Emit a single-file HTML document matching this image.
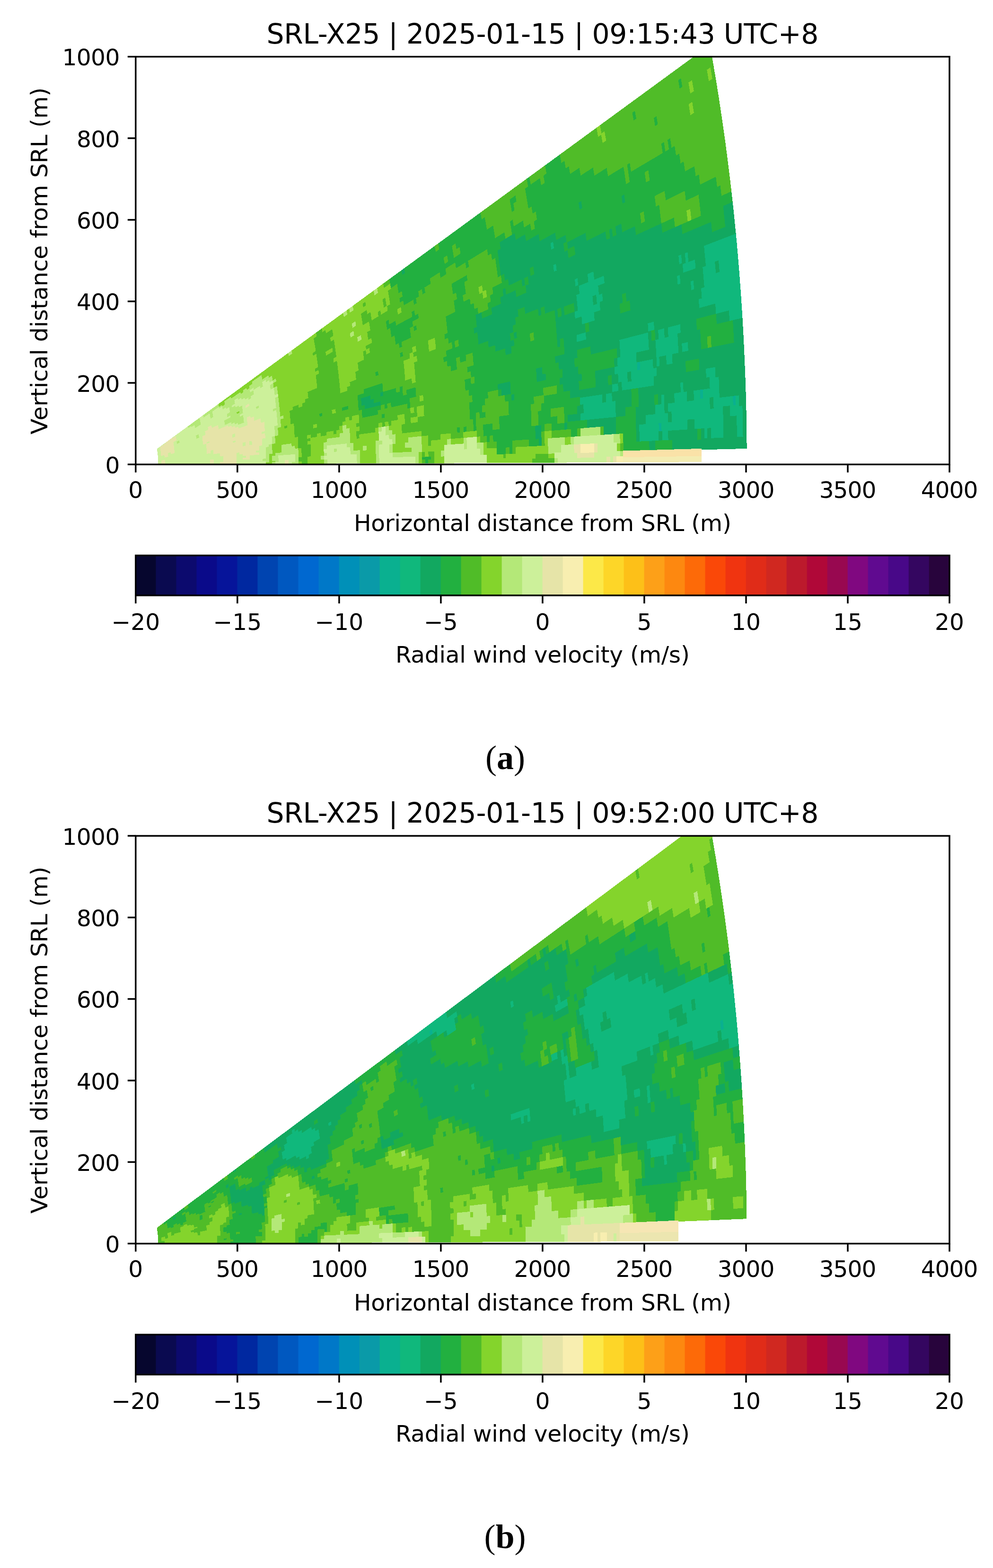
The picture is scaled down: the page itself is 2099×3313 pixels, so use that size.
<!DOCTYPE html>
<html lang="en">
<head>
<meta charset="utf-8">
<title>SRL-X25 radial wind velocity</title>
<style>html,body{margin:0;padding:0;background:#fff}body{width:2099px;height:3313px;overflow:hidden}svg{display:block}</style>
</head>
<body>
<svg width="2099" height="3313" viewBox="0 0 2099 3313">
<defs><clipPath id="axclip"><rect x="286.8" y="119.8" width="1720.2" height="861.5"/></clipPath></defs>
<rect width="2099" height="3313" fill="#fff"/>
<g transform="translate(0,0)">
<g clip-path="url(#axclip)"><g shape-rendering="crispEdges"><path fill="#0ab090" d="M1391.7 913.6L1399.6 913.1L1399.3 891.1L1391.4 891.7ZM1548.8 859.2L1556.7 858.5L1556 833.4L1548.1 834.3ZM1479.6 844.8L1487.5 843.9L1486.8 820.1L1478.9 821.2ZM1346.5 784.6L1354.4 783.1L1353.3 762L1345.5 763.6Z"/>
<path fill="#10b87c" d="M1350.8 934.9L1393 933.1L1392.7 911.2L1350.5 913.9ZM1398.9 932.8L1413.6 932.2L1413.3 909.9L1398.6 910.8ZM1488.1 929L1496 928.6L1495.7 904.7L1487.8 905.2ZM1501.9 928.4L1530.4 927.1L1530.1 902.5L1501.6 904.3ZM1556.8 926L1571.6 925.3L1571.2 899.9L1556.5 900.8ZM1350.6 916.1L1392.8 913.5L1392.4 891.6L1350.2 895.1ZM1398.6 913.2L1454.6 909.7L1454.2 886.6L1398.2 891.2ZM1467.3 909L1530.1 905.1L1529.7 880.5L1466.9 885.6ZM1556.5 903.5L1571.3 902.6L1570.8 877.2L1556.1 878.4ZM1364 896.2L1413 892.3L1412.5 870.1L1363.5 874.9ZM1418.9 891.9L1529.7 883.1L1529.2 858.5L1418.4 869.5ZM1542.4 882.1L1570.9 879.9L1570.3 854.5L1541.9 857.3ZM1226.3 890.4L1302.8 883L1302.3 862.9L1225.8 871.8ZM1384.1 875.2L1405.7 873.1L1405.1 850.9L1383.5 853.5ZM1411.6 872.5L1501.8 863.8L1501.1 839.7L1411 850.3ZM1507.6 863.2L1549.8 859.1L1549.1 834.2L1507 839.1ZM1555.6 858.6L1563.5 857.8L1562.9 832.6L1555 833.5ZM1232.7 873L1302.3 865.1L1301.7 845L1232.2 854.3ZM1397.3 854.2L1405.2 853.3L1404.5 831.2L1396.6 832.2ZM1424.8 851L1453.2 847.8L1452.5 824.7L1424.1 828.5ZM1465.9 846.3L1480.6 844.6L1479.9 821L1465.2 823ZM1486.5 844L1521.8 839.9L1521 815.5L1485.7 820.2ZM1225.4 857.2L1274.4 850.7L1273.7 831.2L1224.7 838.6ZM1280.2 849.9L1294.9 848L1294.2 828.1L1279.5 830.3ZM1437.8 829.1L1445.7 828.1L1444.9 805.1L1437 806.3ZM1499.5 820.9L1521.1 818.1L1520.3 793.7L1498.7 797ZM1293.3 830.3L1308 828.1L1307.2 807.9L1292.5 810.4ZM1313.8 827.2L1383.4 816.8L1382.5 795.1L1313 806.9ZM1491.9 800.5L1513.5 797.3L1512.5 773L1491 776.7ZM1306.3 810.2L1327.8 806.6L1326.9 786L1305.4 790.1ZM1333.6 805.6L1389.4 796.3L1388.5 774.5L1332.7 784.9ZM1298.6 793.5L1347.5 784.4L1346.5 763.4L1297.7 773.4ZM1353.3 783.3L1381.7 778L1380.7 756.4L1352.3 762.2ZM1387.5 777L1395.4 775.5L1394.3 753.6L1386.5 755.2ZM1408.1 773.1L1422.8 770.4L1421.7 747.9L1407 751ZM1304.6 774.2L1346.6 765.6L1345.5 744.7L1303.5 754ZM1386.6 757.5L1435.5 747.5L1434.3 724.8L1385.4 735.7ZM1441.3 746.4L1456 743.4L1454.7 720.2L1440.1 723.5ZM1310.5 754.7L1372.9 740.8L1371.7 719.3L1309.3 734.4ZM1385.6 738L1434.4 727.2L1433.1 704.5L1384.3 716.3ZM1309.4 736.6L1371.8 721.6L1370.5 700.2L1308.2 716.3ZM1391.3 717L1405.9 713.5L1404.6 691.3L1389.9 695.1ZM1411.7 712.1L1440 705.3L1438.6 682.5L1410.4 689.8ZM1541.3 681.1L1569.6 674.3L1568.1 648.9L1539.8 656.3ZM1369.6 702.7L1384.3 698.9L1382.8 677.2L1368.2 681.3ZM1512.7 665.9L1568.2 651.6L1566.5 626.3L1511.1 641.6ZM1218.7 724.8L1240.1 718.9L1238.7 700L1217.3 706.3ZM1477.2 653.6L1566.7 628.9L1564.9 603.6L1475.6 630ZM1482.5 630.5L1565.1 606.3L1563.2 581L1480.8 606.9ZM1229.8 687.6L1258 678.8L1256.4 659.6L1228.3 669ZM1460.6 615.7L1468.4 613.3L1466.5 589.9L1458.7 592.5ZM1487.7 607.3L1563.4 583.7L1561.4 558.5L1485.8 583.5ZM1214.9 675.4L1270.2 657.2L1268.5 637.7L1213.4 657ZM1431.8 603.9L1439.6 601.3L1437.7 578.6L1429.9 581.3ZM1486 586L1514.2 576.8L1512.1 552.5L1484 562.3ZM1519.9 574.9L1561.6 561.1L1559.5 535.9L1517.9 550.5ZM1220.3 656.6L1255.2 644.5L1253.5 625.4L1218.7 638.2ZM1260.9 642.5L1275.5 637.5L1273.7 617.9L1259.2 623.3ZM1443.6 579L1471.7 569.2L1469.6 545.8L1441.6 556.1ZM1491 562.5L1559.7 538.6L1557.5 513.4L1488.9 538.7ZM1218.8 640.1L1267.2 622.4L1265.3 603.1L1217.1 621.7ZM1435.1 561L1442.8 558.1L1440.7 535.3L1432.9 538.3ZM1448.6 556L1456.4 553.2L1454.2 530.1L1446.4 533.1ZM1489.1 541.2L1557.7 516.1L1555.4 491L1486.9 517.4ZM1224.1 621.1L1279 599.9L1277.1 580.3L1222.2 602.5ZM1215.7 607.2L1223.4 604.1L1221.5 585.6L1213.8 588.8ZM1242.6 596.4L1257.1 590.5L1255.1 571.3L1240.7 577.5ZM1170.2 576.4L1177.9 572.9L1175.9 555.3L1168.2 559ZM1164.6 529.7L1172.2 525.8L1169.9 508.3L1162.3 512.4Z"/>
<path fill="#12a860" d="M1371.6 953.2L1386.3 952.9L1386.1 931.1L1371.4 931.8ZM1419.6 952L1578.6 947.9L1578.4 922.3L1419.4 929.6ZM1137.9 944.2L1145.8 943.9L1145.6 926.9L1137.7 927.4ZM1343.9 935.2L1351.8 934.9L1351.5 913.8L1343.7 914.3ZM1392 933.1L1399.9 932.8L1399.6 910.8L1391.7 911.3ZM1412.6 932.2L1475.4 929.5L1475.1 906L1412.3 910ZM1481.3 929.3L1489.2 928.9L1488.9 905.1L1481 905.6ZM1495 928.7L1502.9 928.3L1502.6 904.2L1494.7 904.7ZM1529.3 927.2L1557.8 925.9L1557.5 900.8L1529 902.6ZM1570.6 925.4L1578.5 925L1578.1 899.5L1570.2 900ZM1130.8 929.6L1145.6 928.7L1145.3 911.7L1130.6 912.9ZM1275 920.7L1303.5 919L1303.2 898.9L1274.7 901.2ZM1343.7 916.5L1351.6 916.1L1351.2 895L1343.3 895.6ZM1453.5 909.8L1468.3 908.9L1467.9 885.5L1453.1 886.7ZM1529.1 905.2L1557.6 903.4L1557.1 878.3L1528.6 880.6ZM1570.3 902.7L1578.2 902.2L1577.7 876.6L1569.8 877.3ZM1130.6 914.6L1145.3 913.5L1145 896.5L1130.2 897.9ZM1192.4 909.8L1200.3 909.1L1199.9 891.1L1192 891.8ZM1240.4 906L1303.2 901L1302.8 880.9L1240 887.1ZM1343.4 897.8L1365 896.1L1364.5 874.8L1342.9 876.9ZM1412 892.4L1419.9 891.8L1419.4 869.4L1411.5 870.2ZM1528.7 883.2L1543.4 882L1542.9 857.2L1528.1 858.6ZM1569.9 879.9L1577.8 879.3L1577.2 853.8L1569.3 854.6ZM1198.9 893.1L1227.3 890.3L1226.9 871.7L1198.4 875ZM1301.8 883.1L1323.4 881L1322.9 860.5L1301.3 863ZM1343 879.1L1385.1 875.1L1384.6 853.3L1342.4 858.3ZM1404.7 873.2L1412.6 872.4L1412 850.1L1404.1 851.1ZM1500.8 863.9L1508.6 863.1L1508 838.9L1500.1 839.9ZM1562.5 857.9L1577.3 856.5L1576.6 831L1561.8 832.7ZM1219 874.6L1233.8 872.9L1233.2 854.2L1218.4 856.2ZM1301.3 865.2L1336.6 861.1L1336 840.4L1300.7 845.1ZM1349.3 859.7L1384.6 855.6L1384 833.9L1348.7 838.7ZM1390.5 855L1398.4 854.1L1397.7 832.1L1389.8 833.1ZM1404.2 853.4L1425.8 850.9L1425.1 828.4L1403.5 831.3ZM1452.2 847.9L1466.9 846.2L1466.2 822.9L1451.5 824.8ZM1520.8 840.1L1576.7 833.7L1575.9 808.1L1520 815.6ZM1273.3 850.9L1281.2 849.8L1280.5 830.1L1272.7 831.3ZM1293.9 848.1L1336.1 842.6L1335.3 821.8L1293.2 828.2ZM1348.7 840.9L1438.9 829L1438.1 806.2L1348 819.9ZM1444.7 828.2L1500.6 820.8L1499.7 796.8L1443.9 805.3ZM1520.1 818.2L1576 810.8L1575 785.3L1519.2 793.8ZM1204.2 843.7L1294.3 830.2L1293.5 810.2L1203.5 825.5ZM1307 828.3L1314.9 827.1L1314 806.7L1306.2 808.1ZM1382.3 817L1493 800.4L1492 776.5L1381.5 795.3ZM1512.5 797.4L1575.1 788L1574.1 762.6L1511.5 773.2ZM1080.4 848.1L1088.3 846.8L1087.6 831L1079.7 832.4ZM1189.9 829.8L1225.2 823.8L1224.3 805.3L1189.1 811.9ZM1258.4 818.3L1286.8 813.5L1285.9 793.7L1257.5 799ZM1292.6 812.5L1307.3 810.1L1306.4 789.9L1291.7 792.6ZM1326.8 806.8L1334.7 805.5L1333.8 784.7L1325.9 786.2ZM1388.4 796.4L1451 785.9L1450 762.9L1387.4 774.6ZM1477.4 781.5L1574.2 765.3L1573.1 739.8L1476.3 758ZM1059.2 837.9L1080.8 833.9L1080 818.2L1058.5 822.6ZM1182.4 815L1231.3 806L1230.4 787.3L1181.5 797.3ZM1257.6 801.1L1299.7 793.3L1298.7 773.2L1256.7 781.9ZM1380.7 778.2L1388.6 776.8L1387.5 755L1379.7 756.6ZM1394.4 775.7L1409.1 773L1408 750.8L1393.3 753.8ZM1421.7 770.6L1573.2 742.5L1572 717L1420.7 748.2ZM1051.7 825.6L1080.1 819.9L1079.3 804.2L1050.9 810.5ZM1133.8 808.9L1155.3 804.6L1154.4 787.4L1132.9 792.2ZM1188.4 797.8L1223.6 790.7L1222.6 772.1L1187.5 780ZM1297.8 775.6L1305.6 774L1304.6 753.8L1296.7 755.6ZM1345.6 765.8L1387.6 757.3L1386.5 735.5L1344.5 744.9ZM1434.4 747.8L1442.3 746.2L1441.1 723.3L1433.2 725.1ZM1454.9 743.6L1483.3 737.8L1482 714.1L1453.7 720.5ZM1550.6 724.1L1572.1 719.7L1570.8 694.3L1549.3 699.1ZM1133 794L1147.6 790.7L1146.7 773.7L1132 777.2ZM1180.8 783.4L1215.9 775.6L1214.9 757.2L1179.7 765.7ZM1303.6 756.2L1311.5 754.4L1310.3 734.2L1302.5 736.1ZM1371.9 741.1L1386.6 737.8L1385.3 716.1L1370.7 719.6ZM1433.4 727.5L1482.2 716.6L1480.8 693L1432.1 704.8ZM1549.4 701.8L1570.9 697L1569.5 671.6L1548 676.8ZM770.6 865.5L805.7 857.1L805.1 846.8L770 855.9ZM1173 769.2L1221.8 757.5L1220.6 739L1171.9 751.7ZM1248 751.3L1310.5 736.3L1309.2 716.1L1246.9 732.2ZM1370.8 721.9L1378.7 720L1377.3 698.4L1369.5 700.4ZM1384.5 718.6L1392.3 716.7L1390.9 694.9L1383.1 696.9ZM1404.9 713.7L1412.8 711.8L1411.4 689.6L1403.5 691.6ZM1439 705.5L1474.1 697.1L1472.7 673.7L1437.6 682.8ZM1514 687.6L1542.4 680.8L1540.8 656L1512.5 663.3ZM763.3 858.7L791.6 851.4L790.9 841.5L762.6 849.3ZM1192.5 748.3L1370.7 702.4L1369.2 681L1191.3 730.4ZM1383.3 699.2L1513.7 665.6L1512.1 641.4L1381.8 677.5ZM762.7 850.3L784.2 844.4L783.5 834.5L762 840.9ZM803.5 839L811.4 836.9L810.6 826.5L802.8 828.8ZM1177.8 736L1185.6 733.9L1184.4 716.1L1176.6 718.4ZM1191.4 732.3L1219.7 724.5L1218.4 706L1190.2 714.4ZM1239.1 719.1L1478.3 653.3L1476.6 629.7L1237.7 700.3ZM1068 752.2L1082.6 747.9L1081.4 732.1L1066.8 736.7ZM1176.7 720.3L1238.9 702L1237.5 683.2L1175.4 702.7ZM1244.7 700.3L1483.6 630.2L1481.8 606.6L1243.2 681.4ZM1046.6 744.7L1088.3 731.7L1087 715.8L1045.4 729.7ZM1175.5 704.5L1230.8 687.3L1229.3 668.6L1174.1 686.9ZM1257 679.2L1312.3 661.9L1310.7 641.6L1255.4 660ZM1331.6 655.9L1461.6 615.4L1459.7 592.2L1330 635.2ZM1467.4 613.6L1488.8 607L1486.9 583.2L1465.5 590.3ZM1031.9 735.7L1080.4 719.7L1079.1 704L1030.7 721ZM1086.2 717.8L1093.9 715.3L1092.6 699.3L1084.8 702ZM1174.3 688.8L1215.9 675.1L1214.4 656.7L1172.8 671.3ZM1269.2 657.5L1317.6 641.6L1315.9 621.2L1267.5 638.1ZM1323.4 639.7L1432.8 603.6L1430.9 580.9L1321.6 619.2ZM1438.6 601.7L1487.1 585.7L1485.1 562L1436.7 578.9ZM1513.2 577.1L1521 574.5L1518.9 550.1L1511.1 552.9ZM1010.5 729.6L1086 703.4L1084.6 687.6L1009.2 715.3ZM1172.9 673.1L1180.7 670.4L1179.1 652.7L1171.4 655.6ZM1186.5 668.4L1194.3 665.7L1192.7 647.8L1184.9 650.6ZM1213.5 659L1221.3 656.3L1219.7 637.8L1211.9 640.7ZM1254.2 644.9L1261.9 642.2L1260.2 622.9L1252.4 625.7ZM1274.5 637.8L1444.7 578.6L1442.6 555.7L1272.7 618.3ZM1470.7 569.6L1492 562.1L1489.9 538.3L1468.6 546.1ZM1009.4 716.8L1091.5 686.8L1090 670.8L1008 702.5ZM1137.8 669.8L1145.5 667L1143.9 650L1136.2 653ZM1151.3 664.9L1219.9 639.8L1218.1 621.3L1149.7 647.8ZM1266.1 622.8L1436.1 560.6L1434 537.9L1264.3 603.5ZM1441.8 558.5L1449.6 555.7L1447.4 532.7L1439.7 535.7ZM1455.3 553.6L1490.1 540.8L1487.9 517L1453.2 530.5ZM1001.4 706.6L1096.9 669.9L1095.3 653.9L1000 692.5ZM1109.4 665.1L1225.1 620.7L1223.2 602.1L1107.8 648.9ZM1278 600.3L1555.6 493.6L1553.1 468.5L1276.1 580.7ZM1006.9 691.3L1216.7 606.8L1214.8 588.4L1005.5 677ZM1222.4 604.5L1243.6 596L1241.7 577L1220.5 586ZM1256.1 590.9L1506.3 490.2L1503.8 466.1L1254.1 571.8ZM1532.2 479.7L1553.4 471.2L1550.8 446.2L1529.7 455.1ZM1005.6 678.6L1020.1 672.5L1018.5 658L1004.1 664.3ZM1039.2 664.4L1443.6 494.1L1441.1 471.2L1037.6 649.5ZM1529.9 457.7L1551.1 448.8L1548.4 423.8L1527.3 433.1ZM1057.9 642.2L1092.5 627.1L1090.7 611.1L1056.2 627ZM1111.6 618.6L1401.1 491.4L1398.6 469.3L1109.8 602.3ZM1063.1 625.5L1070.8 622L1069 606.5L1061.3 610.2ZM1103.3 607.1L1111 603.6L1109.1 587.3L1101.4 591ZM1116.7 601L1171.2 576L1169.2 558.5L1114.8 584.6ZM1176.9 573.4L1345.3 496.2L1342.9 475.3L1174.9 555.8ZM1074.9 605.5L1122.7 582.7L1120.6 566.1L1073 589.9ZM1128.3 580L1202.8 544.4L1200.6 526.3L1126.3 563.3ZM1215.2 538.5L1283 506.2L1280.6 486.5L1213 520.2ZM1288.7 503.5L1296.4 499.8L1294 479.8L1286.3 483.7ZM1302.1 497.1L1316.4 490.2L1314 469.9L1299.6 477ZM1066.5 594.8L1194.2 531.5L1191.9 513.6L1064.6 579.4ZM1199.9 528.7L1240.9 508.4L1238.5 489.5L1197.6 510.7ZM1058.1 584.5L1165.6 529.2L1163.3 511.8L1056.1 569.2ZM1171.2 526.3L1198.8 512.1L1196.5 494L1168.9 508.8ZM1056.4 570.8L1176.8 506.6L1174.4 489L1054.3 555.6ZM1315.2 432.8L1322.9 428.7L1320.1 408.2L1312.5 412.4ZM1054.5 557.2L1141.6 509.1L1139.2 492.2L1052.4 542.1ZM1052.6 543.7L1113.1 509.1L1110.7 492.8L1050.4 528.5ZM1224.4 445.5L1232 441.2L1229.2 422.5L1221.7 427ZM1057.2 526.2L1091.2 506.2L1088.8 490.3L1055 511ZM849.8 582.7L857.3 577.4L855.3 566.1L847.8 571.6Z"/>
<path fill="#22b040" d="M897.7 978.7L905.6 978.7L905.6 970.9L897.7 971ZM890.8 972.4L912.5 972.1L912.4 963.8L890.8 964.4ZM1048.8 961.6L1070.4 961L1070.3 945.5L1048.6 946.5ZM1076.2 960.9L1084.1 960.7L1084 944.9L1076.1 945.3ZM1316.6 954.7L1372.6 953.2L1372.4 931.7L1316.4 934.3ZM1385.3 952.9L1420.7 952L1420.5 929.5L1385.1 931.1ZM1048.6 948.1L1084 946.6L1083.8 930.8L1048.4 933ZM1117.3 945.1L1138.9 944.2L1138.7 927.3L1117.1 928.7ZM1316.5 936.4L1345 935.2L1344.7 914.3L1316.2 916.1ZM1474.4 929.6L1482.3 929.2L1482 905.6L1474.1 906.1ZM1027.9 935.9L1035.8 935.4L1035.5 920.6L1027.6 921.2ZM1041.6 935L1131.9 929.5L1131.6 912.8L1041.3 920.1ZM1206.4 924.9L1221.1 924L1220.8 905.6L1206 906.8ZM1302.5 919.1L1344.7 916.5L1344.3 895.5L1302.1 899ZM1020.8 923.3L1131.6 914.6L1131.2 897.8L1020.4 908.8ZM1144.3 913.6L1152.2 912.9L1151.8 895.8L1143.9 896.6ZM1164.9 911.9L1193.4 909.7L1193 891.7L1164.5 894.6ZM1199.2 909.2L1241.4 905.9L1241 887L1198.8 891.2ZM1302.2 901.1L1344.4 897.8L1343.9 876.8L1301.7 881ZM965.6 915.6L973.5 914.9L973.1 901.3L965.2 902.2ZM979.3 914.3L987.2 913.6L986.8 899.7L979 900.6ZM999.9 912.3L1007.8 911.6L1007.4 897.3L999.5 898.2ZM1020.5 910.3L1042.1 908.2L1041.7 893.3L1020.1 895.8ZM1054.8 907L1124.4 900.3L1124 883.7L1054.4 891.8ZM1137.1 899.1L1179.3 895L1178.8 877.3L1136.7 882.2ZM1192 893.7L1199.9 893L1199.4 874.9L1191.5 875.8ZM1322.4 881.1L1344 879L1343.4 858.1L1321.8 860.6ZM999.6 899.7L1007.5 898.8L1007 884.6L999.1 885.6ZM1054.4 893.4L1124 885.5L1123.5 868.9L1054 878.2ZM1136.7 884L1165.2 880.8L1164.6 863.4L1136.2 867.2ZM1191.6 877.7L1220.1 874.5L1219.5 856L1191 859.8ZM1335.6 861.3L1350.3 859.6L1349.7 838.5L1335 840.5ZM1383.6 855.8L1391.5 854.9L1390.8 833L1382.9 834.1ZM992.3 888L1007.1 886.1L1006.6 871.8L991.8 874.1ZM1012.9 885.3L1027.6 883.3L1027.1 868.7L1012.4 870.9ZM1074.6 877.1L1123.6 870.7L1123 854.1L1074 861.6ZM1143.1 868.1L1226.4 857.1L1225.7 838.5L1142.5 851.1ZM1335 842.7L1349.8 840.7L1349 819.7L1334.3 822ZM991.9 875.5L1020.3 871.3L1019.7 856.8L991.3 861.6ZM1074.1 863.2L1129.9 854.8L1129.3 838.1L1073.5 847.6ZM1149.4 851.9L1205.3 843.5L1204.5 825.4L1148.8 834.8ZM991.4 863.1L1026.7 857.1L1026 842.5L990.8 849.1ZM1066.7 850.4L1081.4 848L1080.7 832.2L1066 835ZM1087.2 847L1149.9 836.5L1149.1 819.4L1086.5 831.1ZM1176.2 832L1190.9 829.6L1190.1 811.7L1175.4 814.5ZM1224.1 824L1259.4 818.1L1258.5 798.9L1223.3 805.5ZM1285.7 813.7L1293.6 812.3L1292.7 792.4L1284.9 793.9ZM1450 786.1L1478.4 781.3L1477.4 757.8L1449 763.1ZM806.2 884.9L814 883.4L813.5 873L805.7 874.6ZM997.7 849.3L1032.9 842.8L1032.2 828L997 835.3ZM1052.4 839.2L1060.3 837.7L1059.5 822.4L1051.7 824ZM1079.8 834.1L1183.4 814.9L1182.5 797.1L1079 818.4ZM1230.2 806.2L1258.6 800.9L1257.7 781.7L1229.3 787.5ZM764.7 884L799.9 876.9L799.4 866.7L764.2 874.6ZM860.4 864.6L868.3 863L867.7 851.5L859.8 853.2ZM990.2 838.1L1052.8 825.4L1052 810.3L989.5 824.2ZM1079.1 820.1L1134.8 808.7L1133.9 792L1078.3 804.4ZM1154.3 804.8L1189.5 797.6L1188.5 779.8L1153.3 787.6ZM1222.6 790.9L1298.8 775.4L1297.7 755.3L1221.6 772.4ZM1482.3 738L1497 735L1495.7 711.1L1481 714.4ZM1502.8 733.8L1551.6 723.9L1550.3 698.9L1501.5 709.8ZM764.3 875.6L806.3 866.3L805.7 856L763.7 866.1ZM812.1 865L819.9 863.3L819.3 852.7L811.5 854.6ZM825.7 862L867.7 852.7L867.1 841.2L825.1 851.3ZM982.8 827.2L1134 793.7L1133 777L982 813.5ZM1146.6 790.9L1181.8 783.2L1180.8 765.5L1145.6 773.9ZM1214.9 775.8L1304.7 755.9L1303.5 735.8L1213.8 757.5ZM1481.2 716.9L1550.5 701.5L1549 676.5L1479.8 693.3ZM757 868.8L771.6 865.3L771 855.7L756.4 859.5ZM804.7 857.3L880.8 839.1L880 827.4L804.1 847.1ZM982.1 814.9L996.7 811.4L995.8 797.4L981.2 801.2ZM1002.5 810L1174 769L1173 751.4L1001.6 795.9ZM1220.8 757.8L1249.1 751L1247.9 732L1219.6 739.3ZM1377.6 720.2L1385.5 718.4L1384.1 696.6L1376.3 698.7ZM1473.1 697.4L1515.1 687.3L1513.6 663.1L1471.7 673.9ZM674.7 881.5L682.5 879.5L682 871.7L674.2 873.8ZM722.4 869.2L737 865.5L736.5 856.6L721.8 860.6ZM756.5 860.5L764.3 858.4L763.7 849L755.8 851.2ZM790.5 851.7L852.9 835.7L852.1 824.5L789.9 841.7ZM858.7 834.2L880.1 828.6L879.3 816.9L857.9 822.9ZM994.9 799.1L1193.5 748L1192.3 730.1L994 785.1ZM755.9 852.2L763.7 850L763.1 840.6L755.3 842.9ZM783.1 844.7L804.6 838.8L803.8 828.5L782.4 834.8ZM810.4 837.2L838.6 829.4L837.8 818.5L809.6 826.8ZM844.4 827.8L852.2 825.6L851.4 814.5L843.6 816.8ZM987.3 788.5L1178.8 735.7L1177.6 718.1L986.3 774.6ZM1184.6 734.1L1192.5 732L1191.2 714.1L1183.4 716.4ZM755.3 843.9L810.7 827.6L809.9 817.3L754.6 834.6ZM952.4 786L967 781.8L966 768.3L951.4 772.9ZM1000 772.1L1069 751.9L1067.8 736.4L998.9 758ZM1081.6 748.2L1177.7 720L1176.4 702.3L1080.4 732.4ZM1237.9 702.3L1245.7 700L1244.3 681.1L1236.5 683.5ZM768.3 831.3L810 818.3L809.2 808L767.5 821.8ZM944.7 776.4L966.1 769.7L965.1 756.3L943.7 763.4ZM971.9 767.9L986.5 763.4L985.4 749.6L970.8 754.4ZM999 759.5L1047.6 744.4L1046.4 729.3L997.9 745.4ZM1087.3 732L1122.2 721.1L1120.9 704.6L1086 716.2ZM1128 719.3L1176.5 704.2L1175.1 686.6L1126.7 702.7ZM1311.3 662.2L1332.6 655.6L1331 634.9L1309.6 642ZM937 767L1032.9 735.4L1031.7 720.6L936 754.1ZM1079.4 720.1L1087.2 717.5L1085.8 701.7L1078 704.4ZM1092.9 715.6L1175.3 688.5L1173.8 670.9L1091.6 699.7ZM1316.6 641.9L1324.4 639.3L1322.7 618.8L1314.9 621.5ZM942.8 753.1L1011.5 729.2L1010.3 714.9L941.7 740.2ZM1085 703.7L1174 672.8L1172.4 655.2L1083.6 687.9ZM1179.7 670.8L1187.5 668.1L1185.9 650.2L1178.1 653.1ZM1193.2 666.1L1214.6 658.6L1212.9 640.3L1191.6 648.1ZM793.2 796L800.9 793.1L800 782.9L792.2 785.9ZM955.3 736.6L963.1 733.7L961.8 720.4L954.1 723.4ZM968.8 731.6L1010.4 716.4L1009.1 702.1L967.6 718.2ZM1090.5 687.1L1138.8 669.4L1137.2 652.6L1089 671.2ZM1144.5 667.3L1152.3 664.5L1150.7 647.4L1142.9 650.4ZM947.5 727.4L1002.5 706.2L1001.1 692.1L946.2 714.3ZM1095.9 670.3L1110.4 664.8L1108.8 648.5L1094.3 654.3ZM845.3 756.4L853.1 753.3L851.9 742.1L844.2 745.3ZM939.6 718.4L1007.9 690.9L1006.5 676.6L938.3 705.5ZM1505.3 490.6L1533.2 479.3L1530.7 454.7L1502.8 466.5ZM945.1 704L1006.6 678.1L1005.1 663.9L943.7 691ZM1019.1 672.9L1040.2 664L1038.6 649.1L1017.5 658.4ZM1442.6 494.5L1530.9 457.3L1528.3 432.7L1440.1 471.7ZM843.2 736.6L851 733.2L849.7 722.1L842 725.6ZM943.9 692.4L1012 662.5L1010.4 648.1L942.4 679.4ZM1031.1 654L1058.9 641.8L1057.2 626.5L1029.5 639.3ZM1091.5 627.5L1112.6 618.2L1110.8 601.9L1089.7 611.6ZM1400.1 491.8L1428 479.6L1425.4 457L1397.6 469.8ZM1480.6 456.4L1548.7 426.5L1545.9 401.5L1478 432.8ZM835.4 729.9L869.9 714.1L868.6 702.5L834.2 719ZM942.6 680.8L1003.9 652.7L1002.2 638.5L941.1 667.8ZM1036.3 637.8L1064.1 625.1L1062.3 609.7L1034.6 623ZM1069.8 622.5L1104.3 606.7L1102.4 590.5L1068 607ZM1110 604.1L1117.7 600.5L1115.8 584.1L1108.1 587.8ZM1344.3 496.7L1398.9 471.7L1396.3 449.7L1341.9 475.8ZM1478.3 435.3L1526.1 413.4L1523.3 388.9L1475.5 411.7ZM834.3 720.2L868.7 703.8L867.3 692.3L833 709.4ZM874.4 701.1L882.1 697.4L880.7 685.6L873 689.4ZM961.3 659.6L995.7 643.2L994 629.2L959.7 646.3ZM1041.5 621.4L1075.9 605L1074 589.4L1039.7 606.5ZM1121.6 583.1L1129.3 579.5L1127.3 562.8L1119.6 566.6ZM1201.8 544.9L1216.2 538L1214 519.7L1199.6 526.8ZM1282 506.7L1289.7 503L1287.3 483.2L1279.6 487ZM1295.4 500.3L1303.1 496.6L1300.6 476.5L1293 480.3ZM1315.4 490.7L1356.5 471.1L1354 450L1313 470.4ZM1362.2 468.4L1396.6 452L1394 430.1L1359.6 447.2ZM1449.1 427L1516.9 394.6L1513.9 370.3L1446.3 404ZM826.5 713.8L874.2 690.2L872.7 678.6L825.1 703.1ZM959.8 647.7L980.8 637.3L979.1 623.6L958.2 634.4ZM1059.9 598.1L1067.5 594.3L1065.6 578.9L1057.9 582.9ZM1193.2 532L1200.9 528.2L1198.6 510.2L1190.9 514.1ZM1239.9 508.9L1387.6 435.7L1384.8 413.9L1237.5 490.1ZM1406.6 426.3L1480.9 389.4L1477.9 365.8L1403.8 404.1ZM825.3 704.3L886.2 672.9L884.6 661.1L823.9 693.6ZM965 632.4L985.9 621.6L984.1 607.8L963.2 619ZM1051.5 587.9L1059.1 584L1057.1 568.7L1049.5 572.8ZM1197.8 512.6L1471.6 371.7L1468.6 348.3L1195.5 494.6ZM817.4 698.3L838.3 687.1L836.8 676.2L816 687.8ZM870.5 670L878.1 665.9L876.5 654.2L868.9 658.4ZM956.8 623.9L984.3 609.2L982.5 595.5L955 610.7ZM1049.7 574.4L1057.3 570.3L1055.3 555.1L1047.7 559.3ZM1175.8 507.1L1316.2 432.2L1313.5 411.9L1173.4 489.5ZM1321.9 429.2L1449 361.4L1445.9 338.5L1319.1 408.8ZM816.1 688.9L823.7 684.7L822.3 674.1L814.7 678.5ZM955.2 612.1L989.3 593.3L987.3 579.4L953.3 598.9ZM1047.9 560.9L1055.5 556.7L1053.4 541.5L1045.8 545.9ZM1140.6 509.7L1366.7 384.8L1363.7 363.4L1138.2 492.8ZM1372.4 381.7L1439.6 344.5L1436.4 321.8L1369.3 360.2ZM874.3 645.6L881.9 641.2L880.2 629.5L872.6 634ZM1039.4 551.2L1053.6 543.1L1051.4 527.9L1037.2 536.3ZM1112.1 509.7L1225.3 445L1222.7 426.4L1109.7 493.4ZM1231 441.8L1324.4 388.3L1321.5 367.8L1228.3 423.1ZM1330 385.1L1430.1 327.9L1426.8 305.3L1327 364.5ZM853 646.9L886.9 626.8L885.2 615L851.3 635.7ZM892.5 623.5L900.1 619.1L898.3 606.9L890.7 611.6ZM984.8 569.1L992.3 564.6L990.3 550.6L982.7 555.3ZM1030.9 541.8L1058.2 525.7L1055.9 510.4L1028.7 527.1ZM1090.2 506.8L1124.1 486.7L1121.6 470.2L1087.8 490.9ZM1129.7 483.4L1321.8 370L1318.7 349.6L1127.2 466.8ZM1327.4 366.7L1334.9 362.2L1331.8 341.5L1324.3 346.1ZM1399.8 323.9L1407.4 319.4L1404.1 297.3L1396.5 301.9ZM1413 316.1L1420.6 311.6L1417.2 289.2L1409.7 293.9ZM844.9 640.9L911.6 600.2L909.7 587.9L843.2 629.9ZM930.4 588.8L944.5 580.2L942.5 567.2L928.4 576.1ZM963.2 568.7L1069.3 504L1066.9 488.6L961.1 555.4ZM1081.5 496.6L1108.8 480L1106.2 463.7L1079.1 480.9ZM1134.1 464.5L1286.2 371.8L1283.1 352L1131.5 447.8ZM850 626.9L1047.5 502.6L1045.1 487.5L848.2 615.8ZM1079.3 482.6L1086.9 477.8L1084.3 462L1076.8 466.9ZM1125.2 453.7L1257.2 370.6L1254.2 351.4L1122.6 437.1ZM841.8 621.2L940.8 557L938.7 544L840 610.2ZM946.4 553.4L960.4 544.2L958.3 530.9L944.3 540.3ZM972.5 536.4L1045.4 489.1L1042.9 474.1L970.3 522.8ZM1116.3 443.1L1228.4 370.4L1225.3 351.8L1113.6 426.7ZM1384.2 269.3L1391.7 264.4L1388.2 242.6L1380.7 247.6ZM840.2 611.4L958.5 532.3L956.2 519.1L838.4 600.4ZM964 528.6L1030.2 484.4L1027.7 469.7L961.8 515.3ZM1081.3 450.2L1088.8 445.2L1086.1 429.4L1078.7 434.5ZM1113.9 428.5L1206.1 366.8L1203 348.7L1111.1 412.1ZM825.6 610.5L1027.9 471.3L1025.4 456.7L823.7 599.9ZM1078.9 436.2L1092.9 426.6L1090.1 410.7L1076.2 420.6ZM1111.4 413.9L1144.9 390.8L1141.9 373.9L1108.6 397.6ZM1150.4 387L1196.9 355.1L1193.7 337.1L1147.4 370ZM1338.8 257.4L1346.3 252.2L1342.6 231.3L1335.2 236.6ZM1436.2 190.3L1443.7 185.2L1439.7 162.3L1432.3 167.6ZM823.9 601L850.8 582L848.8 570.9L822 590.4ZM856.3 578.1L922 531.6L919.8 519L854.3 566.8ZM927.6 527.7L1019.2 462.8L1016.6 448.3L925.3 515ZM1115.4 394.7L1122.8 389.4L1119.9 372.9L1112.4 378.3ZM1154.2 367.2L1187.6 343.6L1184.4 325.8L1151.2 350.1Z"/>
<path fill="#50bc28" d="M636.7 979.8L651.5 979.8L651.4 975.2L636.7 975.4ZM890.8 978.8L898.7 978.7L898.7 971L890.8 971.2ZM904.6 978.7L919.3 978.6L919.3 970.7L904.5 970.9ZM1124.4 977.8L1173.5 977.6L1173.5 966.4L1124.3 967.2ZM629.8 976.3L651.4 975.9L651.4 971.1L629.8 971.7ZM911.4 972.1L919.3 972L919.3 963.6L911.4 963.8ZM1062.5 969.9L1070.4 969.8L1070.4 959.4L1062.5 959.6ZM1131.2 968.9L1159.7 968.5L1159.7 956.9L1131.2 957.7ZM629.8 972.4L651.4 971.9L651.4 964.6L629.7 965.6ZM890.8 965.7L898.7 965.5L898.6 953.4L890.7 953.7ZM904.5 965.3L919.3 964.9L919.2 952.4L904.4 953.1ZM1069.4 961.1L1077.3 960.8L1077.1 945.2L1069.2 945.6ZM1083.1 960.7L1091 960.5L1090.9 944.6L1083 944.9ZM1309.8 954.8L1317.7 954.6L1317.5 934.2L1309.6 934.6ZM636.6 966.1L658.2 965.1L658.1 957.8L636.5 959.1ZM1028 949L1049.7 948.1L1049.5 933L1027.8 934.3ZM1083 946.6L1118.3 945.1L1118.1 928.6L1082.8 930.9ZM1144.8 943.9L1152.7 943.6L1152.5 926.4L1144.6 926.9ZM636.5 959.9L658.1 958.5L658 951.2L636.4 952.9ZM904.3 943.5L912.2 943L912 930.6L904.1 931.2ZM1014.1 936.7L1028.9 935.8L1028.6 921.1L1013.9 922.3ZM1034.7 935.5L1042.6 935L1042.4 920L1034.5 920.7ZM1144.6 928.7L1152.5 928.3L1152.2 911.1L1144.3 911.8ZM1165.2 927.5L1207.4 924.9L1207.1 906.7L1164.9 910.1ZM1220.1 924.1L1228 923.6L1227.7 905L1219.8 905.6ZM1268.2 921.2L1276.1 920.7L1275.7 901.1L1267.8 901.7ZM636.4 953.7L658 952L657.9 944.6L636.3 946.8ZM904.1 932.5L932.6 930.3L932.3 917.5L903.8 920.3ZM952.1 928.7L980.6 926.5L980.3 912.8L951.8 915.6ZM1007 924.4L1021.8 923.2L1021.5 908.7L1006.7 910.2ZM1151.2 913L1165.9 911.9L1165.6 894.5L1150.8 895.9ZM629.4 948.2L657.9 945.4L657.7 938.1L629.2 941.4ZM890.1 922.9L966.6 915.5L966.3 902.1L889.8 911ZM972.5 915L980.4 914.2L980 900.5L972.1 901.4ZM986.2 913.7L1000.9 912.2L1000.6 898.1L985.8 899.8ZM1006.8 911.7L1021.5 910.2L1021.1 895.7L1006.4 897.4ZM1041.1 908.3L1055.8 906.9L1055.4 891.7L1040.7 893.4ZM1123.4 900.4L1138.2 899L1137.7 882.1L1123 883.8ZM1178.3 895.1L1193 893.6L1192.6 875.7L1177.8 877.4ZM629.3 942.1L650.9 939.6L650.6 932.4L629 935.3ZM752.7 928L760.6 927.1L760.3 917.7L752.4 918.8ZM848.7 917L1000.6 899.6L1000.2 885.5L848.4 905.9ZM1006.4 898.9L1055.5 893.3L1055 878.1L1006 884.7ZM1123 885.6L1137.8 883.9L1137.2 867.1L1122.5 869ZM1164.2 880.9L1192.6 877.6L1192.1 859.7L1163.6 863.5ZM629.1 936L657.5 932.3L657.3 924.9L628.8 929.3ZM752.4 919.7L794.6 914.2L794.2 904.1L752.1 910.5ZM848.4 907L993.4 887.9L992.9 873.9L848 895.9ZM1006 886.2L1013.9 885.2L1013.4 870.8L1005.5 872ZM1026.6 883.5L1075.6 877L1075.1 861.4L1026.1 868.8ZM1122.6 870.8L1144.1 867.9L1143.5 851L1122 854.3ZM628.9 930L650.4 926.8L650.1 919.6L628.6 923.2ZM656.3 925.9L671 923.7L670.7 916.1L656 918.6ZM676.8 922.8L691.5 920.6L691.2 912.6L676.5 915.1ZM704.2 918.7L712.1 917.5L711.7 909.1L703.9 910.4ZM759 910.5L801.1 904.1L800.7 894L758.6 901.1ZM806.9 903.3L814.8 902.1L814.4 891.6L806.5 893ZM820.6 901.2L828.5 900L828.1 889.3L820.2 890.7ZM854.9 896.1L869.6 893.9L869.2 882.3L854.4 884.8ZM882.3 892L992.9 875.4L992.4 861.4L881.8 880.2ZM1019.3 871.4L1075.1 863L1074.5 847.5L1018.7 856.9ZM1128.9 855L1150.5 851.7L1149.8 834.7L1128.2 838.3ZM621.8 925.1L718.6 908.8L718.3 900.3L621.5 918.5ZM751.8 903.3L841.8 888.2L841.4 877.2L751.4 894.1ZM854.5 886L882.9 881.3L882.4 869.5L854 874.8ZM895.6 879.1L992.4 862.9L991.8 848.9L895 867.1ZM1025.6 857.3L1067.7 850.3L1067 834.8L1025 842.7ZM1148.8 836.6L1177.2 831.9L1176.5 814.3L1148.1 819.6ZM621.5 919.2L725.1 899.9L724.7 891.3L621.2 912.5ZM758.3 893.8L807.2 884.7L806.7 874.4L757.8 884.4ZM813 883.6L868.8 873.3L868.2 861.8L812.5 873.2ZM874.6 872.2L882.4 870.7L881.9 858.9L874 860.6ZM895.1 868.4L998.7 849.1L998 835.1L894.5 856.3ZM1031.9 843L1053.4 839L1052.7 823.8L1031.2 828.2ZM621.2 913.2L663.3 904.7L662.9 897.2L620.9 906.6ZM669.1 903.5L731.6 890.8L731.1 882L668.7 895.9ZM737.4 889.6L745.3 888L744.8 878.9L736.9 880.7ZM757.9 885.4L765.8 883.8L765.3 874.4L757.4 876.1ZM798.9 877.1L861.4 864.4L860.8 853L798.4 867ZM867.2 863.2L991.3 837.9L990.5 824L866.6 851.7ZM1495.9 735.2L1503.8 733.6L1502.5 709.6L1494.7 711.3ZM620.9 907.3L765.3 875.4L764.8 865.9L620.5 900.7ZM805.2 866.5L813.1 864.8L812.5 854.4L804.7 856.3ZM818.9 863.5L826.8 861.8L826.1 851.1L818.3 853ZM866.7 852.9L888.2 848.2L887.5 836.3L866 841.4ZM894 846.9L983.8 827L983 813.2L893.3 834.9ZM600.1 906.3L608 904.4L607.6 898.1L599.7 900.1ZM620.6 901.4L758 868.5L757.4 859.2L620.2 894.8ZM879.7 839.4L983.1 814.7L982.2 800.9L879 827.7ZM995.7 811.6L1003.5 809.8L1002.7 795.6L994.8 797.6ZM613.4 897.3L675.7 881.2L675.2 873.5L613 890.8ZM681.5 879.7L703 874.2L702.4 866L681 871.9ZM708.8 872.7L723.4 869L722.8 860.3L708.2 864.4ZM736 865.7L757.5 860.2L756.9 850.9L735.4 856.8ZM851.8 835.9L859.7 833.9L858.9 822.6L851.1 824.7ZM879.1 828.9L995.9 798.8L995 784.8L878.3 817.2ZM613 891.5L756.9 851.9L756.3 842.6L612.6 885ZM837.6 829.7L845.4 827.5L844.6 816.5L836.8 818.8ZM851.2 825.9L988.3 788.2L987.3 774.3L850.4 814.8ZM612.6 885.7L756.3 843.6L755.6 834.3L612.1 879.3ZM809.7 827.9L871.9 809.7L871 798.1L808.9 817.6ZM877.7 808L953.4 785.7L952.4 772.6L876.8 796.3ZM966 782.1L1001 771.8L1000 757.7L965 768.6ZM612.2 880L769.3 831L768.5 821.5L611.7 873.5ZM809 818.7L857.5 803.6L856.6 792.3L808.2 808.3ZM876.9 797.5L945.8 776.1L944.7 763L875.9 785.9ZM965.1 770L972.9 767.6L971.8 754L964 756.6ZM985.5 763.7L1000.1 759.2L998.9 745.1L984.4 749.9ZM1121.2 721.4L1129 719L1127.7 702.3L1119.9 704.9ZM611.7 874.2L856.7 793.5L855.8 782.2L611.2 867.8ZM876 787.1L938.1 766.7L937 753.8L875.1 775.4ZM618 866.1L632.5 861.1L631.9 854.2L617.4 859.6ZM638.3 859.1L720.5 830.5L719.8 821.9L637.7 852.1ZM733 826.1L855.9 783.4L854.9 772.1L732.3 817.3ZM875.2 776.7L943.9 752.8L942.7 739.8L874.1 765ZM644.5 850.4L719.8 822.8L719 814.2L643.8 843.3ZM739.1 815.7L794.2 795.6L793.2 785.6L738.3 806.8ZM799.9 793.5L855 773.3L853.9 762.1L799 783.3ZM881 763.8L956.3 736.2L955.1 723L879.9 752.1ZM962.1 734.1L969.9 731.3L968.6 717.8L960.8 720.8ZM650.7 841.5L719.1 815.1L718.3 806.6L649.9 834.3ZM751.8 802.6L867.5 758.1L866.4 746.6L750.9 793.4ZM873.3 755.9L908 742.5L906.8 730.3L872.1 744.3ZM920.5 737.7L948.5 727L947.2 713.9L919.3 725.2ZM650 835L718.4 807.5L717.5 799L649.3 827.8ZM751 794.3L846.3 756L845.2 744.9L750.1 785.2ZM852 753.7L873.3 745.1L872.1 733.5L850.9 742.5ZM879 742.8L906.9 731.6L905.7 719.3L877.8 731.1ZM919.4 726.5L940.6 718L939.3 705.1L918.1 714ZM669.5 820.1L717.6 799.9L716.7 791.3L668.7 812.5ZM756.9 783.3L946.1 703.6L944.7 690.6L755.9 774ZM668.8 813.3L716.8 792.2L715.8 783.7L668 805.8ZM756 775L844.3 736.2L843 725.2L755 765.7ZM850 733.7L944.9 692L943.4 678.9L848.7 722.6ZM1011 662.9L1032.1 653.6L1030.5 638.9L1009.4 648.6ZM1426.9 480L1454.8 467.8L1452.2 444.7L1424.4 457.5ZM1460.5 465.2L1481.6 456L1479 432.3L1457.9 442ZM668 806.6L715.9 784.6L714.9 776.2L667.2 799.1ZM768.5 760.6L836.5 729.4L835.2 718.5L767.4 751ZM868.9 714.5L943.6 680.3L942.1 667.3L867.6 703ZM1002.8 653.2L1037.3 637.4L1035.6 622.5L1001.2 639ZM1397.9 472.1L1479.3 434.8L1476.5 411.3L1395.3 450.2ZM1525.1 413.8L1546.2 404.2L1543.3 379.3L1522.3 389.3ZM667.3 799.8L715 777.1L714 768.6L666.3 792.3ZM767.5 752L775.2 748.4L774 738.7L766.3 742.5ZM780.9 745.7L835.3 719.7L834 708.9L779.7 735.9ZM867.7 704.2L875.4 700.6L874 688.9L866.3 692.8ZM881.1 697.9L962.3 659.1L960.7 645.8L879.7 686.1ZM994.7 643.7L1022.4 630.5L1020.7 615.9L993 629.7ZM1028.1 627.8L1042.5 620.9L1040.7 606L1026.3 613.1ZM1355.5 471.6L1363.2 467.9L1360.6 446.7L1353 450.5ZM1395.6 452.5L1450.1 426.5L1447.3 403.5L1393 430.6ZM1515.9 395.1L1543.6 381.9L1540.6 357L1512.9 370.8ZM673.1 789.8L714.1 769.5L713.1 761L672.2 782.2ZM773.1 740.2L827.5 713.3L826.1 702.6L771.9 730.6ZM873.2 690.7L960.8 647.2L959.2 633.9L871.7 679.1ZM979.8 637.8L1014.2 620.8L1012.4 606.4L978.1 624.1ZM1019.8 618L1060.9 597.6L1058.9 582.3L1018 603.5ZM1386.6 436.2L1407.6 425.8L1404.8 403.6L1383.8 414.4ZM1479.9 389.9L1540.9 359.7L1537.8 334.9L1477 366.3ZM665.6 786.4L706.5 765.4L705.4 757.1L664.6 778.9ZM785.4 724.8L826.3 703.8L824.9 693.1L784.1 714.9ZM885.2 673.5L966 631.9L964.2 618.4L883.6 661.6ZM984.9 622.1L1052.5 587.4L1050.5 572.2L983.1 608.3ZM1470.6 372.3L1538.1 337.5L1534.9 312.8L1467.6 348.9ZM671.4 776.2L712.2 754.4L711.1 746L670.3 768.6ZM777.6 719.5L818.4 697.8L817 687.3L776.3 709.8ZM837.3 687.7L871.5 669.4L869.9 657.9L835.8 676.8ZM877.1 666.4L957.8 623.4L956 610.1L875.6 654.8ZM983.3 609.8L1050.7 573.8L1048.7 558.7L981.5 596ZM1448 362L1535.3 315.4L1531.9 290.7L1444.9 339ZM670.4 769.4L711.2 746.9L710 738.5L669.4 761.8ZM776.4 710.9L817.1 688.4L815.7 677.9L775 701.2ZM822.7 685.3L956.2 611.6L954.3 598.3L821.3 674.7ZM988.3 593.8L1048.9 560.3L1046.8 545.3L986.3 580ZM1365.7 385.3L1373.4 381.1L1370.3 359.6L1362.7 364ZM1438.6 345.1L1532.3 293.3L1528.8 268.7L1435.4 322.3ZM669.5 762.6L690.3 750.7L689.1 742.7L668.4 755ZM702.5 743.7L710.1 739.4L708.9 731L701.3 735.5ZM781.8 698.4L842.2 663.9L840.6 652.9L780.4 688.7ZM847.8 660.7L875.3 645L873.6 633.4L846.2 649.6ZM880.9 641.8L1040.4 550.7L1038.2 535.8L879.2 630.1ZM1323.4 388.9L1331 384.6L1328 363.9L1320.5 368.4ZM1429.1 328.5L1529.2 271.3L1525.6 246.8L1425.8 305.9ZM668.5 755.8L709 731.9L707.8 723.6L667.4 748.3ZM780.5 689.7L854 646.3L852.3 635.1L779.1 679.9ZM885.9 627.4L893.5 622.9L891.7 611L884.2 615.6ZM899.1 619.6L985.8 568.5L983.7 554.7L897.3 607.5ZM991.4 565.2L1031.9 541.2L1029.7 526.5L989.3 551.2ZM1123.1 487.3L1130.7 482.9L1128.2 466.2L1120.6 470.8ZM1320.8 370.6L1328.4 366.1L1325.3 345.5L1317.7 350.2ZM1334 362.8L1400.8 323.3L1397.5 301.3L1330.9 342.1ZM1406.4 320L1414 315.5L1410.7 293.2L1403.1 297.9ZM1419.6 312.2L1526 249.4L1522.3 224.9L1416.3 289.8ZM660.9 753.1L707.9 724.4L706.6 716.1L659.8 745.7ZM766.1 689L786.8 676.4L785.2 666.5L764.6 679.5ZM798.9 668.9L806.5 664.3L804.9 654.1L797.4 658.8ZM818.6 656.9L845.9 640.3L844.2 629.2L817 646.4ZM910.6 600.8L931.3 588.2L929.4 575.4L908.7 588.5ZM943.5 580.8L964.2 568.1L962.1 554.8L941.5 567.8ZM1068.3 504.6L1082.5 496L1080 480.3L1066 489.2ZM1107.8 480.6L1135 463.9L1132.5 447.2L1105.3 464.3ZM1285.2 372.4L1522.7 227.5L1519 203L1282.1 352.6ZM666.5 742.4L700.2 721.1L698.9 713L665.3 734.9ZM764.8 680.5L785.4 667.5L783.8 657.7L763.3 671.1ZM810.6 651.6L818.2 646.9L816.5 636.4L809 641.3ZM823.7 643.4L850.9 626.3L849.2 615.1L822.1 632.8ZM1046.6 503.2L1080.3 481.9L1077.8 466.3L1044.2 488.2ZM1085.9 478.4L1126.2 453.1L1123.5 436.5L1083.4 462.6ZM1256.3 371.2L1460.4 242.8L1456.7 219.6L1253.2 352.1ZM1466 239.2L1519.4 205.6L1515.5 181.3L1462.2 215.9ZM665.4 735.7L705.6 709.6L704.2 701.3L664.2 728.2ZM763.4 672.1L777.5 662.9L775.9 653.3L761.9 662.6ZM809.2 642.4L816.7 637.5L815 627L807.5 632.1ZM822.2 633.9L842.8 620.6L841 609.6L820.5 623.3ZM939.9 557.6L947.4 552.7L945.2 539.7L937.7 544.7ZM959.5 544.9L973.5 535.8L971.3 522.2L957.3 531.6ZM1044.4 489.8L1117.3 442.5L1114.6 426.1L1042 474.8ZM1227.4 371L1385.2 268.7L1381.6 246.9L1224.3 352.5ZM1390.8 265L1515.9 183.9L1511.9 159.6L1387.2 243.2ZM664.3 729L704.4 702.2L703 693.9L663 721.5ZM820.7 624.4L841.2 610.7L839.4 599.8L818.9 613.9ZM957.5 533L965 528L962.7 514.6L955.3 519.7ZM1029.2 485.1L1082.3 449.6L1079.6 433.9L1026.7 470.4ZM1087.8 445.9L1114.9 427.8L1112.1 411.4L1085.2 430.1ZM1205.1 367.5L1460.2 197L1456.3 173.8L1202 349.3ZM1465.7 193.3L1499.3 170.9L1495.2 146.9L1461.8 170ZM1504.8 167.2L1512.3 162.1L1508.2 137.9L1500.8 143.1ZM663.2 722.3L690.1 703.8L688.8 695.8L661.9 714.9ZM767.1 650.8L774.6 645.6L772.9 636L765.5 641.3ZM1027 472L1079.9 435.5L1077.2 419.9L1024.4 457.3ZM1091.9 427.3L1112.4 413.2L1109.6 396.9L1089.2 411.4ZM1143.9 391.5L1151.4 386.4L1148.4 369.3L1141 374.6ZM1195.9 355.7L1274.8 301.4L1271.4 281.9L1192.7 337.8ZM1280.3 297.6L1339.8 256.7L1336.1 235.9L1276.9 278ZM1345.3 252.9L1437.2 189.7L1433.3 166.9L1341.6 232ZM1442.7 185.9L1508.7 140.5L1504.5 116.3L1438.8 163ZM668.5 711.1L682.4 701.2L681 693.4L667.1 703.5ZM811 610.2L824.9 600.3L823 589.7L809.1 599.8ZM921.1 532.3L928.5 527L926.3 514.3L918.8 519.7ZM1018.2 463.5L1116.3 394L1113.4 377.6L1015.6 449ZM1121.8 390.1L1155.2 366.5L1152.1 349.3L1118.9 373.6ZM1186.6 344.3L1265.3 288.6L1261.8 269.2L1183.4 326.5ZM1270.8 284.7L1504.9 118.9L1500.6 94.8L1267.3 265.2Z"/>
<path fill="#84d42c" d="M561.1 980.1L575.9 980.1L575.9 976.4L561.1 976.7ZM629.8 979.9L637.7 979.8L637.7 975.4L629.8 975.5ZM650.4 979.8L685.8 979.6L685.8 974.6L650.4 975.2ZM760.3 979.3L795.7 979.2L795.7 972.8L760.3 973.4ZM884 978.8L891.9 978.8L891.8 971.1L883.9 971.3ZM918.3 978.7L939.9 978.6L939.9 970.3L918.3 970.7ZM1028.2 978.2L1125.4 977.8L1125.4 967.2L1028.2 968.9ZM568 977.2L582.8 977L582.7 973L568 973.4ZM650.4 976L685.8 975.4L685.8 970.1L650.4 971.1ZM760.3 974.3L795.7 973.8L795.6 967.1L760.3 968.1ZM883.9 972.5L891.8 972.4L891.8 964.4L883.9 964.6ZM918.3 972L939.9 971.7L939.9 963L918.2 963.6ZM1028.2 970.4L1063.6 969.9L1063.5 959.6L1028.1 960.6ZM1069.4 969.8L1132.3 968.9L1132.2 957.7L1069.3 959.4ZM1158.7 968.5L1173.5 968.3L1173.4 956.5L1158.6 956.9ZM568 974L575.9 973.8L575.8 968.1L567.9 968.5ZM650.4 971.9L678.9 971.2L678.8 963.4L650.3 964.7ZM760.3 969L795.7 968.1L795.6 958.1L760.2 959.7ZM883.9 965.9L891.8 965.6L891.7 953.7L883.8 954ZM897.7 965.5L905.6 965.3L905.4 953L897.5 953.4ZM918.3 965L933 964.6L932.9 951.8L918.1 952.5ZM1021.3 962.3L1049.8 961.6L1049.7 946.5L1021.2 947.8ZM1090 960.5L1159.7 958.7L1159.5 941.4L1089.8 944.6ZM1302.9 955L1310.8 954.8L1310.6 934.5L1302.7 934.9ZM567.9 969.1L575.8 968.7L575.7 963L567.9 963.5ZM629.7 966.4L637.6 966L637.5 959.1L629.6 959.6ZM657.2 965.2L685.7 963.9L685.6 956L657.1 957.8ZM760.2 960.7L795.6 959.1L795.4 949.1L760.1 951.3ZM828.9 957.7L871.1 955.8L871 944.3L828.7 947ZM890.7 955L939.8 952.8L939.6 939.9L890.5 943ZM1021.2 949.3L1029.1 949L1028.9 934.3L1021 934.8ZM1151.6 943.6L1159.5 943.3L1159.3 926L1151.4 926.5ZM1192.9 941.8L1207.6 941.2L1207.4 923L1192.6 923.9ZM1309.6 936.7L1317.5 936.4L1317.2 916L1309.3 916.5ZM567.9 964.1L582.6 963.2L582.5 957.3L567.8 958.5ZM629.7 960.3L637.6 959.8L637.4 952.9L629.5 953.5ZM657.1 958.6L685.6 956.9L685.5 949L657 951.3ZM746.4 953.1L768 951.8L767.8 942.3L746.2 944ZM773.8 951.5L795.5 950.1L795.3 940.1L773.7 941.8ZM828.8 948.1L857.3 946.3L857.1 935.1L828.6 937.4ZM890.5 944.3L905.3 943.4L905.1 931.2L890.3 932.4ZM911.1 943L946.5 940.9L946.3 927.8L910.9 930.7ZM952.3 940.5L980.8 938.8L980.6 925L952.1 927.3ZM1007.3 937.2L1015.2 936.7L1014.9 922.3L1007 922.9ZM1151.4 928.3L1166.2 927.4L1165.9 910L1151.1 911.2ZM574.6 958.6L596.3 956.9L596.1 950.7L574.5 952.9ZM629.5 954.2L637.4 953.6L637.3 946.7L629.4 947.4ZM657 952.1L685.5 949.8L685.3 941.9L656.8 944.7ZM746.2 945L795.3 941.1L795.1 931.1L746 935.9ZM835.5 938L863.9 935.7L863.7 924.3L835.2 927.1ZM890.4 933.6L905.1 932.5L904.9 920.2L890.1 921.7ZM931.5 930.4L953.2 928.7L952.9 915.5L931.3 917.6ZM979.6 926.6L1008.1 924.3L1007.8 910.1L979.3 912.9ZM574.5 953.5L596.1 951.4L596 945.3L574.4 947.8ZM622.6 948.8L630.4 948.1L630.3 941.3L622.4 942.2ZM656.9 945.5L685.3 942.8L685.1 934.9L656.7 938.2ZM739.2 937.5L802 931.5L801.7 921.3L739 928.6ZM835.2 928.3L891.2 922.8L890.8 910.9L835 917.4ZM574.4 948.4L596 945.9L595.8 939.8L574.2 942.7ZM615.5 943.7L630.3 942L630.1 935.2L615.3 937.2ZM649.8 939.7L692 934.9L691.8 926.9L649.6 932.6ZM739 929.5L753.7 927.9L753.4 918.6L738.7 920.6ZM759.6 927.2L801.7 922.4L801.4 912.2L759.3 917.8ZM828.1 919.3L849.7 916.9L849.4 905.7L827.8 908.6ZM574.2 943.3L630.1 935.9L629.9 929.1L574 937.6ZM656.5 932.4L719.2 924.1L718.9 915.6L656.2 925.1ZM738.7 921.5L753.5 919.6L753.1 910.4L738.4 912.6ZM793.6 914.3L801.4 913.3L801.1 903.1L793.2 904.3ZM821 910.7L849.4 906.9L849 895.8L820.6 900.1ZM580.9 937.2L629.9 929.8L629.6 923L580.7 931.4ZM649.4 926.9L657.3 925.7L657 918.4L649.1 919.7ZM670 923.8L677.8 922.6L677.5 914.9L669.7 916.2ZM690.5 920.7L705.2 918.5L704.9 910.3L690.2 912.8ZM711.1 917.7L725.8 915.5L725.4 906.8L710.7 909.3ZM738.5 913.5L760 910.3L759.7 901L738.1 904.6ZM800.1 904.3L808 903.1L807.6 892.8L799.7 894.1ZM813.8 902.2L821.7 901.1L821.3 890.5L813.4 891.8ZM827.5 900.2L855.9 895.9L855.5 884.7L827.1 889.5ZM868.6 894L883.3 891.8L882.9 880L868.1 882.5ZM580.7 932L622.8 924.9L622.5 918.3L580.4 926.2ZM717.6 909L725.5 907.7L725.1 899L717.2 900.5ZM731.3 906.7L752.9 903.1L752.4 893.9L730.9 897.9ZM840.8 888.3L855.5 885.9L855 874.6L840.3 877.4ZM881.9 881.4L896.6 879L896.1 866.9L881.4 869.7ZM580.5 926.8L622.5 919L622.2 912.3L580.2 921ZM724.1 900.1L759.3 893.6L758.9 884.2L723.7 891.5ZM867.7 873.5L875.6 872L875 860.3L867.2 862ZM881.4 870.9L896.1 868.2L895.5 856.1L880.8 859.2ZM587.1 920.2L622.2 913L621.9 906.4L586.7 914.3ZM662.2 904.9L670.1 903.3L669.7 895.7L661.8 897.5ZM730.6 891L738.4 889.4L737.9 880.5L730.1 882.2ZM744.2 888.2L758.9 885.2L758.4 875.9L743.7 879.2ZM586.8 914.9L621.9 907.1L621.6 900.5L586.4 909ZM887.2 848.4L895 846.6L894.3 834.6L886.5 836.5ZM586.5 909.6L601.1 906.1L600.7 899.9L586.1 903.7ZM606.9 904.7L621.6 901.2L621.2 894.6L606.5 898.4ZM593 902.5L614.4 897L614 890.5L592.6 896.5ZM702 874.5L709.8 872.5L709.2 864.1L701.4 866.3ZM592.6 897.1L614 891.2L613.6 884.7L592.2 891.1ZM592.2 891.7L613.6 885.4L613.1 879L591.8 885.7ZM870.9 810L878.7 807.7L877.8 796L870 798.4ZM598.6 884.2L613.2 879.7L612.7 873.2L598.1 878ZM856.5 803.9L877.9 797.2L877 785.5L855.6 792.6ZM591.4 880.9L612.7 873.9L612.2 867.4L590.9 874.9ZM855.7 793.8L877.1 786.8L876.1 775.1L854.8 782.5ZM590.9 875.5L619 865.8L618.4 859.2L590.4 869.5ZM631.5 861.4L639.3 858.7L638.7 851.7L630.9 854.6ZM719.5 830.8L734.1 825.8L733.3 816.9L718.7 822.3ZM854.9 783.7L876.2 776.3L875.1 764.7L853.9 772.5ZM590.4 870.2L645.5 850L644.8 842.9L589.9 864.2ZM718.8 823.2L740.1 815.4L739.3 806.4L718 814.6ZM854 773.7L882 763.4L880.9 751.7L852.9 762.5ZM589.9 864.8L651.7 841.1L651 833.8L589.3 858.8ZM718.1 815.5L752.9 802.2L751.9 793L717.3 807ZM866.5 758.5L874.3 755.5L873.1 743.9L865.4 747ZM907 742.9L921.5 737.4L920.3 724.8L905.8 730.7ZM589.4 859.4L651 834.6L650.3 827.4L588.8 853.4ZM717.4 807.9L752 793.9L751.1 784.7L716.5 799.4ZM872.2 745.5L880 742.4L878.8 730.7L871.1 733.9ZM905.9 732L920.4 726.1L919.1 713.6L904.7 719.7ZM588.9 854.1L670.5 819.7L669.7 812.1L588.2 848.1ZM716.6 800.3L757.9 782.9L756.9 773.6L715.7 791.8ZM588.3 848.7L669.8 812.9L669 805.3L587.6 842.8ZM715.8 792.7L757 774.5L756 765.3L714.8 784.2ZM1453.8 468.2L1461.5 464.8L1458.9 441.6L1451.2 445.1ZM587.7 843.4L669.1 806.1L668.2 798.6L587 837.5ZM714.9 785.1L769.5 760.1L768.4 750.6L713.9 776.6ZM587.1 838.1L668.3 799.4L667.4 791.8L586.4 832.2ZM714 777.5L768.5 751.6L767.3 742L713 769.1ZM774.2 748.9L781.9 745.2L780.7 735.4L773 739.2ZM1021.4 630.9L1029.1 627.3L1027.3 612.6L1019.7 616.4ZM499.8 875.7L507.4 871.9L506.9 867.6L499.2 871.5ZM586.4 832.8L674.1 789.3L673.2 781.7L585.7 826.9ZM713.1 770L774.1 739.7L772.9 730.1L712.1 761.6ZM1013.2 621.3L1020.8 617.5L1019 603L1011.4 606.9ZM585.8 827.5L666.6 785.9L665.6 778.4L585 821.6ZM705.5 765.9L786.4 724.3L785.1 714.4L704.4 757.6ZM585.1 822.2L672.4 775.6L671.3 768L584.3 816.3ZM711.2 754.9L778.6 719L777.2 709.3L710.1 746.5ZM577.7 820.6L671.4 768.8L670.4 761.2L576.9 814.8ZM710.2 747.4L757.5 721.3L756.2 712L709 739.1ZM763.2 718.2L777.4 710.3L776 700.6L761.8 708.8ZM577 815.5L670.5 762L669.4 754.5L576.2 809.7ZM689.3 751.3L703.5 743.2L702.3 734.9L688.2 743.3ZM709.1 740L782.8 697.9L781.4 688.1L707.9 731.6ZM841.2 664.5L848.8 660.1L847.2 649L839.6 653.5ZM582.9 806.4L669.5 755.3L668.4 747.7L582 800.6ZM708 732.5L742 712.5L740.6 703.5L706.8 724.2ZM747.6 709.1L781.5 689.1L780 679.3L746.2 700ZM575.5 805.2L661.9 752.5L660.8 745.1L574.6 799.5ZM706.9 725L767.1 688.4L765.6 678.9L705.7 716.7ZM785.8 677L799.9 668.3L798.4 658.2L784.3 667.1ZM805.5 664.9L819.6 656.3L818 645.8L803.9 654.7ZM574.7 800.1L667.5 741.8L666.3 734.2L573.8 794.4ZM699.2 721.7L746.1 692.3L744.6 683.2L697.9 713.6ZM751.7 688.8L765.8 679.9L764.2 670.4L750.2 679.6ZM784.4 668.1L811.6 651L810 640.7L782.9 658.3ZM817.2 647.5L824.7 642.8L823 632.1L815.5 637ZM1459.4 243.4L1466.9 238.6L1463.2 215.3L1455.7 220.2ZM567.4 799.3L666.4 735L665.2 727.5L566.5 793.7ZM704.6 710.2L764.4 671.4L762.9 662L703.3 702ZM776.5 663.6L810.1 641.7L808.4 631.4L774.9 653.9ZM815.7 638.1L823.2 633.3L821.5 622.7L814 627.7ZM468.8 859.6L476.3 854.6L475.7 850.9L468.2 856ZM507.9 833.5L515.4 828.5L514.7 824L507.2 829.1ZM521 824.8L528.5 819.8L527.6 815L520.2 820.2ZM553.5 803L665.3 728.3L664 720.8L552.6 797.7ZM703.4 702.8L821.7 623.8L819.9 613.2L702 694.6ZM1459.2 197.6L1466.7 192.6L1462.8 169.3L1455.3 174.5ZM1498.3 171.5L1505.8 166.5L1501.7 142.4L1494.3 147.6ZM461.8 860.9L475.8 851.3L475.1 847.5L461.2 857.4ZM487.8 843L534.2 811L533.4 806.1L487.1 839ZM552.7 798.3L664.2 721.6L662.9 714.2L551.8 793ZM689.2 704.4L768.1 650.1L766.4 640.6L687.8 696.5ZM773.6 646.3L826.6 609.9L824.7 599.2L771.9 636.7ZM1273.8 302.1L1281.3 297L1277.9 277.3L1270.4 282.6ZM461.3 857.8L611.2 751.6L610 745.2L460.6 854.3ZM616.7 747.7L669.5 710.4L668.1 702.8L615.5 741.2ZM681.5 701.9L727.8 669.1L726.2 660.4L680.1 694.1ZM733.3 665.2L740.7 659.9L739.1 651L731.7 656.4ZM746.2 656L792.5 623.3L790.7 613.3L744.6 647ZM798 619.4L812 609.5L810.1 599.1L796.2 609.3ZM1264.3 289.2L1271.8 284L1268.3 264.5L1260.9 269.9Z"/>
<path fill="#b4e878" d="M574.9 980.1L582.8 980.1L582.8 976.3L574.9 976.5ZM616.1 979.9L630.8 979.9L630.8 975.5L616.1 975.8ZM684.8 979.6L692.7 979.6L692.7 974.5L684.8 974.6ZM753.5 979.3L761.4 979.3L761.3 973.3L753.4 973.5ZM794.7 979.2L802.6 979.1L802.6 972.6L794.6 972.8ZM877.1 978.8L885 978.8L885 971.3L877.1 971.4ZM1172.5 977.6L1180.4 977.6L1180.3 966.3L1172.4 966.4ZM561.1 977.3L569 977.2L569 973.4L561.1 973.6ZM581.7 977L589.6 976.9L589.6 972.8L581.7 973.1ZM622.9 976.4L630.8 976.2L630.8 971.7L622.9 971.9ZM684.8 975.5L692.7 975.3L692.6 969.9L684.7 970.2ZM753.4 974.4L761.3 974.3L761.3 968L753.4 968.2ZM794.7 973.8L802.6 973.7L802.5 966.9L794.6 967.1ZM877.1 972.6L885 972.5L884.9 964.6L877 964.8ZM1309.8 966.3L1317.7 966.2L1317.6 952.5L1309.7 952.7ZM554.2 974.4L569 974L569 968.4L554.2 969.1ZM574.8 973.8L589.6 973.5L589.6 967.5L574.8 968.1ZM622.9 972.6L630.8 972.4L630.8 965.6L622.9 966ZM677.9 971.2L685.8 971L685.7 963.1L677.8 963.4ZM753.4 969.2L761.3 969L761.2 959.6L753.3 960ZM794.6 968.2L802.5 968L802.4 957.7L794.5 958.1ZM829 967.3L884.9 965.8L884.8 954L828.9 956.5ZM932 964.6L939.9 964.4L939.8 951.5L931.9 951.8ZM1014.4 962.5L1022.3 962.3L1022.2 947.7L1014.3 948.1ZM1158.6 958.7L1187.2 958L1187 940.2L1158.5 941.5ZM561.1 969.3L569 969L568.9 963.4L561 963.9ZM574.8 968.8L589.6 968.1L589.5 962.1L574.7 963.1ZM622.9 966.7L630.8 966.3L630.7 959.5L622.8 960ZM684.7 964L692.6 963.6L692.5 955.6L684.6 956.1ZM739.6 961.6L761.2 960.6L761.1 951.2L739.5 952.6ZM794.5 959.2L802.4 958.8L802.3 948.6L794.4 949.1ZM822 958L829.9 957.6L829.8 946.9L821.9 947.4ZM870.1 955.9L891.7 954.9L891.6 943L869.9 944.3ZM980 951.1L987.9 950.8L987.7 936.9L979.8 937.4ZM1007.4 949.9L1022.2 949.3L1022 934.7L1007.2 935.6ZM1158.5 943.3L1193.9 941.8L1193.6 923.8L1158.3 926.1ZM1206.6 941.2L1214.5 940.9L1214.2 922.5L1206.3 923ZM1295.9 937.3L1310.6 936.7L1310.4 916.4L1295.6 917.4ZM561 964.5L568.9 964L568.8 958.4L560.9 959.1ZM581.6 963.2L630.7 960.2L630.6 953.4L581.5 957.4ZM705.2 955.7L713.1 955.2L712.9 946.7L705 947.4ZM739.5 953.6L747.4 953.1L747.2 944L739.3 944.6ZM767 951.9L774.9 951.4L774.7 941.7L766.8 942.4ZM794.4 950.2L802.3 949.7L802.1 939.5L794.3 940.1ZM821.9 948.5L829.8 948L829.6 937.3L821.7 937.9ZM856.2 946.4L891.6 944.2L891.4 932.3L856 935.1ZM945.5 940.9L953.4 940.5L953.1 927.3L945.2 927.9ZM979.8 938.8L987.7 938.3L987.5 924.5L979.6 925.1ZM1227 923.7L1269.2 921.1L1268.9 901.7L1226.6 905.1ZM560.9 959.6L575.7 958.5L575.5 952.8L560.8 954.2ZM595.2 956.9L630.6 954.1L630.4 947.3L595.1 950.8ZM684.5 949.9L692.4 949.3L692.2 941.2L684.3 942ZM732.5 946.1L747.3 944.9L747.1 935.8L732.3 937.3ZM794.3 941.2L809 940L808.8 929.7L794.1 931.2ZM828.6 938.5L836.5 937.9L836.2 927L828.4 927.8ZM862.9 935.8L891.4 933.5L891.1 921.6L862.7 924.4ZM560.8 954.8L575.6 953.4L575.4 947.7L560.7 949.4ZM595.1 951.5L623.6 948.7L623.4 942.1L594.9 945.4ZM684.3 942.9L740.2 937.4L740 928.5L684.1 935ZM821.5 929.6L836.3 928.2L836 917.3L821.2 919ZM560.7 950L575.4 948.3L575.2 942.6L560.5 944.5ZM595 946L616.6 943.6L616.4 937L594.8 939.9ZM691 935L740 929.4L739.7 920.5L690.7 927ZM814.4 920.9L829.2 919.2L828.8 908.5L814.1 910.5ZM567.4 944.2L575.3 943.2L575.1 937.5L567.2 938.6ZM718.2 924.3L739.8 921.4L739.4 912.4L717.9 915.7ZM800.4 913.4L808.3 912.3L807.9 902L800.1 903.2ZM814.1 911.6L822 910.5L821.6 899.9L813.8 901.1ZM574.1 938.2L581.9 937L581.7 931.2L573.8 932.5ZM724.8 915.6L739.5 913.4L739.1 904.4L724.4 906.9ZM573.9 933.1L581.7 931.8L581.5 926L573.6 927.5ZM724.4 907.9L732.3 906.5L731.9 897.7L724.1 899.2ZM573.6 928.1L581.5 926.6L581.2 920.8L573.4 922.4ZM580.2 921.6L588.1 920L587.8 914L579.9 915.8ZM579.9 916.4L587.8 914.7L587.5 908.7L579.6 910.6ZM579.6 911.2L587.5 909.3L587.1 903.4L579.3 905.4ZM579.3 906L594 902.3L593.6 896.2L578.9 900.3ZM585.8 899L593.6 896.8L593.2 890.8L585.4 893.1ZM585.4 893.7L593.2 891.4L592.8 885.3L585 887.8ZM585 888.4L599.6 883.9L599.1 877.7L584.5 882.5ZM584.6 883.2L592.4 880.6L591.9 874.5L584.1 877.3ZM584.2 877.9L591.9 875.2L591.4 869.1L583.6 872ZM583.7 872.6L591.5 869.8L590.9 863.8L583.1 866.8ZM502.2 898.5L516.7 892.9L516.3 888.4L501.8 894.2ZM576.4 870L591 864.4L590.4 858.4L575.9 864.2ZM495.1 897.4L516.3 888.9L515.9 884.3L494.7 893.3ZM582.7 862.1L590.4 859L589.8 853L582.1 856.3ZM414.1 927.7L421.8 924.4L421.5 921.8L413.8 925.2ZM488 896.5L515.9 884.8L515.4 880.3L487.6 892.6ZM582.1 856.9L589.9 853.7L589.2 847.7L581.5 851.1ZM413.9 925.4L421.6 922L421.3 919.4L413.6 922.9ZM474.2 898.9L515.5 880.7L515 876.2L473.8 895.2ZM581.6 851.7L589.3 848.3L588.6 842.3L580.9 845.9ZM413.6 923.2L421.3 919.7L421 917L413.3 920.7ZM473.9 895.6L508.4 879.8L507.8 875.4L473.4 891.9ZM540.8 864.9L548.5 861.4L547.9 856.2L540.2 859.9ZM581 846.5L588.7 842.9L588 837L580.3 840.7ZM473.5 892.3L514.6 872.7L514 868.2L473 888.6ZM373.1 938.5L380.7 934.7L380.5 932.9L372.8 936.8ZM486.4 882.4L500.8 875.3L500.2 871L485.9 878.4ZM506.4 872.4L514.1 868.6L513.5 864.1L505.9 868.1ZM579.8 836.1L587.4 832.3L586.7 826.3L579 830.3ZM372.9 937L380.5 933.1L380.3 931.2L372.6 935.3ZM479.3 882.3L513.6 864.6L513 860.1L478.8 878.4ZM579.1 830.9L586.8 827L586 821L578.4 825.1ZM372.7 935.5L380.3 931.4L380.1 929.6L372.4 933.8ZM478.9 878.9L513.1 860.6L512.5 856.1L478.4 875.1ZM578.4 825.7L586.1 821.7L585.3 815.8L577.7 820ZM485 871.8L505.9 860.3L505.3 855.9L484.5 867.9ZM571.1 824.2L578.7 820L577.9 814.3L570.3 818.6ZM756.5 721.8L764.1 717.6L762.8 708.2L755.2 712.6ZM484.5 868.3L498.7 860.2L498.1 856L484 864.4ZM524.2 845.6L531.8 841.3L531.1 836.5L523.5 841ZM570.4 819.2L578 814.9L577.2 809.1L569.6 813.6ZM484 864.8L491.6 860.3L491 856.3L483.5 860.9ZM517 845.3L537.7 833.1L537 828.1L516.3 840.8ZM576.3 810.3L583.9 805.8L583 800L575.4 804.6ZM741 713L748.6 708.6L747.2 699.4L739.6 704.1ZM411.2 905.4L425.4 896.8L424.9 894L410.9 902.9ZM444.1 885.4L451.7 880.8L451.1 877.5L443.6 882.3ZM476.9 865.3L497.6 852.7L497 848.5L476.4 861.6ZM509.8 845.3L537.1 828.7L536.3 823.7L509.1 840.9ZM549.2 821.2L556.8 816.6L556 811.3L548.4 816.1ZM568.9 809.2L576.5 804.6L575.6 798.9L568.1 803.6ZM410.9 903.2L425 894.3L424.6 891.6L410.5 900.8ZM443.7 882.6L451.2 877.8L450.7 874.6L443.2 879.5ZM469.9 866.1L497.1 849L496.4 844.8L469.3 862.5ZM502.6 845.5L529.8 828.4L529.1 823.6L502 841.2ZM535.4 824.8L556.1 811.9L555.2 806.5L534.6 819.9ZM561.6 808.4L575.7 799.5L574.8 793.8L560.8 802.9ZM745.1 692.9L752.6 688.1L751.2 678.9L743.7 683.8ZM410.5 901L424.6 891.9L424.2 889.2L410.1 898.6ZM443.2 879.8L450.7 874.9L450.2 871.7L442.7 876.7ZM469.4 862.9L568.4 798.6L567.4 793.1L468.8 859.2ZM403.7 903.2L424.2 889.5L423.7 886.7L403.3 900.9ZM442.8 877L450.3 872L449.7 868.8L442.2 874ZM462.3 864L469.8 859L469.2 855.4L461.7 860.5ZM475.3 855.3L508.9 832.8L508.2 828.5L474.7 851.5ZM514.4 829.1L521.9 824.1L521.2 819.5L513.7 824.6ZM527.5 820.4L554.5 802.4L553.6 797.1L526.7 815.7ZM396.8 905.6L423.8 887L423.3 884.3L396.4 903.4ZM429.3 883.2L462.8 860.2L462.2 856.7L428.8 880.4ZM474.8 851.9L488.8 842.3L488.1 838.3L474.1 848.2ZM533.3 811.7L553.7 797.6L552.8 792.4L532.4 806.8ZM396.5 903.6L423.4 884.6L422.9 881.9L396.1 901.5ZM428.9 880.7L462.2 857.1L461.6 853.6L428.4 877.9ZM610.2 752.3L617.7 747.1L616.5 740.5L609.1 745.9ZM726.8 669.8L734.2 664.5L732.7 655.7L725.2 661.1ZM739.7 660.6L747.2 655.4L745.6 646.3L738.1 651.7ZM791.5 624L799 618.7L797.2 608.6L789.8 614Z"/>
<path fill="#ccf09a" d="M334.4 981.1L466 980.5L466 978.3L334.4 980.5ZM499.3 980.4L562.2 980.1L562.1 976.7L499.3 977.7ZM581.7 980.1L603.4 980L603.4 976L581.7 976.4ZM609.2 979.9L617.1 979.9L617.1 975.8L609.2 975.9ZM691.6 979.6L754.5 979.3L754.5 973.5L691.6 974.5ZM801.5 979.1L878.1 978.8L878.1 971.4L801.5 972.7ZM938.9 978.6L1029.2 978.2L1029.2 968.8L938.9 970.4ZM1179.3 977.6L1283.4 977.1L1283.4 964.6L1179.3 966.3ZM1289.2 977.1L1297.1 977.1L1297.1 964.3L1289.2 964.5ZM334.4 980.6L445.4 979L445.4 976.9L334.4 980ZM451.2 978.9L466 978.7L466 976.3L451.2 976.7ZM499.3 978.2L562.1 977.3L562.1 973.6L499.3 975.4ZM588.6 976.9L603.4 976.7L603.3 972.4L588.6 972.9ZM609.2 976.6L624 976.3L623.9 971.9L609.2 972.3ZM691.6 975.4L754.5 974.4L754.4 968.2L691.6 970ZM801.5 973.7L878.1 972.6L878.1 964.8L801.5 966.9ZM938.9 971.7L1029.2 970.4L1029.2 960.5L938.9 963.1ZM1172.4 968.3L1221.5 967.6L1221.5 955.2L1172.4 956.5ZM1254.9 967.1L1310.8 966.3L1310.8 952.7L1254.8 954.2ZM334.4 980.1L342.3 979.9L342.3 978.8L334.4 979.1ZM348.2 979.7L445.4 977.2L445.3 974.1L348.2 978.5ZM451.2 977L472.8 976.5L472.8 972.8L451.2 973.8ZM499.3 975.8L555.3 974.4L555.2 969L499.2 971.6ZM588.6 973.5L623.9 972.6L623.9 965.9L588.5 967.5ZM684.7 971L754.4 969.2L754.4 959.9L684.7 963.1ZM801.5 968L830 967.2L829.9 956.5L801.4 957.8ZM938.9 964.4L1015.4 962.4L1015.3 948L938.7 951.5ZM1186.1 958L1214.6 957.3L1214.5 938.9L1186 940.2ZM1261.7 956.1L1303.9 955L1303.7 934.9L1261.5 936.8ZM334.4 979.2L342.3 978.9L342.3 977.8L334.4 978.3ZM348.2 978.6L445.3 974.4L445.3 971.3L348.2 977.4ZM451.2 974.1L472.8 973.2L472.8 969.5L451.1 970.9ZM499.3 972L514 971.4L514 966.9L499.2 967.8ZM526.7 970.8L562.1 969.3L562 963.9L526.7 966.1ZM588.5 968.2L623.9 966.6L623.8 959.9L588.4 962.2ZM691.5 963.7L740.6 961.5L740.5 952.5L691.4 955.7ZM801.4 958.9L823 957.9L822.9 947.3L801.3 948.7ZM938.8 952.9L981 951.1L980.8 937.3L938.6 940ZM986.8 950.8L1008.5 949.9L1008.3 935.6L986.6 936.9ZM1213.5 940.9L1296.9 937.3L1296.6 917.3L1213.2 922.6ZM334.4 978.4L342.3 977.9L342.3 976.8L334.4 977.4ZM348.2 977.5L472.8 969.9L472.7 966.2L348.1 976.3ZM499.2 968.3L520.8 967L520.8 962.3L499.1 964.1ZM526.7 966.6L562 964.4L561.9 959L526.6 961.9ZM684.6 956.9L706.2 955.6L706.1 947.3L684.4 949.1ZM712 955.2L740.5 953.5L740.4 944.5L711.9 946.8ZM801.3 949.8L822.9 948.4L822.7 937.8L801.1 939.6ZM986.7 938.4L1008.3 937.1L1008 922.8L986.4 924.6ZM334.4 977.5L342.3 976.9L342.3 975.8L334.4 976.6ZM348.1 976.5L472.7 966.6L472.6 962.9L348.1 975.2ZM499.1 964.5L513.9 963.4L513.8 958.9L499 960.3ZM547.2 960.7L561.9 959.6L561.8 954.1L547.1 955.6ZM691.3 949.3L733.5 946L733.3 937.2L691.1 941.3ZM808 940.1L829.6 938.4L829.4 927.7L807.8 929.8ZM334.4 976.7L342.3 975.9L342.3 974.8L334.4 975.8ZM348.1 975.4L465.8 964L465.7 960.4L348.1 974.2ZM499.1 960.8L506.9 960L506.8 955.7L498.9 956.6ZM540.2 956.8L561.8 954.7L561.7 949.3L540.1 951.8ZM800.9 931.6L822.6 929.5L822.3 918.9L800.7 921.4ZM334.4 975.9L342.3 975L342.2 973.9L334.3 974.9ZM348.1 974.3L465.7 960.8L465.6 957.3L348 973.1ZM547 951.5L561.7 949.8L561.5 944.4L546.8 946.4ZM800.7 922.5L815.4 920.8L815.1 910.3L800.4 912.3ZM334.3 975L342.2 974L342.2 972.9L334.3 974.1ZM348.1 973.2L451.9 959.5L451.8 956.2L348 972ZM546.8 946.9L568.4 944.1L568.2 938.5L546.6 941.8ZM807.3 912.5L815.2 911.4L814.8 901L806.9 902.2ZM334.3 974.2L438.1 958.6L438 955.6L334.3 973.2ZM443.9 957.7L451.8 956.6L451.7 953.3L443.8 954.6ZM553.5 941.3L575.1 938.1L574.9 932.4L553.3 936ZM334.3 973.3L438 955.9L437.9 952.9L334.2 972.4ZM443.8 955L451.7 953.6L451.5 950.4L443.7 951.8ZM512.3 943.5L520.1 942.1L519.9 937.5L512.1 939ZM525.9 941.2L533.8 939.8L533.6 935L525.7 936.4ZM553.3 936.6L574.9 933L574.6 927.3L553.1 931.3ZM334.2 972.5L437.9 953.3L437.7 950.3L334.2 971.6ZM512.1 939.5L519.9 938L519.7 933.4L511.9 935ZM525.8 936.9L533.6 935.5L533.4 930.6L525.5 932.2ZM553.1 931.9L574.7 927.9L574.4 922.2L552.9 926.6ZM334.2 971.7L437.7 950.6L437.6 947.6L334.2 970.7ZM559.7 925.8L581.2 921.4L580.9 915.6L559.4 920.4ZM334.2 970.8L437.6 947.9L437.4 944.9L334.1 969.9ZM491.2 936L499 934.3L498.8 930.1L491 932ZM559.5 920.9L581 916.2L580.6 910.4L559.2 915.5ZM334.1 970L348.8 966.5L348.7 965.2L334.1 969ZM354.6 965.1L437.4 945.2L437.3 942.3L354.5 963.7ZM552.4 917.7L580.7 911L580.3 905.2L552 912.5ZM334.1 969.1L348.7 965.4L348.6 964.1L334 968.2ZM354.5 963.9L437.3 942.6L437.1 939.6L354.4 962.5ZM558.9 911.3L580.4 905.8L580 900L558.5 905.9ZM334 968.3L348.6 964.3L348.6 963.1L333.9 967.4ZM354.4 962.7L437.1 939.9L436.9 937L354.3 961.3ZM490.5 925.2L498.3 923.1L498.1 918.9L490.2 921.2ZM558.6 906.5L586.8 898.7L586.4 892.8L558.2 901.1ZM333.9 967.5L348.6 963.2L348.5 962L333.9 966.5ZM354.3 961.5L362.2 959.2L362 957.7L354.2 960.2ZM367.9 957.5L430.1 939.3L429.9 936.4L367.8 955.9ZM435.9 937.6L443.7 935.3L443.5 932.2L435.7 934.6ZM490.3 921.6L498.1 919.3L497.8 915.1L490 917.6ZM558.2 901.7L586.4 893.4L586 887.5L557.8 896.3ZM333.9 966.6L348.5 962.1L348.4 960.9L333.8 965.7ZM354.2 960.3L362.1 957.9L361.9 956.4L354.1 959ZM367.8 956.1L429.9 936.7L429.7 933.9L367.7 954.5ZM557.9 896.9L586 888.1L585.6 882.2L557.4 891.5ZM333.8 965.8L341.6 963.2L341.5 962.2L333.7 964.9ZM354.2 959.1L361.9 956.5L361.8 955L354 957.8ZM367.7 954.6L429.7 934.2L429.5 931.4L367.6 953ZM550.7 894.3L585.6 882.8L585.1 876.9L550.3 889.1ZM333.7 965L341.5 962.3L341.4 961.2L333.7 964ZM367.6 953.2L429.5 931.7L429.3 928.8L367.4 951.6ZM502.9 906.1L524.3 898.7L523.8 894L502.6 901.9ZM550.3 889.7L585.2 877.5L584.6 871.6L549.8 884.4ZM333.7 964.1L341.4 961.3L341.3 960.2L333.6 963.2ZM367.5 951.8L429.3 929.1L429 926.3L367.3 950.2ZM495.8 904.8L523.9 894.5L523.4 889.8L495.5 900.6ZM536.4 889.9L584.7 872.3L584.1 866.4L535.9 885ZM333.6 963.3L341.4 960.3L341.2 959.3L333.5 962.4ZM367.3 950.3L429.1 926.6L428.8 923.8L367.2 948.8ZM488.8 903.7L503.3 898.1L502.8 893.8L488.4 899.7ZM515.7 893.3L523.5 890.3L523 885.6L515.3 888.8ZM536 885.5L577.5 869.6L576.9 863.8L535.5 880.6ZM333.5 962.5L341.3 959.4L341.2 958.3L333.4 961.6ZM367.2 948.9L428.8 924.1L428.5 921.3L367 947.3ZM481.7 902.8L496.1 897L495.7 892.9L481.3 899ZM515.3 889.3L523.1 886.1L522.6 881.5L514.9 884.7ZM528.8 883.8L583.7 861.7L583.1 855.9L528.3 879.1ZM333.4 961.7L341.2 958.4L341 957.3L333.3 960.7ZM367 947.5L415.1 927.3L414.8 924.7L366.9 945.9ZM420.8 924.9L435.3 918.8L435 915.8L420.5 922.2ZM461.1 907.9L489 896.1L488.6 892.1L460.8 904.4ZM514.9 885.2L583.2 856.5L582.5 850.6L514.4 880.7ZM333.3 960.8L341.1 957.4L340.9 956.4L333.2 959.9ZM366.9 946.1L414.9 925L414.6 922.5L366.7 944.5ZM420.6 922.5L435 916.1L434.7 913.2L420.3 919.8ZM460.8 904.8L475.2 898.4L474.8 894.7L460.4 901.3ZM514.5 881.2L582.6 851.2L581.9 845.4L514 876.7ZM333.2 960L341 956.5L340.8 955.4L333.1 959.1ZM366.7 944.7L414.6 922.7L414.3 920.2L366.5 943.1ZM420.3 920.1L434.7 913.5L434.4 910.6L420 917.5ZM460.5 901.7L474.9 895.1L474.4 891.4L460.1 898.3ZM507.3 880.2L541.8 864.4L541.2 859.4L506.8 875.9ZM547.5 861.8L582 846L581.3 840.2L546.9 856.7ZM333.2 959.2L340.8 955.5L340.7 954.5L333 958.3ZM366.6 943.3L441.1 907.7L440.7 904.7L366.4 941.7ZM446.8 905L474.5 891.8L474 888.1L446.4 901.9ZM513.6 873.1L588.1 837.6L587.4 831.7L513 868.7ZM333.1 958.4L340.7 954.6L340.6 953.5L332.9 957.5ZM366.4 941.8L374.1 938L373.8 936.3L366.2 940.3ZM379.7 935.2L440.7 905L440.4 902L379.5 933.4ZM446.4 902.2L487.4 881.9L486.9 877.9L446 899ZM513.1 869.1L580.8 835.6L580 829.8L512.5 864.7ZM333 957.6L340.6 953.6L340.5 952.6L332.8 956.6ZM366.2 940.4L373.9 936.5L373.6 934.8L366 938.9ZM379.5 933.6L480.3 881.7L479.8 877.9L379.3 931.8ZM512.6 865.1L520.2 861.2L519.6 856.6L512 860.7ZM525.9 858.3L580.1 830.4L579.4 824.6L525.3 853.6ZM332.8 956.7L340.5 952.7L340.3 951.6L332.7 955.8ZM366 939L373.7 935L373.4 933.2L365.8 937.5ZM379.3 932L479.9 878.3L479.4 874.5L379.1 930.1ZM512.1 861.1L579.4 825.2L578.7 819.4L511.5 856.7ZM332.7 955.9L340.4 951.7L340.2 950.7L332.6 955ZM365.8 937.6L486 871.2L485.5 867.3L365.6 936.1ZM504.9 860.8L572.1 823.7L571.3 818.1L504.3 856.5ZM332.6 955.1L340.2 950.8L340.1 949.7L332.5 954.2ZM365.6 936.2L485.5 867.7L485 863.8L365.4 934.7ZM497.8 860.7L525.2 845.1L524.5 840.4L497.2 856.6ZM530.8 841.9L571.4 818.7L570.6 813L530.1 837.1ZM332.5 954.3L340.1 949.8L339.9 948.8L332.4 953.4ZM372 931L485 864.2L484.4 860.3L371.8 929.3ZM490.6 860.9L518 844.8L517.3 840.2L490 856.9ZM536.7 833.7L577.3 809.7L576.4 804L536 828.7ZM332.4 953.5L339.9 948.9L339.8 947.8L332.2 952.6ZM371.8 929.5L412.2 904.8L411.8 902.3L371.6 927.8ZM424.4 897.4L445.1 884.8L444.6 881.6L424 894.7ZM450.7 881.4L477.9 864.7L477.4 860.9L450.2 878.1ZM496.7 853.3L510.8 844.7L510.1 840.3L496 849.2ZM536.1 829.3L550.2 820.6L549.4 815.4L535.3 824.3ZM555.8 817.2L569.9 808.6L569.1 803L555 811.9ZM332.3 952.7L339.8 947.9L339.6 946.9L332.1 951.8ZM371.6 927.9L411.9 902.6L411.5 900.1L371.3 926.3ZM424 895L444.6 882L444.2 878.8L423.6 892.2ZM450.2 878.5L470.9 865.5L470.3 861.8L449.7 875.2ZM496.1 849.6L503.6 844.8L502.9 840.6L495.4 845.5ZM528.9 829L536.4 824.2L535.6 819.3L528.1 824.2ZM555.1 812.5L562.6 807.7L561.7 802.3L554.2 807.2ZM332.1 951.9L339.6 947L339.5 946L332 951ZM371.3 926.5L411.5 900.4L411.1 897.9L371.1 924.8ZM423.6 892.5L444.2 879.2L443.7 876.1L423.2 889.8ZM449.8 875.6L470.3 862.2L469.7 858.6L449.2 872.4ZM332 951.1L339.5 946.1L339.3 945L331.8 950.2ZM371.1 925L404.7 902.5L404.3 900.2L370.8 923.3ZM423.2 890.1L443.7 876.4L443.2 873.3L422.8 887.4ZM449.3 872.7L463.3 863.3L462.7 859.8L448.7 869.5ZM331.9 950.3L339.3 945.1L339.2 944.1L331.7 949.4ZM370.8 923.5L397.8 904.9L397.4 902.7L370.6 921.8ZM422.8 887.7L430.3 882.6L429.8 879.7L422.3 885ZM331.7 949.5L352.1 935L351.9 933.8L331.6 948.6ZM364.1 926.6L397.5 903L397.1 900.8L363.8 925ZM422.4 885.3L429.8 880L429.3 877.2L421.9 882.6Z"/>
<path fill="#e6e4a8" d="M465 980.6L500.3 980.4L500.3 977.7L465 978.3ZM602.3 980L610.2 979.9L610.2 975.9L602.3 976ZM1282.4 977.1L1290.3 977.1L1290.2 964.5L1282.3 964.6ZM1296.1 977.1L1304 977L1304 964.2L1296.1 964.4ZM444.3 979L452.2 978.9L452.2 976.7L444.3 976.9ZM465 978.7L500.3 978.2L500.3 975.3L464.9 976.3ZM602.3 976.7L610.2 976.6L610.2 972.3L602.3 972.5ZM1220.5 967.6L1255.9 967.1L1255.8 954.2L1220.4 955.2ZM341.3 979.9L349.2 979.7L349.2 978.4L341.3 978.8ZM444.3 977.2L452.2 977L452.2 973.7L444.3 974.1ZM471.8 976.5L500.3 975.8L500.3 971.5L471.8 972.9ZM1213.6 957.3L1228.4 956.9L1228.2 938.3L1213.4 939ZM1254.8 956.3L1262.7 956L1262.5 936.7L1254.6 937.1ZM341.3 978.9L349.2 978.6L349.2 977.3L341.3 977.8ZM444.3 974.4L452.2 974.1L452.2 970.8L444.3 971.3ZM471.8 973.2L500.3 972L500.2 967.8L471.7 969.6ZM513 971.4L527.8 970.8L527.7 966L512.9 967ZM341.3 978L349.2 977.5L349.2 976.2L341.3 976.9ZM471.7 970L500.2 968.2L500.2 964L471.7 966.3ZM519.8 967L527.7 966.5L527.6 961.8L519.7 962.4ZM341.3 977L349.2 976.4L349.1 975.1L341.3 975.9ZM471.7 966.7L500.2 964.4L500.1 960.2L471.6 963ZM512.9 963.4L548.2 960.6L548.1 955.5L512.8 959ZM341.3 976L349.1 975.3L349.1 974L341.2 975ZM464.8 964.1L500.1 960.7L500 956.5L464.7 960.6ZM505.9 960.1L541.3 956.7L541.1 951.7L505.8 955.8ZM341.2 975.1L349.1 974.2L349.1 972.9L341.2 974ZM464.7 960.9L548 951.4L547.8 946.2L464.6 957.4ZM341.2 974.1L349.1 973.1L349 971.8L341.2 973ZM450.9 959.6L547.9 946.8L547.7 941.6L450.7 956.4ZM437.1 958.8L444.9 957.6L444.8 954.4L436.9 955.8ZM450.8 956.7L554.5 941.1L554.3 935.8L450.6 953.5ZM437 956.1L444.8 954.8L444.7 951.7L436.8 953.1ZM450.6 953.8L513.3 943.3L513.1 938.8L450.5 950.6ZM519.1 942.3L527 941L526.8 936.2L518.9 937.7ZM532.8 940L554.4 936.4L554.1 931.1L532.6 935.2ZM436.8 953.4L513.1 939.3L512.9 934.8L436.7 950.5ZM518.9 938.2L526.8 936.7L526.6 932L518.7 933.6ZM532.6 935.7L554.1 931.7L553.9 926.4L532.4 930.8ZM436.7 950.8L560.7 925.6L560.5 920.1L436.6 947.8ZM436.6 948.1L492.2 935.8L492 931.8L436.4 945.2ZM498 934.5L560.5 920.7L560.2 915.3L497.8 930.4ZM347.8 966.7L355.6 964.8L355.5 963.5L347.7 965.5ZM436.4 945.5L553.4 917.5L553.1 912.2L436.2 942.5ZM347.7 965.6L355.5 963.6L355.4 962.3L347.6 964.4ZM436.3 942.8L559.9 911L559.6 905.6L436.1 939.9ZM347.6 964.6L355.4 962.4L355.3 961L347.5 963.4ZM436.1 940.2L491.5 924.9L491.3 920.9L435.9 937.3ZM497.3 923.3L559.6 906.2L559.2 900.8L497 919.2ZM347.5 963.5L355.4 961.2L355.3 959.8L347.4 962.3ZM361.1 959.5L369 957.2L368.8 955.6L361 958ZM429.1 939.6L436.9 937.3L436.7 934.3L428.9 936.7ZM442.7 935.6L491.3 921.3L491 917.3L442.5 932.5ZM497.1 919.6L559.3 901.4L558.8 896L496.7 915.5ZM347.5 962.4L355.3 960L355.2 958.6L347.4 961.2ZM361 958.2L368.8 955.7L368.7 954.1L360.9 956.7ZM428.9 937L558.9 896.6L558.5 891.2L428.7 934.2ZM340.6 963.6L355.2 958.8L355.1 957.4L340.5 962.5ZM360.9 956.9L368.7 954.3L368.6 952.7L360.8 955.4ZM428.7 934.5L551.7 894L551.3 888.7L428.5 931.7ZM340.5 962.6L368.6 952.9L368.5 951.2L340.4 961.6ZM428.5 932L504 905.8L503.6 901.5L428.2 929.2ZM523.2 899.1L551.3 889.3L550.9 884.1L522.8 894.4ZM340.4 961.7L368.5 951.4L368.3 949.8L340.3 960.6ZM428.3 929.5L496.9 904.4L496.5 900.3L428 926.7ZM522.9 894.9L537.4 889.6L536.9 884.6L522.4 890.2ZM340.3 960.7L368.3 950L368.2 948.3L340.2 959.7ZM428 927L489.8 903.3L489.4 899.3L427.8 924.2ZM522.5 890.7L537 885.1L536.5 880.2L522 886.1ZM340.2 959.8L368.2 948.5L368 946.9L340.1 958.7ZM427.8 924.5L482.7 902.4L482.3 898.5L427.5 921.7ZM522.1 886.5L529.8 883.4L529.3 878.6L521.6 881.9ZM340.2 958.8L368 947.1L367.9 945.5L340 957.8ZM434.3 919.2L462.2 907.4L461.8 904L433.9 916.3ZM340.1 957.9L367.9 945.6L367.7 944L339.9 956.8ZM434 916.6L461.8 904.3L461.4 900.9L433.7 913.7ZM339.9 956.9L367.7 944.2L367.5 942.6L339.8 955.9ZM433.7 914L461.5 901.3L461.1 897.8L433.3 911.1ZM339.8 956L367.6 942.8L367.4 941.2L339.7 955ZM440.1 908.2L447.8 904.5L447.4 901.4L439.7 905.2ZM339.7 955.1L367.4 941.4L367.2 939.8L339.6 954ZM439.7 905.5L447.4 901.7L447 898.5L439.4 902.5ZM339.6 954.1L367.2 939.9L367 938.3L339.5 953.1ZM519.2 861.7L526.9 857.8L526.3 853L518.6 857.1ZM339.5 953.2L367 938.5L366.8 936.9L339.3 952.2ZM339.4 952.3L366.8 937.1L366.6 935.5L339.2 951.2ZM339.2 951.3L366.6 935.7L366.4 934.1L339.1 950.3ZM339.1 950.4L373 930.4L372.8 928.7L338.9 949.4ZM339 949.5L372.8 928.8L372.5 927.1L338.8 948.5ZM338.8 948.6L372.6 927.3L372.3 925.6L338.6 947.5ZM338.7 947.6L372.3 925.8L372 924.1L338.5 946.6ZM338.5 946.7L372.1 924.3L371.8 922.6L338.3 945.7ZM338.4 945.8L371.8 922.8L371.5 921.1L338.2 944.8ZM351.2 935.7L365.1 925.9L364.8 924.3L350.9 934.5Z"/>
<path fill="#f8eeb0" d="M1303 977L1317.7 977L1317.7 964L1302.9 964.2ZM1227.3 957L1255.8 956.2L1255.7 937.1L1227.2 938.4Z"/>
<path fill="#f3ecb2" d="M1316.7 977L1482.6 976.3L1482.5 961.2L1316.7 964Z"/>
<path fill="#fae2a8" d="M1316.7 966.2L1482.6 963.7L1482.5 947.9L1316.6 952.5Z"/></g></g>
<rect x="286.8" y="119.8" width="1720.2" height="861.5" fill="none" stroke="#000" stroke-width="3.5"/>
<path d="M286.8 981.3v17M501.8 981.3v17M716.9 981.3v17M931.9 981.3v17M1146.9 981.3v17M1361.9 981.3v17M1577 981.3v17M1792 981.3v17M2007 981.3v17M286.8 981.3h-17M286.8 809h-17M286.8 636.7h-17M286.8 464.4h-17M286.8 292.1h-17M286.8 119.8h-17" stroke="#000" stroke-width="3.5" fill="none"/>
<g font-family="'DejaVu Sans','Liberation Sans',sans-serif" font-size="48.6" fill="#000">
<text x="286.8" y="1052" text-anchor="middle" textLength="30.1">0</text>
<text x="501.8" y="1052" text-anchor="middle" textLength="90.4">500</text>
<text x="716.9" y="1052" text-anchor="middle" textLength="120.6">1000</text>
<text x="931.9" y="1052" text-anchor="middle" textLength="120.6">1500</text>
<text x="1146.9" y="1052" text-anchor="middle" textLength="120.6">2000</text>
<text x="1361.9" y="1052" text-anchor="middle" textLength="120.6">2500</text>
<text x="1577" y="1052" text-anchor="middle" textLength="120.6">3000</text>
<text x="1792" y="1052" text-anchor="middle" textLength="120.6">3500</text>
<text x="2007" y="1052" text-anchor="middle" textLength="120.6">4000</text>
<text x="253.3" y="999.9" text-anchor="end" textLength="30.5">0</text>
<text x="253.3" y="827.6" text-anchor="end" textLength="91.4">200</text>
<text x="253.3" y="655.3" text-anchor="end" textLength="91.4">400</text>
<text x="253.3" y="483" text-anchor="end" textLength="91.4">600</text>
<text x="253.3" y="310.7" text-anchor="end" textLength="91.4">800</text>
<text x="253.3" y="138.4" text-anchor="end" textLength="121.8">1000</text>
<text x="1146.9" y="1122.3" text-anchor="middle" textLength="798">Horizontal distance from SRL (m)</text>
<text transform="translate(99.6,551.2) rotate(-90)" text-anchor="middle" textLength="733">Vertical distance from SRL (m)</text>
</g>
<text x="1146.9" y="92" text-anchor="middle" textLength="1167" font-family="'DejaVu Sans','Liberation Sans',sans-serif" font-size="58.3" fill="#000">SRL-X25 | 2025-01-15 | 09:15:43 UTC+8</text>
<rect x="286.5" y="1173.6" width="43.6" height="84.4" fill="#06062e"/>
<rect x="329.5" y="1173.6" width="43.6" height="84.4" fill="#0a0a50"/>
<rect x="372.5" y="1173.6" width="43.6" height="84.4" fill="#0c0a6e"/>
<rect x="415.5" y="1173.6" width="43.6" height="84.4" fill="#0a0a8a"/>
<rect x="458.5" y="1173.6" width="43.6" height="84.4" fill="#06149a"/>
<rect x="501.5" y="1173.6" width="43.6" height="84.4" fill="#0028a0"/>
<rect x="544.5" y="1173.6" width="43.6" height="84.4" fill="#0044b0"/>
<rect x="587.5" y="1173.6" width="43.6" height="84.4" fill="#0058c0"/>
<rect x="630.5" y="1173.6" width="43.6" height="84.4" fill="#0068d0"/>
<rect x="673.5" y="1173.6" width="43.6" height="84.4" fill="#0078c8"/>
<rect x="716.6" y="1173.6" width="43.6" height="84.4" fill="#0090b8"/>
<rect x="759.6" y="1173.6" width="43.6" height="84.4" fill="#0a9aa8"/>
<rect x="802.6" y="1173.6" width="43.6" height="84.4" fill="#0ab090"/>
<rect x="845.6" y="1173.6" width="43.6" height="84.4" fill="#10b87c"/>
<rect x="888.6" y="1173.6" width="43.6" height="84.4" fill="#12a860"/>
<rect x="931.6" y="1173.6" width="43.6" height="84.4" fill="#22b040"/>
<rect x="974.6" y="1173.6" width="43.6" height="84.4" fill="#50bc28"/>
<rect x="1017.6" y="1173.6" width="43.6" height="84.4" fill="#84d42c"/>
<rect x="1060.6" y="1173.6" width="43.6" height="84.4" fill="#b4e878"/>
<rect x="1103.6" y="1173.6" width="43.6" height="84.4" fill="#ccf09a"/>
<rect x="1146.6" y="1173.6" width="43.6" height="84.4" fill="#e6e4a8"/>
<rect x="1189.6" y="1173.6" width="43.6" height="84.4" fill="#f8eeb0"/>
<rect x="1232.6" y="1173.6" width="43.6" height="84.4" fill="#fce848"/>
<rect x="1275.6" y="1173.6" width="43.6" height="84.4" fill="#fdd628"/>
<rect x="1318.6" y="1173.6" width="43.6" height="84.4" fill="#fdc018"/>
<rect x="1361.6" y="1173.6" width="43.6" height="84.4" fill="#fda018"/>
<rect x="1404.6" y="1173.6" width="43.6" height="84.4" fill="#fd8810"/>
<rect x="1447.6" y="1173.6" width="43.6" height="84.4" fill="#fd6a08"/>
<rect x="1490.6" y="1173.6" width="43.6" height="84.4" fill="#fa4808"/>
<rect x="1533.6" y="1173.6" width="43.6" height="84.4" fill="#f03410"/>
<rect x="1576.7" y="1173.6" width="43.6" height="84.4" fill="#e02c18"/>
<rect x="1619.7" y="1173.6" width="43.6" height="84.4" fill="#d02820"/>
<rect x="1662.7" y="1173.6" width="43.6" height="84.4" fill="#bc1a2c"/>
<rect x="1705.7" y="1173.6" width="43.6" height="84.4" fill="#b00838"/>
<rect x="1748.7" y="1173.6" width="43.6" height="84.4" fill="#980850"/>
<rect x="1791.7" y="1173.6" width="43.6" height="84.4" fill="#800880"/>
<rect x="1834.7" y="1173.6" width="43.6" height="84.4" fill="#600a90"/>
<rect x="1877.7" y="1173.6" width="43.6" height="84.4" fill="#480888"/>
<rect x="1920.7" y="1173.6" width="43.6" height="84.4" fill="#340660"/>
<rect x="1963.7" y="1173.6" width="43.6" height="84.4" fill="#28043c"/>
<rect x="286.8" y="1173.6" width="1720.2" height="84.4" fill="none" stroke="#000" stroke-width="3.5"/>
<path d="M286.8 1258v17M501.8 1258v17M716.9 1258v17M931.9 1258v17M1146.9 1258v17M1361.9 1258v17M1577 1258v17M1792 1258v17M2007 1258v17" stroke="#000" stroke-width="3.5" fill="none"/>
<g font-family="'DejaVu Sans','Liberation Sans',sans-serif" font-size="48.6" fill="#000" text-anchor="middle">
<text x="286.8" y="1331">−20</text>
<text x="501.8" y="1331">−15</text>
<text x="716.9" y="1331">−10</text>
<text x="931.9" y="1331">−5</text>
<text x="1146.9" y="1331">0</text>
<text x="1361.9" y="1331">5</text>
<text x="1577" y="1331">10</text>
<text x="1792" y="1331">15</text>
<text x="2007" y="1331">20</text>
<text x="1146.9" y="1399.5" textLength="622">Radial wind velocity (m/s)</text>
</g>
</g>
<text x="1068" y="1624.5" text-anchor="middle" font-family="'Liberation Serif','DejaVu Serif',serif" font-size="72" fill="#000">(<tspan font-weight="bold">a</tspan>)</text>
<g transform="translate(0,1646.3)">
<g clip-path="url(#axclip)"><g shape-rendering="crispEdges"><path fill="#0ab090" d="M1523.3 533L1531.1 530.1L1528.8 505.6L1521 508.5ZM908.5 543.7L916 538.5L913.8 526L906.3 531.4Z"/>
<path fill="#10b87c" d="M1403 817.4L1410.9 816.2L1410 794L1402.1 795.3ZM1374.9 802.2L1423.8 794.1L1422.8 771.6L1373.9 780.6ZM1443.3 790.9L1451.2 789.6L1450.2 766.6L1442.3 768ZM1367.2 784.2L1429.8 772.8L1428.7 750.2L1366.2 762.8ZM1275.5 747.9L1310.7 739.6L1309.4 719.4L1274.3 728.4ZM1274.5 730.4L1323.2 718.1L1321.8 697.6L1273.2 710.9ZM1259.7 716.7L1322 699.7L1320.5 679.3L1258.3 697.5ZM1368.6 687.1L1376.4 684.9L1374.9 663.4L1367.1 665.7ZM1210.9 713.3L1218.7 711L1217.3 692.6L1209.5 695ZM1224.5 709.4L1239.1 705.1L1237.7 686.3L1223.1 690.8ZM1244.9 703.4L1327.5 679.5L1326 658.9L1243.5 684.5ZM1340.1 675.8L1354.7 671.6L1353.1 650.5L1338.5 655ZM1367.3 668L1375.1 665.7L1373.5 644.2L1365.7 646.6ZM1101.1 730.4L1108.9 728L1107.6 711.8L1099.8 714.4ZM1114.6 726.3L1122.5 723.9L1121.1 707.3L1113.3 709.9ZM1216.5 694.9L1326.1 661.1L1324.5 640.6L1215 676.5ZM1079.6 722.7L1121.3 709.1L1119.9 692.6L1078.3 707ZM1194.8 685.1L1324.7 642.8L1323 622.2L1193.3 667.2ZM1540.6 572.3L1562 565.3L1559.9 540.2L1538.5 547.5ZM1193.5 669.1L1316.4 626.8L1314.6 606.4L1191.9 651.2ZM1464.3 575.8L1519.5 556.8L1517.3 532.5L1462.2 552.6ZM1525.2 554.8L1560.1 542.8L1557.9 517.7L1523.1 530.4ZM1192.1 653.1L1348.6 596.3L1346.6 575.3L1190.4 635.2ZM1374.6 586.9L1382.4 584.1L1380.4 562.4L1372.6 565.4ZM1435.4 564.8L1524.3 532.6L1522 508.1L1433.3 542.1ZM1530 530.5L1558.1 520.3L1555.8 495.2L1527.8 506ZM1197.4 634.5L1205.1 631.5L1203.4 613.4L1195.6 616.5ZM1217.6 626.8L1252.4 613.5L1250.5 594.5L1215.8 608.4ZM1264.8 608.8L1394.1 559.6L1391.9 537.7L1263 589.5ZM1413.3 552.2L1556 497.9L1553.6 472.8L1411.1 530ZM1195.8 618.4L1203.5 615.3L1201.7 597.2L1194 600.5ZM1263.2 591.5L1432.6 523.9L1430.3 501.2L1261.2 572.2ZM1451.8 516.2L1553.8 475.5L1551.3 450.4L1449.4 493.2ZM1187.4 605.2L1201.9 599.1L1200 581.1L1185.5 587.4ZM1254.7 577.1L1417.1 509.3L1414.7 486.9L1252.6 558ZM1443 498.5L1464.1 489.6L1461.7 466.4L1440.5 475.6ZM1469.9 487.2L1551.6 453.1L1548.9 428.1L1467.4 463.9ZM1165.6 598L1180 591.8L1178.1 574.1L1163.7 580.7ZM1185.7 589.3L1193.5 585.9L1191.5 568L1183.8 571.5ZM1246.2 562.9L1542.5 433.7L1539.7 408.9L1244 544ZM996.4 658.7L1004.1 655.2L1002.5 641L994.8 644.7ZM1244.3 546L1272.1 533.3L1269.8 513.9L1242.1 527.1ZM1291.2 524.7L1499.8 429.8L1497 405.8L1288.9 504.8ZM1235.6 532.2L1276.7 512.8L1274.4 493.2L1233.4 513.5ZM1282.4 510.1L1403.8 452.7L1401.1 430.6L1280.1 490.4ZM646.6 804.3L654.3 800.5L653.4 793.3L645.7 797.2ZM1233.6 515.5L1388 439.5L1385.3 417.8L1231.3 496.8ZM632.5 804.7L660.1 790.6L659.2 783.3L631.6 797.9ZM1224.9 502.2L1359 433.7L1356.2 412.5L1222.5 483.6ZM1364.6 430.8L1372.3 426.9L1369.5 405.4L1361.9 409.5ZM625.1 802.1L659.3 784L658.3 776.7L624.2 795.5ZM1236 478.6L1330 428.8L1327.2 408.2L1233.5 459.8ZM604.4 807.1L665 773.8L664 766.4L603.5 800.8ZM1174.1 494.5L1201.6 479.4L1199.1 461.4L1171.7 477ZM1240.4 458.2L1301 424.9L1298.2 404.9L1237.8 439.4ZM597 805.2L677.3 759.6L676.2 751.9L596.1 799.1ZM1178.6 475.1L1186.2 470.8L1183.6 453L1176 457.5ZM596.2 799.7L676.3 752.8L675.2 745.1L595.3 793.6ZM595.4 794.3L675.3 745.9L674.1 738.2L594.5 788.2ZM694 734.5L701.6 729.9L700.3 721.8L692.8 726.5ZM601.1 784.7L667.7 743.1L666.5 735.6L600.1 778.5ZM1079.8 485.4L1087.3 480.7L1084.8 464.9L1077.3 469.8ZM600.2 779.2L660.1 740.6L658.9 733.2L599.2 773ZM605.9 769.3L639.4 747L638.3 740.1L604.8 763ZM944.9 544.1L965.4 530.4L963.2 517L942.7 531.1ZM604.9 763.7L631.9 745.2L630.7 738.4L603.8 757.4ZM923.4 545.8L963.4 518.5L961.1 505.1L921.3 533.2ZM616.9 749L624.4 743.7L623.2 737.1L615.7 742.4ZM882.6 561.9L909.5 543L907.3 530.7L880.5 550.2ZM915 539.1L967.8 502L965.4 488.5L912.8 526.7ZM861.4 565.5L946.3 504L943.9 491L859.3 554.1Z"/>
<path fill="#12a860" d="M1356.3 862.2L1432.7 853.7L1432.1 831L1355.6 841.1ZM1362.6 842.4L1459.6 829.9L1458.7 806.7L1361.8 821.1ZM1361.9 823.4L1376.6 821.2L1375.8 799.7L1361.1 802.2ZM1382.5 820.4L1404 817.2L1403.2 795.1L1381.6 798.7ZM1409.9 816.4L1452 810.2L1451.1 787.1L1409 794.2ZM1464.7 808.3L1472.5 807.2L1471.6 783.7L1463.8 785ZM1361.2 804.4L1375.9 802L1374.9 780.5L1360.2 783.2ZM1422.8 794.3L1444.3 790.7L1443.3 767.8L1421.8 771.8ZM1450.2 789.8L1471.7 786.2L1470.7 762.8L1449.2 766.8ZM1346.7 787.9L1368.2 784L1367.2 762.6L1345.7 767ZM1428.7 772.9L1436.6 771.5L1435.5 748.8L1427.7 750.4ZM1442.4 770.4L1464 766.5L1462.9 743.2L1441.3 747.6ZM1038.2 830.8L1046.1 829.2L1045.3 814.2L1037.4 815.9ZM1311.6 776L1463 745.7L1461.8 722.5L1310.5 755.8ZM552.7 923.3L560.5 921.6L560.2 916.2L552.4 918ZM1051.2 814.5L1059 812.8L1058.2 797.6L1050.3 799.4ZM1085.3 807.1L1100 803.9L1099.1 787.8L1084.4 791.3ZM1249.2 771.3L1468.7 723.4L1467.4 700.1L1248.1 752.3ZM545.6 920.2L560.3 916.7L559.9 911.3L545.3 915.1ZM1070.9 796.2L1126.5 783.1L1125.4 766.5L1069.9 780.7ZM1186.8 768.8L1276.5 747.7L1275.3 728.1L1185.7 751ZM1309.6 739.8L1460.7 704.2L1459.3 681L1308.4 719.6ZM531.7 919.1L560 911.9L559.6 906.5L531.4 914.3ZM1042.8 789.3L1275.5 730.2L1274.2 710.6L1041.8 774.3ZM1322.2 718.3L1343.6 712.9L1342.2 692L1320.8 697.9ZM1349.4 711.4L1377.7 704.2L1376.3 682.7L1348 690.4ZM1383.5 702.7L1439 688.6L1437.5 665.9L1382.1 681.1ZM1513 669.9L1534.4 664.4L1532.8 639.7L1511.4 645.6ZM1540.2 662.9L1568.5 655.7L1566.8 630.4L1538.6 638.2ZM504.2 922.2L512 920L511.7 915.6L503.9 917.9ZM531.4 914.8L559.7 907.1L559.3 901.7L531.1 909.9ZM1041.9 775.9L1260.7 716.4L1259.4 697.2L1040.8 761ZM1321 700L1369.6 686.8L1368.1 665.4L1319.5 679.6ZM1375.4 685.2L1410.5 675.7L1408.9 653.5L1373.9 663.7ZM1416.2 674.1L1424.1 672L1422.5 649.5L1414.7 651.8ZM1532 642.6L1567 633.1L1565.2 607.8L1530.2 618ZM531.1 910.5L559.3 902.3L558.9 896.9L530.7 905.6ZM1020.6 768.5L1211.9 713L1210.6 694.7L1019.5 754ZM1217.7 711.3L1225.5 709.1L1224.1 690.5L1216.3 692.9ZM1238.1 705.4L1245.9 703.1L1244.5 684.2L1236.7 686.6ZM1326.5 679.8L1341.1 675.5L1339.5 654.7L1324.9 659.2ZM1353.7 671.9L1368.3 667.7L1366.7 646.3L1352.1 650.8ZM1374.1 666L1395.5 659.8L1393.8 637.9L1372.5 644.5ZM1530.4 620.6L1551.8 614.4L1550 589.4L1528.6 596.1ZM530.8 906.1L559 897.5L558.5 892.1L530.4 901.3ZM1012.8 757.6L1102.1 730.1L1100.8 714L1011.7 743.3ZM1107.9 728.4L1115.7 725.9L1114.4 709.6L1106.6 712.1ZM1121.4 724.2L1217.5 694.6L1216 676.2L1120.1 707.7ZM1325.1 661.4L1380.4 644.4L1378.7 622.8L1323.5 640.9ZM1549.1 592.4L1563.7 587.9L1561.7 562.7L1547.2 567.5ZM523.7 904L558.6 892.6L558.1 887.3L523.3 899.4ZM1005 747L1080.6 722.4L1079.3 706.7L1003.8 732.8ZM1120.3 709.4L1195.9 684.8L1194.4 666.8L1118.9 693ZM1323.7 643.1L1385.7 622.8L1383.9 601.1L1321.9 622.6ZM1466 596.6L1541.6 572L1539.5 547.2L1464.1 573.3ZM509.8 904.5L558.2 887.8L557.7 882.5L509.4 900.1ZM990.4 739L1194.5 668.7L1192.9 650.8L989.2 725.1ZM1315.4 627.1L1390.8 601.1L1388.9 579.3L1313.6 606.8ZM1450.7 580.5L1465.3 575.5L1463.2 552.2L1448.7 557.5ZM1518.4 557.2L1526.2 554.5L1524.1 530L1516.3 532.8ZM509.4 900.6L557.8 883.1L557.3 877.7L509 896.2ZM658.1 846.7L665.9 843.8L665.2 836.4L657.4 839.3ZM975.8 731.5L1193.1 652.7L1191.4 634.8L974.5 717.9ZM1347.6 596.7L1375.6 586.5L1373.6 565L1345.6 575.7ZM1381.3 584.4L1395.9 579.2L1393.8 557.2L1379.3 562.8ZM1415.1 572.2L1436.4 564.5L1434.3 541.7L1413.1 549.9ZM509.1 896.6L557.3 878.3L556.8 872.9L508.6 892.3ZM806 783.6L834 772.9L832.9 762.1L805 773.3ZM961.2 724.4L1198.4 634.1L1196.6 616.1L959.9 711.1ZM1204.1 631.9L1218.6 626.4L1216.8 608L1202.3 613.8ZM1251.3 613.9L1265.9 608.4L1264 589.1L1249.5 594.9ZM1393.1 560L1414.3 551.9L1412.1 529.6L1390.9 538.1ZM495.2 898.1L556.8 873.5L556.3 868.2L494.8 894ZM805.1 774.4L853.2 755.2L852.1 744L804 764.2ZM933.1 723.3L1196.8 618L1195 600L931.8 710.5ZM1202.5 615.7L1217 609.9L1215.1 591.6L1200.7 597.6ZM1256.4 594.2L1264.2 591.1L1262.2 571.8L1254.5 575.1ZM1431.6 524.3L1452.8 515.8L1450.4 492.8L1429.3 501.7ZM488.1 897.2L556.4 868.7L555.8 863.4L487.7 893.3ZM642.8 832.6L650.5 829.4L649.7 822.2L642 825.6ZM656.2 827L690.8 812.6L690 804.6L655.4 819.7ZM804.2 765.2L811.9 762L810.8 751.6L803.1 755ZM824.3 756.8L845.5 748L844.3 736.9L823.2 746.2ZM905 723.1L1027.1 672.1L1025.5 657.5L903.7 710.9ZM1032.8 669.8L1188.4 604.7L1186.6 586.9L1031.2 655ZM1248 579.9L1255.7 576.7L1253.7 557.5L1245.9 560.9ZM1416.1 509.7L1444 498L1441.5 475.2L1413.7 487.4ZM1463.1 490L1470.9 486.8L1468.4 463.4L1460.7 466.8ZM487.7 893.7L555.9 864L555.3 858.6L487.3 889.7ZM642.1 826.4L696.8 802.5L695.9 794.4L641.3 819.3ZM903.9 712.2L1139.8 609.3L1137.9 592.5L902.5 700ZM1179 592.2L1186.8 588.8L1184.8 571L1177.1 574.6ZM1192.5 586.3L1200.2 583L1198.2 564.9L1190.5 568.4ZM1239.4 565.8L1247.2 562.5L1245.1 543.5L1237.3 547ZM1541.5 434.1L1549.2 430.8L1546.4 405.8L1538.7 409.4ZM487.3 890.1L562 856.2L561.4 850.7L486.9 886.2ZM634.7 823.1L696 795.3L695.1 787.2L633.9 816.3ZM902.6 701.3L997.4 658.2L995.8 644.2L901.2 689.1ZM1003.1 655.6L1111.3 606.4L1109.4 590.1L1001.5 641.5ZM1190.7 570.3L1198.4 566.8L1196.3 548.8L1188.6 552.5ZM1230.9 552.1L1245.3 545.5L1243.1 526.6L1228.7 533.4ZM1271.1 533.8L1292.2 524.2L1289.9 504.3L1268.8 514.4ZM1498.8 430.3L1540 411.5L1537.1 386.8L1496 406.3ZM486.9 886.6L521.4 870.3L520.8 865.7L486.4 882.6ZM527 867.6L534.7 864L534.1 859.1L526.5 862.9ZM547.1 858.1L561.5 851.3L560.8 845.9L546.5 853ZM567.1 848.6L574.8 845L574.1 839.3L566.5 843.1ZM620.6 823.3L695.2 788L694.2 780L619.8 816.7ZM888 696.8L962.6 661.5L960.9 648.1L886.6 684.9ZM968.2 658.8L1056.1 617.2L1054.3 602L966.6 645.3ZM1061.8 614.5L1102.9 595L1101 578.9L1060 599.2ZM1188.8 554.4L1203.2 547.6L1201 529.5L1186.7 536.6ZM1228.9 535.4L1236.6 531.8L1234.4 513L1226.7 516.8ZM1275.7 513.3L1283.4 509.6L1281.1 489.9L1273.4 493.7ZM1402.8 453.1L1450.6 430.5L1447.8 407.5L1400.1 431.1ZM486.5 883.1L520.9 866.1L520.3 861.5L486 879.1ZM559.9 847L580.9 836.6L580.2 830.8L559.2 841.6ZM613.2 820.7L647.6 803.8L646.7 796.7L612.4 814.2ZM653.3 801L694.3 780.8L693.3 772.8L652.4 793.8ZM893.4 682.9L1107.9 577.3L1105.8 561.1L891.9 670.9ZM1220.3 522L1234.6 515L1232.3 496.3L1218 503.6ZM1387 440L1434.7 416.5L1431.9 393.9L1384.3 418.3ZM486.1 879.5L507 868.8L506.5 864.5L485.5 875.6ZM565.9 838.7L580.2 831.4L579.5 825.6L565.2 833.2ZM605.9 818.3L633.5 804.2L632.6 797.4L605 812ZM659.1 791.1L700.1 770.2L699 762.1L658.2 783.8ZM885.4 675.5L1019.5 607L1017.7 592.6L883.9 663.7ZM1031.9 600.8L1112.7 559.5L1110.6 543.1L1029.9 586ZM1218.2 505.6L1225.9 501.7L1223.5 483.1L1215.8 487.2ZM1358 434.2L1365.6 430.3L1362.9 409L1355.2 413ZM1371.3 427.4L1405.6 409.9L1402.7 387.8L1368.5 406ZM485.6 876L499.9 868.4L499.3 864.2L485.1 872.1ZM565.3 833.8L626.1 801.6L625.2 794.9L564.6 828.3ZM658.3 784.6L699.1 762.9L698 754.8L657.3 777.2ZM884 665L991.3 608.2L989.4 594.3L882.5 653.2ZM1030.1 587.6L1037.8 583.6L1035.8 568.7L1028.2 572.9ZM1043.4 580.6L1117.5 541.4L1115.3 524.9L1041.4 565.6ZM1169.6 513.7L1203.8 495.6L1201.4 477.5L1167.3 496.3ZM1222.7 485.6L1237 478L1234.5 459.3L1220.2 467.1ZM1329 429.3L1396.4 393.6L1393.4 371.7L1326.2 408.8ZM485.1 872.5L499.4 864.7L498.8 860.5L484.6 868.6ZM564.6 828.9L605.4 806.5L604.5 800.2L563.9 823.4ZM664 774.4L704.8 752L703.6 743.8L663 766.9ZM876 658.1L969.8 606.6L967.9 593.2L874.4 646.4ZM1028.4 574.5L1108.9 530.3L1106.6 514.1L1026.3 559.8ZM1147.6 509.1L1175.1 494L1172.7 476.4L1145.3 492.1ZM1213.9 472.7L1221.5 468.5L1218.9 450.1L1211.3 454.4ZM1233.8 461.8L1241.4 457.6L1238.8 438.8L1231.2 443.1ZM1300 425.5L1393.8 374L1390.7 352.2L1297.2 405.5ZM484.6 869L498.9 860.9L498.3 856.7L484.1 865.1ZM564 824L598 804.7L597.1 798.5L563.2 818.5ZM676.3 760.2L710.3 740.9L709.1 732.5L675.2 752.5ZM868 651.4L875.6 647.1L873.9 635.5L866.3 639.9ZM881.2 643.9L941.6 609.6L939.8 596.7L879.5 632.2ZM1020 565.1L1113.5 512.1L1111.1 495.7L1017.9 550.7ZM1125.7 505.1L1179.6 474.5L1177 456.9L1123.3 488.6ZM1185.2 471.4L1206 459.5L1203.4 441.4L1182.6 453.6ZM1251.3 433.8L1371.2 365.8L1368.1 344.3L1248.5 414.8ZM484.1 865.5L498.3 857.2L497.7 853L483.6 861.6ZM576.4 811.4L597.2 799.2L596.3 793L575.6 805.6ZM675.3 753.3L715.9 729.5L714.6 721.1L674.2 745.7ZM859.9 645L933.4 601.9L931.5 589.1L858.2 633.7ZM1018.1 552.2L1164.1 466.5L1161.5 449.2L1015.9 537.8ZM1169.7 463.2L1197.1 447.2L1194.4 429.2L1167.1 445.8ZM1255.4 413L1263 408.5L1260.1 389.2L1252.6 393.8ZM1301.5 385.9L1322.3 373.7L1319.3 353.2L1298.6 365.8ZM477.1 866L484.6 861.4L484 857.5L476.5 862.2ZM588.8 798.3L596.4 793.7L595.4 787.6L587.9 792.3ZM674.3 746.5L695 733.9L693.8 725.9L673.1 738.8ZM700.6 730.5L721.3 718L720 709.4L699.3 722.4ZM845.2 642.9L912 602.4L910.1 590.1L843.5 631.9ZM1022.7 535.3L1148.7 459L1146 442L1020.5 520.8ZM1167.4 447.7L1201.3 427.1L1198.5 409.1L1164.7 430.3ZM1331.8 348L1345.9 339.5L1342.7 318.6L1328.6 327.4ZM365.1 932.4L372.6 927.6L372.3 925.9L364.8 930.8ZM476.5 862.6L484.1 857.9L483.5 854L475.9 858.9ZM588 792.9L602.1 784.1L601.1 777.9L587.1 787ZM666.7 743.7L733.2 702.1L731.8 693.3L665.5 736.2ZM850.3 628.9L923.4 583.2L921.4 570.6L848.5 617.8ZM1014.2 526.4L1080.8 484.8L1078.3 469.1L1011.9 512.1ZM1086.3 481.3L1198.8 411L1195.9 393L1083.8 465.5ZM1217.5 399.3L1225 394.6L1222.1 376.1L1214.5 380.9ZM364.9 931L372.4 926.1L372.1 924.4L364.6 929.4ZM593.7 783.4L601.2 778.6L600.2 772.4L592.7 777.3ZM659.1 741.2L745.1 685.8L743.6 676.8L657.9 733.9ZM842.2 623.2L915.1 576.2L913 563.8L840.4 612.2ZM1012.2 513.6L1202.8 390.7L1199.8 372.6L1009.8 499.3ZM364.6 929.6L372.1 924.6L371.8 922.9L364.4 928.1ZM586.3 782.3L606.8 768.7L605.8 762.4L585.3 776.4ZM638.5 747.7L665.5 729.7L664.3 722.2L637.3 740.7ZM671.1 726L756.8 669.1L755.2 659.8L669.8 718.4ZM847.1 609.1L913.3 565.1L911.2 552.7L845.2 598ZM938.4 548.4L945.9 543.4L943.7 530.4L936.2 535.6ZM997 509.4L1154.5 404.8L1151.6 387.7L994.7 495.4ZM1160 401.1L1200.1 374.5L1197.1 356.5L1157.1 383.9ZM585.4 777L605.9 763L604.8 756.7L584.4 771.1ZM630.9 745.9L761.9 656.3L760.3 646.9L629.7 739.1ZM845.4 599.2L924.4 545.1L922.2 532.6L843.5 588.1ZM962.4 519.1L969.9 514L967.6 500.5L960.1 505.8ZM975.4 510.2L1177.9 371.7L1174.9 354.1L973.1 496.6ZM558.6 790L617.9 748.3L616.7 741.7L557.6 784.6ZM623.4 744.4L766.9 643.4L765.2 633.9L622.2 737.8ZM850.2 584.8L883.6 561.3L881.5 549.5L848.2 573.6ZM966.8 502.7L1071.5 429L1068.8 413.5L964.5 489.2ZM1115.9 397.7L1123.4 392.5L1120.4 376L1113 381.4ZM1148.3 374.9L1155.8 369.7L1152.7 352.5L1145.3 357.9ZM493.1 832L500.6 826.6L499.8 822.4L492.4 827.9ZM557.7 785.2L752.5 644.2L750.8 635.1L556.7 779.9ZM835.5 584.2L862.3 564.8L860.2 553.4L833.5 573.3ZM945.3 504.7L1049.7 429.2L1046.9 414.1L943 491.7Z"/>
<path fill="#22b040" d="M485.6 980.5L541.5 980.2L541.5 975.2L485.6 976.6ZM629.8 979.9L672.1 979.7L672 972.1L629.8 973.1ZM492.4 976.8L541.5 975.8L541.5 970.4L492.4 972.5ZM629.8 973.9L672 972.9L672 964.9L629.7 966.7ZM471.8 973.8L479.7 973.5L479.6 969.7L471.7 970.1ZM485.5 973.2L541.5 971L541.4 965.9L485.5 969.3ZM636.6 967.1L644.5 966.8L644.4 959.7L636.5 960.2ZM650.3 966.6L672 965.7L671.9 958.1L650.3 959.4ZM1385.2 936.7L1427.4 935L1427.1 912.5L1384.9 915ZM485.5 969.7L555.2 965.7L555.1 960.4L485.4 965.8ZM657.1 959.7L671.9 958.9L671.8 951.3L657 952.4ZM684.6 958.1L692.5 957.7L692.4 949.6L684.5 950.3ZM1371.2 918.1L1427.2 914.9L1426.8 892.3L1370.8 896.7ZM485.4 966.2L555.1 960.9L555 955.6L485.3 962.3ZM663.9 952.7L692.4 950.5L692.2 942.5L663.7 945.2ZM814.9 941.2L822.8 940.6L822.6 930L814.7 930.8ZM828.6 940.2L864 937.5L863.7 926.1L828.4 929.4ZM1364 899.5L1433.7 894.2L1433.2 871.5L1363.6 878.2ZM485.3 962.7L500.1 961.3L500 957.1L485.2 958.8ZM505.9 960.8L548.1 956.8L548 951.7L505.8 956.4ZM677.5 944.7L692.2 943.3L692 935.3L677.3 937ZM814.7 931.9L863.8 927.3L863.5 915.9L814.4 921.4ZM1343 882.4L1440.1 873.3L1439.5 850.5L1342.5 861.5ZM478.4 960L554.9 951.4L554.7 946.1L478.3 956.2ZM800.7 924.1L822.3 921.7L822 911.1L800.4 913.9ZM1342.6 863.7L1357.3 862.1L1356.7 840.9L1341.9 842.9ZM1431.7 853.8L1460.2 850.6L1459.5 827.4L1431 831.2ZM1466 850L1473.9 849.1L1473.2 825.6L1465.3 826.7ZM471.4 957.5L554.7 946.7L554.5 941.4L471.3 953.8ZM731.9 923.8L753.5 921L753.2 911.8L731.6 915ZM800.5 915L835.8 910.4L835.4 899.6L800.1 904.8ZM1218.6 861L1274.5 853.8L1273.8 834.3L1218 842.6ZM1355.7 843.3L1363.6 842.3L1362.8 821L1355 822.2ZM1458.5 830L1466.4 829L1465.6 805.7L1457.7 806.9ZM471.3 954.2L554.6 942L554.4 936.7L471.2 950.6ZM718 918L753.2 912.8L752.9 903.6L717.6 909.5ZM1204.3 846.5L1273.9 836.3L1273.1 816.8L1203.6 828.4ZM1355.1 824.4L1362.9 823.2L1362.1 802L1354.2 803.3ZM1375.6 821.4L1383.5 820.2L1382.6 798.6L1374.8 799.9ZM1451 810.3L1465.7 808.2L1464.8 784.9L1450.1 787.3ZM1471.5 807.3L1479.4 806.1L1478.5 782.6L1470.6 783.9ZM471.2 950.9L561.2 936.1L561 930.7L471 947.3ZM710.8 911.5L752.9 904.6L752.5 895.3L710.4 903.1ZM929.9 875.4L937.8 874.1L937.2 861.3L929.3 862.7ZM1094.2 848.4L1108.9 845.9L1108.2 829.7L1093.5 832.4ZM1176.3 834.8L1191 832.4L1190.3 814.5L1175.6 817.3ZM1196.9 831.5L1218.4 827.9L1217.6 809.5L1196.1 813.5ZM1347.5 806.7L1362.2 804.2L1361.3 783L1346.6 785.7ZM1470.7 786.4L1478.6 785.1L1477.5 761.5L1469.7 763ZM1552.8 772.8L1574.4 769.3L1573.3 743.8L1551.8 747.8ZM477.9 946.4L561 931.3L560.8 925.8L477.7 942.7ZM710.5 904L759.4 895.1L759 885.7L710.1 895.6ZM1025.2 846.6L1046.7 842.6L1046 827.6L1024.5 832ZM1093.6 834.1L1135.6 826.4L1134.8 809.6L1092.8 818.2ZM1196.2 815.4L1245.1 806.5L1244.2 787.5L1195.3 797.4ZM1257.7 804.1L1299.8 796.5L1298.8 776.4L1256.8 785ZM1312.5 794.2L1347.7 787.7L1346.7 766.8L1311.5 773.9ZM1435.6 771.7L1443.5 770.3L1442.4 747.4L1434.5 749ZM1463 766.7L1477.7 764L1476.5 740.5L1461.8 743.5ZM1545 751.7L1573.4 746.5L1572.2 721.1L1543.8 726.9ZM484.6 941.7L560.8 926.4L560.5 921L484.4 937.8ZM703.3 897.9L711.2 896.3L710.7 887.9L702.9 889.6ZM717 895.1L752.2 888.1L751.7 878.9L716.5 886.6ZM997.2 839L1005.1 837.4L1004.3 823.2L996.5 825ZM1010.9 836.3L1039.2 830.6L1038.4 815.7L1010.1 822ZM1045 829.4L1114.4 815.5L1113.6 799.2L1044.3 814.4ZM1120.2 814.4L1141.8 810.1L1140.9 793.2L1119.4 797.9ZM1188.6 800.7L1299 778.6L1297.9 758.6L1187.6 782.9ZM1462 745.9L1469.8 744.3L1468.6 721L1460.7 722.7ZM1544 729.5L1551.8 727.9L1550.5 702.9L1542.7 704.6ZM484.4 938.2L553.7 923.1L553.4 917.8L484.2 934.3ZM702.9 890.5L758.6 878.4L758 869.1L702.4 882.3ZM1023.9 820.5L1052.2 814.3L1051.3 799.2L1023 805.9ZM1058 813.1L1086.3 806.9L1085.4 791.1L1057.1 797.8ZM1099 804.1L1147.8 793.5L1146.8 776.4L1098.1 788.1ZM1167.3 789.2L1175.1 787.5L1174.1 769.9L1166.3 771.8ZM1180.9 786.2L1250.2 771.1L1249.1 752.1L1179.9 768.6ZM1508.7 714.7L1516.5 713L1515.2 688.7L1507.3 690.6ZM1536 708.8L1550.7 705.6L1549.3 680.6L1534.6 684.1ZM484.2 934.7L546.6 920L546.3 914.8L484 930.8ZM695.7 884.8L758.1 870L757.5 860.7L695.2 876.7ZM982.2 817.1L990 815.3L989.2 801.4L981.3 803.4ZM1023.1 807.5L1037.8 804L1036.9 789.2L1022.2 792.9ZM1043.6 802.7L1071.9 796L1070.9 780.5L1042.7 787.7ZM1125.4 783.3L1187.9 768.6L1186.8 750.8L1124.4 766.8ZM1459.7 704.4L1474.4 701L1472.9 677.5L1458.3 681.2ZM1507.5 693.1L1569.9 678.4L1568.3 653.1L1506 669ZM490.8 929.5L532.7 918.8L532.4 914L490.5 925.5ZM674.8 882.7L730.3 868.6L729.8 859.9L674.3 875.1ZM736.1 867.2L757.6 861.7L757 852.4L735.5 858.3ZM967.8 808.3L975.6 806.3L974.7 792.7L966.9 794.9ZM1036 791L1043.8 789L1042.8 774.1L1035 776.2ZM1342.6 713.1L1350.4 711.1L1349.1 690.1L1341.2 692.3ZM1376.7 704.5L1384.5 702.5L1383.1 680.8L1375.3 682.9ZM1438 688.9L1479.9 678.2L1478.4 654.7L1436.5 666.1ZM1533.4 664.7L1541.2 662.7L1539.6 637.9L1531.8 640ZM490.6 925.9L505.2 921.9L504.9 917.6L490.3 921.9ZM511 920.3L532.4 914.5L532.1 909.6L510.7 915.9ZM558.6 907.4L566.5 905.2L566.1 899.7L558.3 902ZM674.3 875.9L729.8 860.8L729.2 852.1L673.8 868.2ZM1014.7 783.3L1042.9 775.6L1041.9 760.7L1013.7 769ZM1409.4 676L1417.3 673.8L1415.7 651.5L1407.9 653.8ZM1423.1 672.3L1478.5 657.2L1476.9 633.6L1421.5 649.8ZM1518.3 646.3L1533 642.4L1531.2 617.7L1516.6 622ZM490.3 922.3L532.1 910.2L531.8 905.3L490 918.3ZM667.1 871L695.3 862.8L694.7 854.8L666.5 863.5ZM728.2 853.3L736.1 851L735.4 842.1L727.6 844.6ZM1007 772.4L1021.6 768.2L1020.5 753.7L1005.9 758.2ZM1394.5 660.1L1483.9 634.1L1482.1 610.5L1392.8 638.2ZM1489.6 632.5L1497.4 630.2L1495.7 606.3L1487.8 608.7ZM1523.6 622.6L1531.4 620.3L1529.6 595.8L1521.8 598.2ZM1550.8 614.7L1565.4 610.5L1563.5 585.2L1548.9 589.8ZM496.8 916.6L531.8 905.8L531.4 901L496.5 912.4ZM557.9 897.8L565.7 895.4L565.3 889.9L557.5 892.4ZM666.6 864.3L701.5 853.5L700.9 845.3L666 856.8ZM1006 759.7L1013.8 757.3L1012.7 743L1004.9 745.5ZM1379.4 644.7L1421.2 631.8L1419.4 609.4L1377.7 623.1ZM1426.9 630L1550.2 592.1L1548.2 567.1L1425.2 607.5ZM489.8 915.1L524.7 903.7L524.3 899L489.4 911.1ZM557.6 893L565.4 890.4L564.9 884.9L557.1 887.6ZM652.5 862L694.2 848.4L693.5 840.4L651.9 854.8ZM733.8 835.5L741.6 832.9L740.9 824L733.1 826.7ZM767.7 824.4L795.9 815.2L795 805.2L766.9 814.9ZM876.2 789L917.9 775.4L916.9 763L875.2 777.4ZM991.5 751.4L1006 746.7L1004.8 732.5L990.3 737.5ZM1384.7 623.2L1433.1 607.4L1431.3 584.7L1382.9 601.5ZM1445.7 603.3L1467 596.3L1465.1 573L1443.8 580.4ZM489.5 911.5L510.8 904.2L510.4 899.7L489.1 907.5ZM557.2 888.2L564.9 885.5L564.5 880L556.7 882.9ZM645.2 857.9L680 845.9L679.3 838.1L644.5 850.8ZM760.2 818.3L815.4 799.3L814.5 788.8L759.4 808.9ZM868.6 781L917 764.3L915.9 751.8L867.5 769.5ZM936.3 757.7L944 755L942.9 742L935.1 744.8ZM956.6 750.7L964.4 748L963.2 734.6L955.4 737.4ZM970.1 746L991.4 738.6L990.2 724.7L968.9 732.5ZM1389.8 601.5L1404.4 596.4L1402.4 574.4L1387.9 579.7ZM1410.1 594.5L1451.8 580.1L1449.7 557.1L1408.2 572.3ZM421.6 932.4L429.3 929.6L429.1 926.8L421.3 929.8ZM489.1 907.9L510.4 900.2L510 895.8L488.8 903.9ZM637.8 854L659.1 846.3L658.5 838.9L637.2 847.1ZM664.9 844.2L672.7 841.4L671.9 833.8L664.2 836.7ZM746 814.8L821.4 787.5L820.4 776.9L745.1 805.7ZM827.1 785.4L922.7 750.7L921.6 738.2L826.1 774.7ZM955.5 738.8L976.8 731.1L975.6 717.5L954.3 725.6ZM1394.9 579.5L1416.2 571.8L1414.1 549.5L1392.8 557.6ZM421.3 930.1L429.1 927.1L428.8 924.3L421.1 927.4ZM488.8 904.4L510.1 896.3L509.6 891.9L488.4 900.4ZM556.3 878.7L564.1 875.7L563.5 870.2L555.8 873.3ZM637.3 847.8L678.8 832L678 824.3L636.6 840.9ZM745.2 806.7L807 783.2L806 772.9L744.4 797.6ZM833 773.3L928.5 736.9L927.2 724.2L831.9 762.5ZM947.7 729.6L962.2 724.1L960.9 710.7L946.4 716.5ZM380.7 943.8L388.4 940.7L388.2 938.7L380.5 942ZM421.1 927.7L428.9 924.6L428.6 921.8L420.8 925ZM488.5 900.8L496.2 897.7L495.8 893.6L488.1 896.8ZM555.8 873.9L563.6 870.8L563 865.3L555.3 868.6ZM636.7 841.6L691.6 819.7L690.8 811.7L636 834.7ZM744.5 798.6L772.4 787.4L771.4 777.8L743.5 789.6ZM791.6 779.8L806.1 774L805 763.7L790.6 769.8ZM852.2 755.6L934.1 722.9L932.8 710.1L851.1 744.4ZM1216 610.3L1257.4 593.8L1255.5 574.6L1214.1 592ZM380.5 942.2L388.3 938.9L388 936.9L380.3 940.3ZM420.9 925.3L428.6 922.1L428.3 919.3L420.6 922.7ZM481.4 900L489.1 896.8L488.7 892.8L481 896.2ZM555.4 869.1L569.8 863.1L569.2 857.5L554.8 863.8ZM629.3 838.3L643.8 832.2L643 825.2L628.6 831.5ZM649.5 829.8L657.2 826.6L656.4 819.3L648.7 822.7ZM689.8 813L704.3 806.9L703.4 798.7L689 805ZM743.6 790.5L751.4 787.3L750.4 778.1L742.7 781.5ZM797.4 768L805.2 764.8L804.1 754.6L796.4 758ZM810.9 762.4L825.3 756.4L824.2 745.8L809.8 752.1ZM844.5 748.4L906 722.7L904.7 710.5L843.3 737.4ZM1026.1 672.6L1033.8 669.3L1032.2 654.6L1024.5 658ZM1200.9 599.6L1208.6 596.3L1206.7 578.1L1199 581.5ZM1221.1 591.1L1249 579.5L1246.9 560.5L1219.1 572.7ZM360.2 949.3L367.9 945.9L367.7 944.3L360 947.8ZM380.3 940.5L394.8 934.2L394.5 932.1L380.1 938.7ZM481 896.6L488.7 893.2L488.3 889.2L480.6 892.8ZM554.8 864.4L576 855.2L575.4 849.5L554.3 859.1ZM628.7 832.2L643.1 825.9L642.3 818.9L627.9 825.5ZM695.8 802.9L703.5 799.6L702.6 791.3L694.9 794.9ZM762.9 773.7L770.6 770.3L769.6 760.7L761.9 764.3ZM803.2 756.1L904.9 711.8L903.5 699.6L802 745.9ZM1138.8 609.8L1146.5 606.4L1144.6 589.4L1136.9 592.9ZM1158.9 601L1166.6 597.6L1164.7 580.2L1157 583.7ZM1199.2 583.4L1206.9 580L1204.9 561.9L1197.2 565.4ZM1219.3 574.6L1240.4 565.4L1238.4 546.6L1217.3 556.2ZM360.1 948L367.8 944.5L367.6 942.9L359.9 946.5ZM373.5 941.9L394.6 932.3L394.3 930.2L373.3 940.2ZM420.3 920.6L434.8 914L434.4 911.1L420 917.9ZM480.6 893.2L488.3 889.7L487.9 885.7L480.2 889.3ZM561 856.6L575.4 850.1L574.8 844.4L560.4 851.2ZM621.3 829.2L635.7 822.7L634.9 815.8L620.5 822.6ZM695 795.7L702.7 792.2L701.7 784L694.1 787.7ZM802.2 747L903.7 700.8L902.2 688.7L801 736.8ZM1110.3 606.9L1144.8 591.2L1142.8 574.3L1108.4 590.6ZM1150.5 588.6L1164.9 582.1L1162.9 564.7L1148.5 571.6ZM1177.3 576.4L1191.7 569.9L1189.6 552L1175.2 558.8ZM1197.4 567.3L1205.1 563.8L1203 545.7L1195.3 549.3ZM1217.5 558.2L1231.9 551.6L1229.7 532.9L1215.3 539.8ZM1539 412L1546.7 408.5L1543.8 383.6L1536.1 387.2ZM353.2 949.9L367.6 943.1L367.4 941.5L353.1 948.5ZM373.3 940.4L394.3 930.4L394.1 928.3L373.1 938.7ZM413.4 921.4L434.5 911.4L434.1 908.5L413.1 918.9ZM480.2 889.7L487.9 886.1L487.5 882.1L479.8 885.9ZM520.3 870.8L528 867.1L527.5 862.4L519.8 866.2ZM533.7 864.4L548.1 857.6L547.5 852.5L533.1 859.6ZM560.5 851.8L568.1 848.1L567.5 842.6L559.8 846.4ZM573.8 845.5L588.2 838.7L587.5 832.7L573.1 839.8ZM613.9 826.5L621.6 822.8L620.8 816.2L613.2 820ZM694.2 788.5L728.6 772.2L727.5 763.5L693.2 780.5ZM801.1 737.9L889 696.3L887.6 684.4L799.9 727.7ZM961.6 662L969.2 658.3L967.6 644.8L959.9 648.6ZM1055.1 617.7L1062.8 614L1061 598.7L1053.3 602.5ZM1101.9 595.5L1149.7 572.9L1147.7 555.9L1100 579.4ZM1155.4 570.2L1189.8 553.9L1187.7 536.1L1153.3 553ZM1202.2 548.1L1209.9 544.4L1207.7 526.2L1200 530ZM1215.6 541.7L1230 534.9L1227.7 516.3L1213.4 523.4ZM1449.5 431L1484 414.7L1481.1 391.1L1446.8 408ZM1489.7 412L1497.3 408.4L1494.5 384.5L1486.8 388.3ZM1529.8 393L1544.1 386.2L1541.1 361.4L1526.8 368.5ZM353.1 948.7L394.1 928.5L393.8 926.4L352.9 947.4ZM413.1 919.2L434.1 908.8L433.8 905.9L412.8 916.7ZM439.8 906L447.5 902.2L447.1 899.1L439.4 903ZM479.8 886.3L487.5 882.6L487 878.6L479.4 882.5ZM519.9 866.6L560.9 846.5L560.2 841L519.3 862ZM579.9 837.1L594.2 830L593.5 824L579.2 831.3ZM606.6 824L614.2 820.2L613.4 813.7L605.8 817.7ZM693.3 781.3L747.7 754.6L746.5 745.5L692.3 773.3ZM780 738.7L787.7 734.9L786.4 725L778.8 728.9ZM800 728.8L834.4 711.9L833 701.1L798.8 718.7ZM840 709.1L894.4 682.4L892.9 670.4L838.7 698.2ZM1106.9 577.8L1221.3 521.6L1219 503.1L1104.8 561.6ZM1433.7 417L1461.4 403.4L1458.5 380.2L1430.9 394.4ZM352.9 947.5L393.9 926.6L393.6 924.5L352.8 946.2ZM406.2 920.3L433.8 906.2L433.4 903.3L405.9 918ZM479.4 882.9L487.1 879L486.5 875.1L478.9 879.1ZM506 869.3L566.9 838.2L566.2 832.7L505.5 865ZM579.2 831.9L606.9 817.8L606 811.5L578.5 826.2ZM699.1 770.7L746.6 746.4L745.5 737.3L698 762.6ZM759 740.1L766.6 736.2L765.4 726.8L757.7 730.8ZM798.9 719.7L886.4 675L884.9 663.2L797.6 709.6ZM1018.5 607.6L1032.9 600.2L1030.9 585.5L1016.7 593.1ZM1111.7 560L1219.2 505.1L1216.8 486.6L1109.6 543.7ZM1404.6 410.4L1438.9 392.9L1435.9 370.1L1401.7 388.3ZM1484.5 369.6L1492.1 365.7L1489 341.9L1481.4 345.9ZM352.8 946.4L393.6 924.7L393.3 922.6L352.6 945ZM399.3 921.7L433.5 903.6L433.1 900.7L399 919.5ZM445.8 897.1L453.4 893.1L453 889.8L445.3 894ZM472.3 883L486.6 875.5L486.1 871.5L471.8 879.4ZM498.9 869L519.8 857.9L519.2 853.3L498.3 864.8ZM532.1 851.4L566.3 833.3L565.5 827.8L531.4 846.5ZM698.1 763.5L752.2 734.8L751 725.6L697 755.3ZM797.7 710.7L885 664.5L883.5 652.6L796.4 700.6ZM990.3 608.7L1031.1 587.1L1029.2 572.4L988.4 594.8ZM1036.8 584.1L1044.4 580L1042.4 565.1L1034.8 569.3ZM1116.5 541.9L1170.6 513.2L1168.2 495.8L1114.3 525.5ZM1202.8 496.2L1223.7 485.1L1221.2 466.6L1200.4 478.1ZM1395.4 394.2L1429.6 376L1426.6 353.5L1392.4 372.3ZM352.6 945.2L393.4 922.8L393.1 920.7L352.5 943.9ZM399 919.7L433.1 901L432.7 898.1L398.7 917.5ZM438.8 897.9L446.4 893.8L445.9 890.6L438.3 894.9ZM471.9 879.8L486.1 872L485.6 868L471.4 876.1ZM498.4 865.2L506 861L505.4 856.7L497.8 861.1ZM531.5 847.1L565.6 828.3L564.9 822.8L530.8 842.2ZM703.8 752.6L757.8 722.9L756.5 713.6L702.6 744.3ZM809.8 694.4L877 657.5L875.4 645.9L808.3 684.1ZM968.8 607.2L1029.4 573.9L1027.3 559.3L966.9 593.7ZM1107.9 530.9L1148.6 508.5L1146.3 491.5L1105.6 514.7ZM1200.6 480L1214.9 472.2L1212.3 453.8L1198.1 461.9ZM1220.5 469.1L1234.8 461.3L1232.1 442.6L1217.9 450.6ZM1392.8 374.6L1420.3 359.5L1417.1 337.1L1389.7 352.8ZM352.5 944L393.1 921L392.8 918.9L352.3 942.7ZM398.7 917.8L459.2 883.4L458.7 880L398.4 915.6ZM471.4 876.5L485.6 868.4L485.1 864.5L470.9 872.9ZM497.9 861.5L505.5 857.2L504.8 852.9L497.3 857.3ZM524.3 846.5L564.9 823.4L564.2 817.9L523.6 841.8ZM709.3 741.5L756.6 714.6L755.3 705.4L708.1 733.1ZM821.7 677.7L868.9 650.9L867.3 639.4L820.2 667.1ZM874.6 647.7L882.2 643.4L880.5 631.6L872.9 636.1ZM940.6 610.2L1020.9 564.6L1018.9 550.1L938.8 597.2ZM1112.5 512.6L1126.7 504.6L1124.3 488L1110.1 496.3ZM1205 460.1L1252.3 433.3L1249.5 414.2L1202.4 442ZM1370.2 366.3L1417.5 339.5L1414.3 317.2L1367.1 344.9ZM1495.8 295L1503.4 290.7L1499.9 266.7L1492.3 271.2ZM352.3 942.9L392.8 919.1L392.5 917L352.1 941.6ZM398.4 915.8L458.8 880.4L458.3 877L398.1 913.6ZM464.4 877.1L485.1 864.9L484.6 861L463.8 873.6ZM497.3 857.8L504.9 853.3L504.3 849L496.7 853.6ZM517.1 846.2L577.4 810.8L576.6 805L516.4 841.6ZM714.9 730.1L768.6 698.6L767.2 689.1L713.6 721.7ZM833.5 660.5L860.9 644.4L859.2 633.1L831.9 649.7ZM932.4 602.5L999.3 563.2L997.2 549.2L930.5 589.7ZM1004.9 559.9L1019.1 551.6L1016.9 537.2L1002.8 545.8ZM1163.1 467.1L1170.7 462.7L1168.1 445.2L1160.5 449.8ZM1196.1 447.8L1256.4 412.4L1253.5 393.2L1193.4 429.8ZM1262 409.1L1302.5 385.3L1299.6 365.2L1259.1 389.8ZM1321.3 374.3L1414.6 319.5L1411.3 297.3L1318.3 353.8ZM352.1 941.7L386 921.2L385.7 919.2L351.9 940.4ZM391.6 917.8L478 865.4L477.5 861.6L391.3 915.7ZM483.6 862L504.3 849.5L503.7 845.2L483 858.1ZM509.9 846.1L589.8 797.7L588.9 791.7L509.2 841.7ZM720.3 718.6L773.9 686.1L772.4 676.5L719 710ZM832.1 650.9L846.2 642.3L844.5 631.2L830.4 640.1ZM911 603L1023.7 534.7L1021.5 520.2L909.1 590.7ZM1147.7 459.6L1168.4 447.1L1165.7 429.6L1145.1 442.6ZM1200.3 427.7L1332.7 347.4L1329.6 326.8L1197.5 409.7ZM1344.9 340.1L1391.9 311.6L1388.6 289.8L1341.7 319.2ZM352 940.6L366.1 931.7L365.8 930.2L351.8 939.3ZM371.6 928.3L385.7 919.4L385.4 917.5L371.4 926.6ZM391.3 916L477.5 862L476.9 858.3L391 913.9ZM483.1 858.5L503.7 845.6L503.1 841.3L482.5 854.7ZM509.3 842.1L589 792.3L588 786.4L508.6 837.8ZM732.3 702.7L779.1 673.4L777.6 663.7L730.9 693.9ZM837.2 637.1L851.3 628.3L849.5 617.2L835.4 626.3ZM922.4 583.8L1015.2 525.8L1012.9 511.4L920.4 571.3ZM1197.8 411.6L1218.4 398.7L1215.5 380.3L1194.9 393.6ZM1224 395.2L1323.4 333.1L1320.1 312.6L1221.1 376.7ZM1342 321.4L1362.7 308.5L1359.3 287.2L1338.7 300.6ZM351.8 939.4L365.8 930.3L365.6 928.8L351.6 938.1ZM371.4 926.8L450.8 875.5L450.3 872.3L371.1 925.1ZM456.4 871.9L496.6 846L495.9 841.9L455.8 868.6ZM502.2 842.4L594.7 782.8L593.7 776.7L501.5 838.2ZM744.1 686.4L777.8 664.7L776.2 655L742.6 677.4ZM783.3 661.1L790.8 656.3L789.2 646.3L781.7 651.3ZM835.6 627.4L843.1 622.6L841.4 611.6L833.9 616.6ZM914.1 576.8L1013.1 512.9L1010.8 498.6L912.1 564.4ZM1201.8 391.3L1268.2 348.5L1265 329.1L1198.8 373.2ZM345.1 942.6L365.6 928.9L365.3 927.4L344.9 941.4ZM371.1 925.3L587.3 781.7L586.3 775.7L370.9 923.6ZM664.5 730.3L672 725.4L670.8 717.8L663.3 722.9ZM755.8 669.7L769.8 660.4L768.2 650.9L754.3 660.4ZM794.9 643.7L802.4 638.7L800.7 628.6L793.2 633.7ZM834 617.7L848.1 608.4L846.2 597.3L832.2 606.9ZM912.3 565.7L939.3 547.8L937.2 534.9L910.2 553.4ZM964.4 531.1L998 508.8L995.7 494.7L962.2 517.7ZM1153.5 405.5L1161 400.5L1158.1 383.2L1150.6 388.4ZM1199.2 375.2L1206.6 370.2L1203.6 352L1196.1 357.2ZM1238.3 349.2L1245.8 344.2L1242.6 325.3L1235.1 330.4ZM344.9 941.6L391.4 909.8L391 907.7L344.7 940.4ZM396.9 906L586.4 776.4L585.4 770.5L396.5 903.8ZM760.9 657L768.4 651.9L766.7 642.4L759.3 647.6ZM773.9 648.1L800.9 629.6L799.1 619.5L772.3 638.5ZM838.9 603.6L846.4 598.5L844.5 587.5L837 592.7ZM968.9 514.7L976.4 509.6L974.1 496L966.6 501.2ZM1176.9 372.4L1190.9 362.8L1187.8 345L1173.9 354.8ZM1196.4 359.1L1203.9 353.9L1200.8 335.8L1193.3 341.1ZM344.7 940.5L391.1 907.9L390.7 905.9L344.5 939.4ZM396.6 904L475.3 848.6L474.6 844.9L396.2 901.9ZM480.8 844.7L559.5 789.3L558.6 783.9L480.1 840.9ZM766 644.1L805.8 616L804 605.8L764.3 634.6ZM817.8 607.6L851.2 584.1L849.2 572.9L815.9 597.1ZM1070.5 429.7L1116.9 397.1L1114 380.7L1067.8 414.2ZM1122.4 393.2L1136.3 383.4L1133.3 366.6L1119.4 376.7ZM1141.8 379.5L1149.3 374.2L1146.2 357.2L1138.8 362.6ZM1154.8 370.4L1162.2 365.1L1159.2 347.8L1151.7 353.2ZM344.5 939.5L390.7 906.1L390.4 904L344.3 938.4ZM396.2 902.1L474.7 845.3L474 841.6L395.8 899.9ZM480.2 841.3L494.1 831.3L493.3 827.2L479.5 837.5ZM499.6 827.3L532.9 803.2L532 798.4L498.8 823.1ZM538.3 799.2L558.7 784.5L557.7 779.1L537.4 794.3ZM751.5 644.9L836.5 583.5L834.5 572.6L749.8 635.8ZM1048.7 429.9L1082 405.8L1079.1 390.1L1045.9 414.8Z"/>
<path fill="#50bc28" d="M334.4 981.1L356.1 981L356.1 979.7L334.4 980.2ZM458.1 980.6L486.6 980.5L486.6 976.5L458.1 977.2ZM540.5 980.2L555.3 980.2L555.3 974.9L540.5 975.3ZM622.9 979.9L630.8 979.9L630.8 973.1L622.9 973.3ZM671 979.7L678.9 979.7L678.9 972L671 972.2ZM904.6 978.7L953.7 978.5L953.6 965.4L904.5 966.6ZM334.4 980.3L349.2 979.9L349.2 978.6L334.4 979.3ZM458.1 977.6L493.5 976.8L493.4 972.5L458.1 974ZM540.5 975.8L562.1 975.3L562.1 969.6L540.5 970.5ZM622.9 974L630.8 973.8L630.8 966.6L622.9 967ZM671 973L678.9 972.8L678.8 964.6L670.9 964.9ZM904.5 967.9L960.5 966.7L960.4 952.6L904.4 955ZM1076.2 964.2L1084.1 964L1084 947.3L1076.1 947.6ZM334.4 979.4L349.2 978.8L349.2 977.5L334.4 978.4ZM458.1 974.4L472.8 973.8L472.8 970.1L458 971ZM478.7 973.5L486.6 973.2L486.5 969.2L478.6 969.7ZM540.5 971L562.1 970.1L562 964.7L540.4 966ZM622.9 967.7L637.6 967.1L637.6 960.1L622.8 961ZM643.5 966.8L651.4 966.5L651.3 959.3L643.4 959.8ZM670.9 965.7L685.7 965.1L685.6 957.2L670.9 958.1ZM835.8 959L850.5 958.4L850.4 947.3L835.6 948.2ZM856.4 958.2L864.3 957.9L864.1 946.5L856.2 946.9ZM870.1 957.6L960.4 954L960.2 940.7L870 946.1ZM1096.7 948.4L1104.6 948.1L1104.4 932L1096.5 932.4ZM1344 938.4L1386.2 936.7L1385.9 915L1343.7 917.5ZM1501.9 932L1578.5 928.9L1578.2 903.4L1501.6 908ZM334.4 978.5L349.2 977.7L349.2 976.4L334.4 977.6ZM458 971.3L486.5 969.7L486.4 965.7L458 967.9ZM554.1 965.7L562 965.3L561.9 959.8L554.1 960.4ZM622.8 961.7L658.2 959.7L658 952.3L622.7 955.1ZM670.9 958.9L685.6 958.1L685.5 950.2L670.7 951.3ZM691.5 957.7L699.4 957.3L699.2 949.1L691.3 949.7ZM732.7 955.3L754.3 954.1L754.1 944.8L732.5 946.5ZM835.6 949.3L898.5 945.7L898.3 933.6L835.5 938.5ZM911.2 944.9L960.3 942.1L960 928.8L911 932.6ZM1089.7 934.5L1104.5 933.7L1104.2 917.5L1089.4 918.7ZM1336.9 920.1L1372.2 918.1L1371.9 896.6L1336.5 899.4ZM1426.1 914.9L1434 914.5L1433.6 891.8L1425.7 892.4ZM1508.5 910.1L1550.7 907.7L1550.3 882.7L1508.1 886ZM1570.3 906.5L1578.2 906.1L1577.8 880.5L1569.9 881.2ZM334.4 977.7L349.2 976.6L349.1 975.3L334.4 976.7ZM458 968.3L486.5 966.1L486.4 962.2L457.9 964.9ZM554.1 961L562 960.4L561.8 955L553.9 955.7ZM622.7 955.8L664.9 952.6L664.8 945.1L622.6 949.1ZM691.3 950.6L699.2 950L699.1 941.8L691.2 942.6ZM732.5 947.4L754.2 945.8L754 936.6L732.3 938.6ZM821.8 940.7L829.7 940.1L829.4 929.3L821.5 930.1ZM862.9 937.5L891.4 935.4L891.2 923.4L862.7 926.2ZM911 933.9L953.2 930.7L952.9 917.5L910.7 921.6ZM1048.3 923.5L1069.9 921.8L1069.6 906.3L1047.9 908.4ZM1281.6 905.7L1296.4 904.6L1296 884.7L1281.2 886.1ZM1336.6 901.6L1365 899.4L1364.6 878.1L1336.1 880.8ZM1432.7 894.3L1447.4 893.2L1446.9 870.2L1432.2 871.6ZM1460.1 892.2L1474.9 891.1L1474.4 867.6L1459.6 869ZM1494.4 889.6L1577.8 883.3L1577.3 857.7L1493.9 865.7ZM334.4 976.8L342.3 976.1L342.3 975L334.4 975.9ZM464.8 964.6L486.4 962.6L486.3 958.7L464.7 961.1ZM499.1 961.4L507 960.7L506.9 956.3L499 957.2ZM547.1 956.9L561.9 955.5L561.7 950.1L547 951.8ZM629.4 949.2L678.5 944.6L678.3 936.9L629.3 942.4ZM691.2 943.4L705.9 942L705.7 933.8L691 935.4ZM739.2 938.9L781.4 935L781.2 925.2L739 930ZM794.1 933.8L815.7 931.8L815.5 921.3L793.9 923.8ZM862.7 927.4L884.3 925.3L884 913.5L862.4 916ZM910.8 922.9L959.8 918.3L959.5 905L910.4 910.5ZM1048 910L1062.7 908.6L1062.3 893.3L1047.6 895ZM1233.2 892.7L1316.6 884.9L1316.1 864.5L1232.8 874ZM1329.3 883.7L1344.1 882.3L1343.5 861.4L1328.8 863.1ZM1439.1 873.4L1577.3 860.4L1576.7 834.9L1438.5 850.6ZM334.4 976L342.3 975.1L342.2 974L334.3 975.1ZM464.7 961.5L479.4 959.8L479.3 956L464.6 958ZM553.8 951.6L561.7 950.7L561.6 945.2L553.7 946.3ZM629.3 943.2L637.2 942.3L637 935.4L629.1 936.4ZM643 941.6L712.6 933.9L712.4 925.5L642.8 934.6ZM739 930.9L774.3 927L774 917.4L738.7 922ZM821.3 921.8L884.1 914.8L883.7 903L821 911.2ZM910.5 911.8L952.7 907.1L952.3 894L910.1 899.5ZM979.1 904.2L986.9 903.3L986.5 889.5L978.6 890.5ZM1040.8 897.3L1062.4 894.9L1061.9 879.6L1040.3 882.4ZM1068.2 894.3L1076.1 893.4L1075.6 877.8L1067.8 878.8ZM1212.2 878.2L1309.3 867.4L1308.7 847.2L1211.7 859.9ZM1328.8 865.2L1343.6 863.6L1342.9 842.7L1328.2 844.6ZM1459.1 850.7L1467 849.9L1466.3 826.5L1458.4 827.6ZM1472.9 849.2L1515 844.5L1514.3 820.2L1472.2 825.8ZM1548.3 840.8L1576.8 837.6L1576 812.1L1547.5 815.9ZM334.4 975.2L342.2 974.1L342.2 973L334.3 974.2ZM416.6 964.5L424.5 963.5L424.4 960.8L416.5 962ZM464.6 958.3L472.5 957.3L472.3 953.7L464.5 954.8ZM553.7 946.8L561.6 945.8L561.4 940.4L553.5 941.6ZM642.8 935.3L733 923.7L732.6 914.9L642.6 928.3ZM752.5 921.2L774.1 918.4L773.7 908.8L752.2 912ZM834.7 910.6L883.8 904.2L883.3 892.4L834.4 899.7ZM889.6 903.5L897.5 902.5L897 890.4L889.2 891.6ZM910.1 900.8L959.2 894.5L958.7 881.2L909.7 888.5ZM992.4 890.2L1007.1 888.3L1006.6 874.1L991.9 876.3ZM1040.4 884L1075.7 879.4L1075.1 863.9L1039.9 869.1ZM1115.8 874.3L1137.4 871.5L1136.8 854.7L1115.2 857.9ZM1156.9 869L1219.6 860.9L1219 842.4L1156.3 851.8ZM1273.4 853.9L1301.9 850.2L1301.2 830.2L1272.8 834.4ZM1328.3 846.8L1356.7 843.2L1356 822L1327.6 826.2ZM1465.4 829.1L1500.7 824.6L1499.8 800.6L1464.6 805.8ZM1540.8 819.4L1576.1 814.8L1575.2 789.4L1539.9 794.6ZM334.3 974.3L342.2 973.2L342.2 972.1L334.3 973.4ZM416.5 962.2L424.4 961.1L424.3 958.4L416.4 959.7ZM464.5 955.2L472.4 954L472.2 950.4L464.3 951.7ZM553.5 942.1L568.3 940L568.1 934.4L553.3 936.9ZM649.4 928L719 917.8L718.6 909.3L649.2 920.9ZM752.2 912.9L876.5 894.7L876.1 883L751.8 903.7ZM902.9 890.8L999.9 876.6L999.3 862.5L902.4 878.6ZM1033.1 871.7L1205.4 846.4L1204.7 828.2L1032.5 856.9ZM1272.8 836.5L1301.3 832.3L1300.5 812.3L1272.1 817ZM1313.9 830.4L1356.1 824.3L1355.3 803.1L1313.2 810.1ZM1478.4 806.3L1499.9 803.1L1499 779.1L1477.4 782.7ZM1526.3 799.3L1575.3 792.1L1574.3 766.6L1525.4 774.8ZM334.3 973.5L342.2 972.2L342.1 971.1L334.2 972.5ZM348 971.2L355.9 969.9L355.8 968.6L347.9 970ZM416.4 960L424.3 958.7L424.2 955.9L416.3 957.4ZM464.4 952.1L472.2 950.8L472.1 947.1L464.2 948.6ZM560.2 936.3L568.1 935L567.8 929.4L560 930.9ZM662.9 919.4L711.8 911.3L711.5 902.9L662.6 911.9ZM751.9 904.7L876.1 884.3L875.6 872.6L751.5 895.5ZM902.5 879.9L930.9 875.2L930.4 862.5L902 867.8ZM936.7 874.3L1095.2 848.2L1094.5 832.2L936.2 861.4ZM1107.9 846.1L1177.4 834.7L1176.6 817.1L1107.2 829.9ZM1190 832.6L1197.9 831.3L1197.1 813.3L1189.2 814.7ZM1217.4 828.1L1307.4 813.3L1306.5 793.1L1216.6 809.7ZM1313.2 812.3L1348.5 806.5L1347.6 785.5L1312.4 792ZM1477.5 785.2L1553.9 772.7L1552.8 747.6L1476.5 761.7ZM334.3 972.6L342.1 971.2L342.1 970.1L334.2 971.7ZM347.9 970.1L355.8 968.7L355.7 967.3L347.9 968.9ZM409.5 958.9L437.9 953.7L437.7 950.7L409.4 956.5ZM464.2 948.9L478.9 946.2L478.8 942.4L464.1 945.4ZM560 931.5L567.9 930L567.6 924.5L559.7 926.1ZM662.6 912.7L711.5 903.8L711.1 895.4L662.2 905.3ZM758.4 895.3L875.7 873.9L875.1 862.2L757.9 885.9ZM895.2 870.3L1026.2 846.4L1025.5 831.8L894.6 858.3ZM1045.7 842.8L1094.6 833.9L1093.8 817.9L1045 827.8ZM1134.6 826.6L1142.5 825.2L1141.7 808.3L1133.8 809.9ZM1189.3 816.6L1197.2 815.2L1196.3 797.2L1188.5 798.8ZM1244.1 806.6L1258.8 804L1257.8 784.7L1243.1 787.7ZM1298.8 796.7L1313.5 794L1312.5 773.7L1297.8 776.7ZM1476.6 764.2L1546.1 751.5L1544.9 726.6L1475.5 740.7ZM334.2 971.8L342.1 970.2L342 969.1L334.2 970.9ZM347.9 969.1L355.7 967.5L355.7 966.1L347.8 967.9ZM402.6 958.1L437.8 951.1L437.6 948.1L402.4 955.8ZM464.1 945.8L485.6 941.5L485.4 937.6L463.9 942.3ZM559.8 926.6L567.6 925.1L567.3 919.5L559.5 921.2ZM662.3 906.1L704.3 897.7L703.9 889.4L661.9 898.7ZM710.1 896.5L718 894.9L717.5 886.4L709.7 888.1ZM751.1 888.3L888.9 860.7L888.2 848.8L750.7 879.1ZM901.5 858.2L998.2 838.8L997.5 824.7L900.9 846ZM1004 837.6L1011.9 836.1L1011.1 821.7L1003.3 823.5ZM1113.4 815.7L1121.2 814.2L1120.4 797.7L1112.5 799.4ZM1140.7 810.3L1155.4 807.3L1154.5 790.2L1139.8 793.4ZM1161.2 806.2L1189.6 800.5L1188.7 782.6L1160.3 788.9ZM1297.9 778.8L1312.6 775.8L1311.6 755.6L1296.9 758.8ZM1468.8 744.6L1545 729.3L1543.7 704.4L1467.6 721.2ZM1550.8 728.1L1572.3 723.8L1571 698.4L1549.5 703.1ZM334.2 971L342 969.3L342 968.2L334.1 970ZM347.8 968L355.7 966.3L355.6 964.9L347.8 966.8ZM361.5 965L369.3 963.3L369.2 961.7L361.4 963.5ZM402.5 956.1L437.6 948.4L437.5 945.4L402.3 953.8ZM470.7 941.2L485.4 938L485.2 934L470.5 937.5ZM559.5 921.8L567.4 920.1L567.1 914.5L559.2 916.4ZM661.9 899.5L669.8 897.7L669.4 890.2L661.5 892ZM675.6 896.5L703.9 890.3L703.5 882.1L675.2 888.8ZM757.5 878.6L888.3 850.1L887.6 838.2L757 869.3ZM894.1 848.8L1024.9 820.3L1024 805.7L893.4 836.8ZM1146.8 793.7L1168.3 789L1167.3 771.6L1145.8 776.7ZM1174.1 787.7L1181.9 786L1180.9 768.3L1173.1 770.2ZM1467.7 723.7L1509.7 714.5L1508.3 690.3L1466.4 700.3ZM1515.5 713.2L1537 708.5L1535.6 683.8L1514.1 689ZM1549.7 705.8L1571.2 701.1L1569.7 675.7L1548.2 680.8ZM334.1 970.1L355.6 965.1L355.5 963.7L334.1 969.2ZM361.4 963.7L369.3 961.8L369.2 960.2L361.3 962.2ZM409.2 952.4L437.5 945.7L437.3 942.8L409 950ZM477.4 936.3L485.2 934.5L485 930.5L477.1 932.5ZM559.2 917L567.1 915.1L566.7 909.6L558.9 911.6ZM627.5 900.9L635.3 899L634.9 892.1L627 894.2ZM661.6 892.8L696.7 884.5L696.2 876.4L661.1 885.4ZM757.1 870.3L887.7 839.4L887 827.6L756.5 861ZM900.3 836.5L983.2 816.9L982.4 803.1L899.6 824.3ZM989 815.5L1024.1 807.2L1023.2 792.7L988.2 801.7ZM1036.8 804.3L1044.6 802.4L1043.7 787.4L1035.9 789.4ZM1473.3 701.2L1508.5 692.9L1507 668.8L1471.9 677.7ZM334.1 969.3L355.5 963.8L355.4 962.5L334 968.4ZM361.3 962.4L382.8 956.9L382.7 955L361.2 960.9ZM415.8 948.5L444.1 941.3L443.9 938.2L415.7 946ZM477.2 932.9L491.8 929.2L491.6 925.2L476.9 929.2ZM558.9 912.2L566.8 910.2L566.4 904.7L558.6 906.8ZM668 884.5L675.8 882.5L675.3 874.8L667.5 876.9ZM729.3 868.9L737.1 866.9L736.6 858L728.7 860.2ZM756.6 862L893.9 827.1L893.1 815.1L756 852.7ZM906.5 823.9L968.8 808.1L967.9 794.6L905.7 811.7ZM974.6 806.6L1037 790.8L1036 775.9L973.7 793ZM1478.9 678.5L1514 669.6L1512.4 645.3L1477.3 654.9ZM334 968.5L355.5 962.6L355.4 961.3L334 967.5ZM361.2 961.1L382.7 955.2L382.6 953.3L361.1 959.6ZM408.9 948.1L443.9 938.6L443.7 935.5L408.7 945.7ZM477 929.6L491.6 925.6L491.3 921.6L476.7 925.8ZM599.5 896.3L607.3 894.1L606.9 887.8L599 890.1ZM660.7 879.6L675.4 875.6L674.8 867.9L660.2 872.2ZM728.8 861.1L852.3 827.5L851.5 816.3L728.2 852.4ZM858.1 825.9L865.9 823.8L865.1 812.3L857.3 814.6ZM905.8 813L1015.7 783.1L1014.7 768.7L904.9 800.7ZM1477.5 657.4L1519.4 646.1L1517.7 621.7L1475.8 633.9ZM334 967.6L355.4 961.4L355.3 960.1L333.9 966.7ZM361.2 959.7L382.6 953.5L382.4 951.6L361 958.3ZM408.7 945.9L450.5 933.8L450.3 930.6L408.6 943.5ZM483.5 924.3L491.3 922L491 917.9L483.2 920.4ZM558.3 902.6L566.1 900.3L565.7 894.8L557.9 897.2ZM660.3 873L668.1 870.7L667.5 863.2L659.7 865.6ZM694.3 863.1L729.3 853L728.6 844.2L693.7 855.1ZM735 851.3L831.2 823.4L830.4 812.7L734.4 842.4ZM891.4 806L1008 772.2L1006.9 757.9L890.5 794ZM1482.8 634.4L1490.6 632.2L1488.9 608.4L1481.1 610.8ZM1496.4 630.5L1524.6 622.3L1522.8 597.9L1494.6 606.6ZM333.9 966.8L355.3 960.2L355.2 958.8L333.8 965.9ZM361.1 958.4L382.4 951.8L382.3 949.9L360.9 957ZM408.6 943.8L450.3 930.9L450.1 927.7L408.4 941.4ZM483.3 920.8L497.9 916.3L497.5 912.1L482.9 916.9ZM653 868.5L667.6 864L667 856.5L652.4 861.3ZM700.5 853.8L823.7 815.9L822.9 805.3L699.9 845.7ZM863.4 803.6L871.3 801.2L870.3 789.7L862.5 792.3ZM877 799.5L1007 759.4L1005.9 745.2L876.1 787.8ZM1420.2 632.1L1428 629.7L1426.2 607.2L1418.4 609.7ZM333.8 966L382.3 950.1L382.1 948.3L333.8 965ZM401.6 943.8L450.1 928L449.8 924.8L401.4 941.6ZM483 917.3L490.8 914.8L490.4 910.7L482.7 913.4ZM632.1 868.7L653.5 861.7L652.9 854.4L631.6 861.8ZM693.2 848.8L734.8 835.1L734.1 826.3L692.5 840.7ZM740.6 833.3L768.7 824.1L767.9 814.6L739.9 824.3ZM794.8 815.6L816.2 808.6L815.3 798.2L794 805.5ZM862.6 793.5L877.2 788.7L876.2 777L861.7 782.1ZM916.9 775.8L992.5 751.1L991.3 737.2L915.8 763.3ZM1432.1 607.7L1446.7 602.9L1444.8 580L1430.2 585.1ZM333.8 965.1L382.2 948.5L382 946.6L333.7 964.2ZM394.7 944.1L443.1 927.5L442.8 924.4L394.5 942ZM482.7 913.8L490.5 911.2L490.1 907.1L482.4 910ZM563.9 885.9L571.7 883.2L571.2 877.6L563.4 880.4ZM631.6 862.6L646.2 857.5L645.6 850.4L631 855.7ZM679 846.2L761.3 817.9L760.4 808.5L678.3 838.5ZM814.4 799.6L822.2 796.9L821.3 786.4L813.5 789.2ZM834.7 792.6L869.6 780.6L868.6 769.1L833.8 781.8ZM915.9 764.6L937.3 757.3L936.1 744.4L914.9 752.2ZM943 755.3L957.6 750.3L956.4 737.1L941.9 742.4ZM963.3 748.3L971.1 745.6L969.9 732.1L962.2 735ZM1403.4 596.8L1411.1 594.1L1409.2 571.9L1401.4 574.7ZM333.7 964.3L388.8 944.3L388.6 942.3L333.6 963.4ZM394.5 942.2L422.6 932.1L422.3 929.4L394.3 940.1ZM428.3 930L442.8 924.7L442.6 921.6L428.1 927.2ZM448.6 922.6L456.4 919.8L456.1 916.5L448.3 919.4ZM482.4 910.4L490.2 907.6L489.8 903.5L482 906.5ZM556.7 883.4L571.3 878.2L570.7 872.5L556.2 878.1ZM631.1 856.5L638.9 853.6L638.2 846.7L630.5 849.7ZM671.6 841.8L747 814.4L746.2 805.3L670.9 834.2ZM820.3 787.8L828.1 785L827.1 774.3L819.4 777.3ZM921.7 751.1L956.5 738.5L955.3 725.2L920.6 738.5ZM333.6 963.5L422.3 929.7L422.1 927L333.5 962.5ZM428.1 927.5L456.1 916.8L455.8 913.5L427.8 924.7ZM482.1 906.9L489.8 904L489.4 900L481.7 903.1ZM563 876.1L570.8 873.1L570.3 867.5L562.5 870.6ZM630.5 850.4L638.3 847.4L637.6 840.5L629.9 843.6ZM677.8 832.4L712.5 819.2L711.7 810.7L677 824.7ZM718.2 817L746.3 806.3L745.4 797.2L717.4 808.4ZM927.4 737.3L948.7 729.2L947.4 716.1L926.2 724.6ZM333.5 962.6L381.7 943.4L381.5 941.5L333.4 961.7ZM387.4 941.1L422.1 927.3L421.8 924.6L387.2 939.1ZM427.8 925L462.5 911.1L462.2 907.7L427.6 922.2ZM475 906.2L489.5 900.4L489.1 896.4L474.6 902.5ZM562.6 871.2L570.3 868.1L569.7 862.5L562 865.8ZM629.9 844.3L637.7 841.2L637 834.3L629.2 837.5ZM690.6 820.1L745.5 798.2L744.5 789.1L689.7 812.1ZM771.4 787.8L792.6 779.4L791.6 769.4L770.4 778.3ZM333.4 961.8L381.5 941.7L381.3 939.9L333.3 960.9ZM387.2 939.4L421.9 924.9L421.6 922.2L387 937.4ZM427.6 922.5L468.9 905.2L468.6 901.6L427.3 919.7ZM474.7 902.8L482.4 899.6L482 895.8L474.3 899.1ZM568.8 863.5L583.3 857.5L582.6 851.6L568.2 858ZM615.9 843.9L630.3 837.8L629.6 831L615.2 837.4ZM703.3 807.4L744.6 790.1L743.7 781L702.4 799.1ZM750.4 787.7L798.4 767.6L797.4 757.5L749.4 778.5ZM1207.6 596.7L1222.1 590.7L1220.1 572.2L1205.7 578.6ZM333.4 961L361.2 948.8L361.1 947.4L333.3 960.1ZM366.9 946.4L381.3 940.1L381.1 938.2L366.7 944.8ZM393.8 934.7L468.6 902L468.2 898.4L393.5 932.5ZM474.3 899.5L482 896.2L481.6 892.3L473.9 895.8ZM575 855.6L582.7 852.3L582.1 846.4L574.3 849.9ZM608.5 841L629.7 831.8L628.9 825L607.8 834.6ZM702.5 800L763.9 773.2L762.9 763.8L701.6 791.8ZM769.6 770.7L804.2 755.7L803.1 745.4L768.6 761.2ZM1145.5 606.8L1159.9 600.5L1158 583.3L1143.6 589.9ZM1205.9 580.5L1220.3 574.2L1218.3 555.8L1203.9 562.3ZM333.3 960.2L361.1 947.5L360.9 946.1L333.2 959.3ZM366.8 944.9L374.5 941.4L374.3 939.7L366.6 943.4ZM393.6 932.8L421.4 920.1L421 917.5L393.3 930.7ZM433.7 914.5L481.6 892.7L481.2 888.9L433.4 911.6ZM574.4 850.5L582.1 847L581.4 841.2L573.8 844.9ZM587.8 844.4L622.3 828.8L621.5 822.1L587.1 838.5ZM701.7 792.7L803.2 746.5L802 736.3L700.7 784.5ZM1143.8 591.7L1151.5 588.2L1149.5 571.1L1141.8 574.7ZM1163.9 582.5L1178.3 576L1176.3 558.4L1161.9 565.2ZM1204.1 564.3L1218.5 557.7L1216.4 539.3L1202 546.1ZM333.2 959.4L354.2 949.4L354.1 948.1L333.1 958.4ZM366.6 943.5L374.3 939.9L374.1 938.2L366.4 942ZM393.3 930.9L414.4 920.9L414.1 918.4L393.1 928.8ZM433.4 911.9L481.2 889.3L480.8 885.4L433.1 909ZM587.2 839.1L614.9 826L614.2 819.5L586.5 833.2ZM727.6 772.7L802.1 737.4L800.9 727.2L726.5 764ZM1148.7 573.4L1156.4 569.7L1154.3 552.6L1146.7 556.3ZM1208.9 544.9L1216.6 541.3L1214.4 522.9L1206.7 526.7ZM1483 415.2L1490.7 411.5L1487.8 387.8L1480.1 391.6ZM1496.3 408.9L1530.8 392.6L1527.8 368L1493.5 385ZM333.1 958.5L354.1 948.2L353.9 946.9L333 957.6ZM393.1 929L414.1 918.7L413.8 916.1L392.8 926.9ZM433.1 909.3L440.8 905.5L440.4 902.5L432.8 906.4ZM446.5 902.7L480.8 885.8L480.4 882L446.1 899.6ZM593.2 830.5L607.6 823.5L606.8 817.2L592.5 824.5ZM746.7 755.1L781 738.2L779.8 728.4L745.5 746ZM786.7 735.4L801 728.3L799.8 718.2L785.4 725.5ZM833.4 712.4L841 708.6L839.7 697.7L832 701.6ZM1460.4 403.9L1541.5 364L1538.4 339.3L1457.5 380.7ZM333 957.7L353.9 947L353.8 945.7L332.9 956.8ZM392.9 927.1L407.2 919.8L406.9 917.4L392.6 925ZM432.8 906.7L480.4 882.4L479.9 878.6L432.4 903.8ZM745.6 746.9L760 739.6L758.7 730.3L744.5 737.9ZM765.6 736.7L799.9 719.2L798.6 709.1L764.4 727.3ZM1437.9 393.4L1485.5 369.1L1482.4 345.4L1434.9 370.7ZM1491.1 366.2L1538.7 341.9L1535.5 317.2L1488 342.4ZM332.9 956.9L353.8 945.8L353.6 944.5L332.7 956ZM392.6 925.2L400.3 921.2L400 919L392.4 923.2ZM432.5 904.1L446.8 896.6L446.3 893.4L432.1 901.3ZM452.4 893.6L473.3 882.5L472.8 878.8L452 890.3ZM518.8 858.4L533.1 850.9L532.4 846L518.2 853.8ZM751.2 735.3L798.7 710.2L797.4 700.1L750 726.2ZM1428.6 376.6L1535.8 319.8L1532.5 295.1L1425.6 354ZM332.8 956.1L353.6 944.6L353.4 943.3L332.6 955.2ZM392.4 923.4L400 919.2L399.7 917L392.1 921.3ZM432.1 901.6L439.8 897.4L439.3 894.4L431.7 898.7ZM445.4 894.3L472.9 879.2L472.4 875.5L444.9 891.2ZM505 861.6L532.5 846.5L531.8 841.7L504.4 857.3ZM756.8 723.5L810.8 693.9L809.3 683.5L755.5 714.2ZM1419.3 360.1L1532.9 297.7L1529.4 273.1L1416.1 337.7ZM332.6 955.3L353.5 943.5L353.3 942.1L332.5 954.4ZM392.1 921.5L399.7 917.2L399.4 915L391.8 919.4ZM458.2 884L472.4 875.9L471.9 872.3L457.7 880.6ZM504.5 857.7L525.3 845.9L524.6 841.2L503.9 853.4ZM755.6 715.2L822.7 677.1L821.2 666.5L754.3 705.9ZM1416.5 340.1L1496.8 294.5L1493.3 270.6L1413.3 317.8ZM1502.4 291.3L1529.8 275.7L1526.3 251.2L1498.9 267.3ZM332.5 954.5L353.3 942.3L353.1 941L332.4 953.6ZM391.9 919.7L399.4 915.2L399.1 913L391.5 917.6ZM457.8 881L465.4 876.5L464.8 873L457.3 877.6ZM503.9 853.9L518.1 845.6L517.4 841L503.3 849.6ZM767.6 699.2L834.5 659.9L832.9 649.1L766.2 689.7ZM998.3 563.8L1005.9 559.4L1003.8 545.2L996.2 549.8ZM1413.6 320.1L1460.7 292.5L1457.3 269.3L1410.3 297.9ZM1479.5 281.4L1493.7 273.1L1490.2 249.3L1476 257.9ZM1505.9 266L1526.7 253.8L1523 229.3L1502.3 241.9ZM332.4 953.7L353.1 941.1L352.9 939.8L332.3 952.8ZM385 921.8L392.6 917.2L392.2 915.1L384.7 919.8ZM503.3 850.1L510.9 845.5L510.2 841.1L502.7 845.8ZM772.9 686.7L833.1 650.3L831.4 639.5L771.4 677.1ZM1390.9 312.2L1424.8 291.7L1421.3 269.2L1387.6 290.4ZM1502.7 244.4L1523.4 231.9L1519.7 207.5L1499 220.4ZM332.3 952.9L352.9 939.9L352.7 938.6L332.1 952ZM384.7 920.1L392.3 915.3L392 913.3L384.4 918.1ZM502.8 846.2L510.3 841.5L509.6 837.1L502.1 842ZM778.2 674L838.1 636.5L836.4 625.6L776.6 664.3ZM1322.4 333.7L1343 320.8L1339.7 299.9L1319.1 313.3ZM1361.7 309.1L1395.5 288L1392 266.1L1358.3 287.9ZM1492.8 227.1L1520.1 210.1L1516.2 185.7L1489.1 203.3ZM332.2 952.1L352.8 938.8L352.5 937.5L332 951.2ZM449.9 876.2L457.4 871.3L456.8 867.9L449.3 872.9ZM495.6 846.7L503.1 841.8L502.4 837.5L494.9 842.5ZM776.8 665.4L784.3 660.5L782.7 650.7L775.2 655.7ZM789.9 656.9L836.6 626.8L834.8 615.9L788.2 647ZM1267.2 349.1L1320.5 314.8L1317.1 294.4L1264 329.8ZM1489.5 205.8L1516.6 188.3L1512.7 164L1485.6 182.1ZM332 951.3L346 941.9L345.8 940.8L331.9 950.4ZM768.8 661L795.9 643.1L794.2 633L767.2 651.5ZM801.4 639.4L835 617.1L833.2 606.3L799.7 629.2ZM1205.7 370.8L1239.2 348.5L1236.1 329.7L1202.6 352.7ZM1244.8 344.8L1297.9 309.5L1294.6 289.6L1241.6 325.9ZM1459.9 201.9L1467.4 196.9L1463.5 173.6L1456 178.7ZM1499.1 175.9L1513.1 166.6L1509 142.4L1495 152ZM331.9 950.5L345.9 940.9L345.7 939.7L331.7 949.6ZM390.4 910.4L397.9 905.3L397.5 903.1L390 908.4ZM767.4 652.5L774.9 647.4L773.2 637.8L765.8 643ZM799.9 630.3L839.9 603L838 592L798.2 620.2ZM1189.9 363.5L1197.4 358.4L1194.3 340.4L1186.9 345.7ZM1202.9 354.6L1275.4 305L1272 285.5L1199.8 336.5ZM1502 150.1L1509.4 145L1505.3 120.8L1497.8 126.1ZM331.8 949.7L345.7 939.9L345.5 938.7L331.6 948.8ZM390.1 908.6L397.5 903.4L397.1 901.2L389.7 906.6ZM474.3 849.3L481.8 844.1L481.1 840.2L473.7 845.6ZM804.8 616.7L818.8 606.9L816.9 596.4L803 606.5ZM1135.3 384.1L1142.8 378.8L1139.8 361.9L1132.4 367.3ZM1161.3 365.8L1265.9 292.1L1262.5 272.8L1158.2 348.6ZM331.6 948.9L345.5 938.8L345.3 937.7L331.5 948ZM389.8 906.8L397.2 901.4L396.8 899.2L389.4 904.8ZM473.7 846L481.2 840.6L480.5 836.8L473.1 842.3ZM531.9 803.9L539.3 798.5L538.4 793.6L531 799.1ZM1081 406.5L1243.5 288.9L1240 270L1078.1 390.8ZM1345.9 214.8L1353.3 209.4L1349.4 188.4L1342 193.9ZM1488 111.9L1495.4 106.5L1491.1 82.7L1483.7 88.2Z"/>
<path fill="#84d42c" d="M355.1 981L459.1 980.6L459.1 977.2L355.1 979.7ZM554.3 980.2L624 979.9L624 973.3L554.2 974.9ZM897.7 978.7L905.6 978.7L905.6 966.6L897.7 966.8ZM952.7 978.5L1111.7 977.8L1111.6 961.7L952.6 965.5ZM348.2 980L459.1 977.6L459.1 974L348.2 978.7ZM561.1 975.4L624 974L623.9 966.9L561.1 969.6ZM677.9 972.8L685.8 972.7L685.7 964.3L677.8 964.6ZM890.8 968.2L905.6 967.9L905.5 954.9L890.7 955.5ZM959.5 966.7L994.9 966L994.7 951.1L959.4 952.6ZM1014.4 965.5L1077.3 964.2L1077.1 947.6L1014.3 950.3ZM1083.1 964L1111.6 963.4L1111.5 946.1L1083 947.3ZM348.2 978.8L459.1 974.3L459 970.9L348.2 977.6ZM561.1 970.2L623.9 967.6L623.8 961L561 964.8ZM684.7 965.2L720.1 963.7L719.9 955.2L684.6 957.3ZM725.9 963.5L761.3 962.1L761.1 952.7L725.8 954.8ZM828.9 959.3L836.8 959L836.7 948.1L828.8 948.6ZM849.5 958.5L857.4 958.2L857.3 946.9L849.4 947.4ZM863.2 957.9L871.1 957.6L871 946L863.1 946.5ZM959.4 954L981 953.1L980.8 939.4L959.2 940.7ZM1028.1 951.2L1097.8 948.4L1097.6 932.4L1027.9 936.6ZM1103.6 948.2L1125.2 947.3L1125 930.7L1103.4 932ZM1337.1 938.7L1345 938.4L1344.7 917.5L1336.8 917.9ZM1426.4 935.1L1502.9 932L1502.6 907.9L1426.1 912.5ZM348.2 977.7L459 971.3L459 967.9L348.1 976.5ZM561 965.3L623.8 961.7L623.7 955L560.9 959.9ZM698.3 957.3L733.7 955.3L733.5 946.4L698.2 949.2ZM753.3 954.1L761.2 953.7L761 944.3L753.1 944.9ZM801.3 951.3L809.2 950.9L809 940.5L801.1 941.2ZM828.8 949.7L836.7 949.3L836.5 938.4L828.6 939ZM897.4 945.7L912.2 944.9L912 932.5L897.2 933.7ZM959.2 942.1L967.1 941.7L966.9 928.2L959 928.8ZM1034.8 937.7L1063.3 936.1L1063 920.7L1034.5 922.9ZM1069.1 935.7L1090.7 934.5L1090.5 918.6L1068.8 920.3ZM1103.4 933.7L1131.9 932.1L1131.6 915.4L1103.1 917.6ZM1178.9 929.3L1207.4 927.7L1207.1 909.5L1178.7 911.7ZM1330 920.5L1337.9 920.1L1337.5 899.3L1329.7 899.9ZM1433 914.5L1495.8 910.9L1495.4 887L1432.6 891.9ZM1501.7 910.5L1509.6 910.1L1509.1 885.9L1501.2 886.5ZM1549.7 907.7L1571.3 906.5L1570.9 881.1L1549.3 882.8ZM348.1 976.6L459 968.2L458.9 964.8L348.1 975.4ZM560.9 960.5L582.6 958.8L582.4 953L560.8 955.1ZM588.4 958.4L623.7 955.7L623.6 949.1L588.3 952.4ZM698.2 950.1L733.6 947.4L733.4 938.5L698 941.9ZM753.1 945.9L781.6 943.7L781.4 933.9L752.9 936.7ZM787.4 943.3L815.9 941.1L815.7 930.7L787.2 933.4ZM890.4 935.5L912 933.8L911.8 921.5L890.1 923.5ZM952.2 930.8L966.9 929.6L966.6 916.2L951.9 917.6ZM993.4 927.6L1001.3 927L1001 912.9L993.1 913.7ZM1027.7 925L1049.3 923.4L1049 908.3L1027.4 910.4ZM1068.9 921.9L1131.7 917.1L1131.3 900.4L1068.5 906.4ZM1165 914.6L1220.9 910.4L1220.5 891.9L1164.6 897.2ZM1233.6 909.4L1241.5 908.8L1241.1 889.9L1233.2 890.7ZM1254.2 907.8L1282.7 905.7L1282.3 886L1253.8 888.7ZM1295.4 904.7L1337.6 901.5L1337.1 880.7L1294.9 884.8ZM1446.4 893.2L1461.1 892.1L1460.6 868.9L1445.9 870.3ZM1473.8 891.2L1495.5 889.5L1494.9 865.6L1473.3 867.7ZM341.3 976.2L465.8 964.5L465.7 961L341.2 975.1ZM560.8 955.6L575.6 954.3L575.4 948.5L560.7 950.2ZM595.1 952.4L630.5 949.1L630.3 942.3L595 946.3ZM704.9 942.1L740.3 938.8L740 929.9L704.7 933.9ZM780.4 935.1L795.1 933.7L794.9 923.6L780.1 925.3ZM883.3 925.4L911.8 922.8L911.5 910.4L883 913.6ZM958.8 918.4L994.1 915.1L993.8 901.1L958.4 905.1ZM1027.4 911.9L1049 909.9L1048.6 894.9L1027 897.3ZM1061.7 908.7L1138.2 901.6L1137.8 884.7L1061.3 893.4ZM1164.6 899.1L1234.3 892.6L1233.8 873.8L1164.2 881.7ZM1315.6 885L1330.3 883.6L1329.8 862.9L1315.1 864.6ZM341.2 975.2L465.7 961.4L465.6 957.8L341.2 974.2ZM560.7 950.8L575.4 949.2L575.3 943.4L560.5 945.4ZM595 947L630.3 943L630.1 936.3L594.8 940.9ZM636.1 942.4L644 941.5L643.8 934.5L635.9 935.5ZM711.6 934L740 930.8L739.8 921.9L711.3 925.6ZM773.3 927.1L801.8 923.9L801.5 913.8L773 917.5ZM883 914.9L911.5 911.7L911.1 899.4L882.7 903.1ZM951.6 907.3L980.1 904.1L979.7 890.4L951.2 894.1ZM985.9 903.4L1041.8 897.2L1041.4 882.3L985.5 889.6ZM1061.4 895L1069.2 894.2L1068.8 878.7L1060.9 879.7ZM1075.1 893.5L1137.8 886.5L1137.3 869.7L1074.6 877.9ZM1150.5 885.1L1213.3 878.1L1212.7 859.8L1150 868ZM1308.3 867.5L1329.9 865.1L1329.2 844.5L1307.6 847.3ZM1514 844.6L1549.3 840.7L1548.6 815.7L1513.3 820.4ZM341.2 974.3L417.6 964.4L417.5 961.8L341.2 973.2ZM423.5 963.7L465.6 958.2L465.5 954.7L423.4 961ZM560.6 946L575.3 944.1L575.1 938.3L560.4 940.5ZM594.8 941.5L643.8 935.2L643.6 928.1L594.6 935.4ZM773.1 918.5L801.5 914.8L801.1 904.7L772.7 908.9ZM882.7 904.4L890.6 903.3L890.2 891.4L882.3 892.6ZM896.4 902.6L911.2 900.7L910.7 888.3L896 890.5ZM958.1 894.6L993.4 890.1L992.9 876.1L957.7 881.4ZM1006.1 888.4L1041.4 883.9L1040.9 869L1005.6 874.2ZM1074.7 879.6L1116.8 874.1L1116.2 857.7L1074.1 864ZM1136.4 871.6L1157.9 868.8L1157.3 851.6L1135.8 854.8ZM1300.9 850.4L1329.3 846.7L1328.6 826.1L1300.2 830.3ZM1499.6 824.7L1507.5 823.7L1506.7 799.6L1498.8 800.7ZM1513.4 822.9L1541.8 819.3L1540.9 794.5L1512.5 798.7ZM341.2 973.3L417.6 962.1L417.5 959.5L341.1 972.2ZM423.4 961.2L465.5 955.1L465.4 951.5L423.3 958.5ZM567.2 940.1L575.1 939L574.9 933.3L567 934.6ZM601.5 935.1L650.5 927.9L650.2 920.7L601.2 928.9ZM875.5 894.8L903.9 890.7L903.5 878.5L875.1 883.2ZM998.8 876.7L1034.1 871.5L1033.5 856.8L998.3 862.7ZM1300.2 832.5L1315 830.3L1314.2 810L1299.5 812.4ZM1498.9 803.3L1527.3 799.1L1526.4 774.6L1498 779.3ZM341.1 972.4L349 971.1L349 969.8L341.1 971.3ZM354.8 970.1L417.5 959.8L417.4 957.2L354.8 968.8ZM423.3 958.8L465.4 951.9L465.2 948.4L423.2 956.1ZM567 935.2L574.9 933.9L574.7 928.2L566.8 929.6ZM594.4 930.6L663.9 919.2L663.6 911.8L594.2 924.6ZM875.1 884.4L903.5 879.8L903 867.6L874.6 872.8ZM1306.4 813.4L1314.3 812.1L1313.4 791.8L1305.5 793.3ZM341.1 971.4L349 970L348.9 968.7L341 970.3ZM354.8 968.9L410.5 958.7L410.4 956.3L354.7 967.6ZM436.9 953.9L465.3 948.7L465.1 945.2L436.7 951ZM566.8 930.2L581.5 927.5L581.3 921.7L566.6 924.7ZM594.2 925.2L663.6 912.5L663.3 905.1L593.9 919.1ZM874.7 874L896.2 870.1L895.6 858.1L874.1 862.4ZM1141.4 825.4L1190.4 816.4L1189.5 798.6L1140.6 808.5ZM341 970.4L348.9 968.9L348.8 967.6L341 969.4ZM354.7 967.7L403.6 957.9L403.5 955.6L354.6 966.4ZM436.7 951.3L465.1 945.6L464.9 942.1L436.6 948.3ZM566.6 925.3L663.3 905.9L662.9 898.4L566.3 919.7ZM887.8 860.9L902.5 858L901.9 845.8L887.2 849ZM1154.4 807.5L1162.3 806L1161.3 788.6L1153.5 790.4ZM341 969.5L348.9 967.8L348.8 966.5L340.9 968.4ZM354.7 966.5L362.5 964.8L362.4 963.3L354.6 965.2ZM368.3 963.5L403.5 955.8L403.3 953.5L368.2 961.9ZM436.6 948.6L471.8 940.9L471.6 937.3L436.4 945.7ZM566.3 920.3L663 899.2L662.5 891.8L566 914.8ZM668.8 898L676.6 896.3L676.2 888.6L668.3 890.4ZM887.3 850.3L895.1 848.6L894.5 836.6L886.6 838.4ZM354.6 965.3L362.4 963.4L362.3 962L354.5 964ZM368.2 962.1L410.2 952.2L410 949.7L368.1 960.5ZM436.4 946L478.4 936.1L478.2 932.3L436.3 943ZM566.1 915.4L628.5 900.6L628.1 893.9L565.7 909.9ZM634.3 899.3L662.6 892.6L662.1 885.2L633.9 892.4ZM886.7 839.7L901.3 836.2L900.6 824.1L886 827.8ZM354.5 964.1L362.4 962.1L362.3 960.6L354.4 962.8ZM381.8 957.2L416.9 948.3L416.7 945.7L381.6 955.3ZM443.1 941.6L478.2 932.7L477.9 928.9L442.9 938.5ZM565.8 910.4L669 884.2L668.5 876.7L565.4 904.9ZM892.8 827.4L907.5 823.6L906.7 811.4L892.1 815.4ZM354.4 962.9L362.3 960.8L362.2 959.3L354.3 961.6ZM381.7 955.5L409.9 947.8L409.7 945.4L381.5 953.6ZM442.9 938.8L478 929.3L477.7 925.5L442.7 935.8ZM565.4 905.5L600.5 896L600.1 889.8L565 900ZM606.3 894.4L661.7 879.3L661.2 871.9L605.8 888.1ZM851.3 827.8L859.1 825.6L858.3 814.3L850.5 816.6ZM864.9 824.1L906.8 812.7L905.9 800.4L864.1 812.6ZM354.4 961.7L362.2 959.4L362.1 958L354.3 960.4ZM381.5 953.8L409.8 945.6L409.6 943.2L381.4 952ZM449.5 934.1L484.5 924L484.2 920L449.3 930.9ZM565.1 900.6L661.3 872.7L660.7 865.3L564.7 895.1ZM830.2 823.7L892.4 805.7L891.5 793.7L829.4 813ZM354.3 960.5L362.1 958.1L362 956.6L354.2 959.2ZM381.4 952.1L409.6 943.5L409.4 941L381.3 950.3ZM449.3 931.2L484.3 920.5L484 916.6L449.1 928ZM564.7 895.7L606.5 882.8L606 876.5L564.3 890.2ZM612.2 881L654 868.2L653.4 860.9L611.7 874.6ZM822.7 816.2L864.5 803.3L863.6 791.9L821.9 805.6ZM870.2 801.6L878 799.2L877.1 787.5L869.3 790ZM381.3 950.5L402.6 943.5L402.5 941.2L381.1 948.6ZM449.1 928.4L484 917L483.7 913.1L448.8 925.2ZM564.3 890.8L633.2 868.3L632.6 861.5L563.9 885.3ZM815.2 808.9L850.1 797.6L849.2 786.4L814.3 798.5ZM855.9 795.7L863.7 793.1L862.7 781.7L854.9 784.4ZM381.1 948.8L395.7 943.8L395.5 941.6L381 946.9ZM442.1 927.8L483.7 913.5L483.4 909.6L441.8 924.8ZM570.7 883.5L632.6 862.2L632 855.4L570.2 877.9ZM821.2 797.3L835.7 792.3L834.8 781.4L820.2 786.7ZM387.8 944.7L395.5 941.9L395.3 939.7L387.6 942.7ZM441.8 925.1L449.6 922.3L449.3 919.1L441.5 922ZM455.4 920.2L483.4 910L483 906.1L455 916.9ZM570.3 878.5L632.1 856.1L631.5 849.3L569.7 872.9ZM455.1 917.2L483.1 906.5L482.7 902.7L454.8 913.9ZM569.8 873.5L631.5 850L630.9 843.2L569.2 867.9ZM711.5 819.5L719.3 816.6L718.4 808L710.7 811.2ZM461.5 911.5L476 905.8L475.6 902L461.2 908.1ZM569.3 868.5L630.9 843.9L630.3 837.1L568.7 862.9ZM467.9 905.7L475.7 902.4L475.3 898.7L467.6 902.1ZM582.2 857.9L616.9 843.4L616.2 836.9L581.6 852.1ZM467.6 902.5L475.3 899.1L474.9 895.4L467.2 898.9ZM581.7 852.7L609.5 840.5L608.8 834.2L581 846.9ZM581.1 847.5L588.8 844L588.1 838L580.4 841.7ZM1459.8 293L1480.5 280.9L1477 257.3L1456.3 269.9ZM1492.7 273.7L1506.9 265.4L1503.3 241.3L1489.2 249.9ZM1423.8 292.3L1470.8 263.8L1467.2 240.4L1420.4 269.8ZM1476.4 260.4L1503.7 243.9L1500 219.8L1472.8 236.9ZM1394.5 288.6L1493.8 226.5L1490.1 202.6L1391 266.7ZM1319.5 315.4L1372.8 281.1L1369.3 259.6L1316.1 295ZM1378.3 277.5L1490.5 205.2L1486.6 181.4L1374.8 255.9ZM1296.9 310.2L1460.9 201.2L1457 178.1L1293.6 290.2ZM1466.5 197.6L1500 175.3L1496 151.3L1462.5 174.3ZM1274.4 305.7L1502.9 149.4L1498.8 125.4L1271.1 286.2ZM1265 292.8L1505.7 123.4L1501.4 99.3L1261.5 273.5ZM1242.5 289.6L1346.8 214.1L1343 193.2L1239 270.7ZM1352.3 210.1L1489 111.2L1484.6 87.5L1348.5 189.1ZM1494.5 107.2L1501.9 101.9L1497.5 77.9L1490.1 83.4Z"/>
<path fill="#b4e878" d="M677.9 979.7L713.3 979.5L713.2 971.2L677.9 972ZM719.1 979.5L809.4 979.1L809.4 968.9L719.1 971ZM1110.6 977.8L1194.1 977.5L1194 959.7L1110.6 961.7ZM684.7 972.7L802.5 970.1L802.5 959.3L684.7 964.3ZM829 969.5L857.5 968.9L857.4 957L828.9 958.2ZM883.9 968.4L891.8 968.2L891.7 955.5L883.8 955.8ZM993.8 966L1015.5 965.5L1015.3 950.2L993.7 951.1ZM1110.6 963.4L1187.2 961.8L1187 942.9L1110.5 946.2ZM719 963.8L726.9 963.4L726.8 954.7L718.9 955.2ZM760.2 962.1L829.9 959.3L829.8 948.5L760.1 952.7ZM980 953.2L1029.1 951.2L1028.9 936.5L979.8 939.5ZM1124.2 947.3L1207.6 943.9L1207.4 925.7L1124 930.8ZM1316.5 939.5L1338.1 938.7L1337.9 917.9L1316.2 919.2ZM760.1 953.7L802.4 951.3L802.2 941.1L760 944.4ZM808.2 950.9L829.8 949.7L829.6 938.9L808 940.6ZM966.1 941.7L1035.8 937.7L1035.5 922.9L965.9 928.3ZM1062.2 936.1L1070.1 935.7L1069.9 920.2L1062 920.8ZM1130.9 932.1L1180 929.3L1179.7 911.6L1130.6 915.4ZM1206.4 927.7L1221.2 926.9L1220.9 908.4L1206.1 909.6ZM1494.8 910.9L1502.7 910.5L1502.3 886.4L1494.4 887.1ZM581.5 958.9L589.4 958.3L589.3 952.3L581.4 953.1ZM780.6 943.8L788.5 943.2L788.3 933.3L780.4 934ZM965.9 929.7L994.4 927.6L994.1 913.6L965.6 916.3ZM1000.2 927.1L1028.7 925L1028.4 910.3L999.9 913ZM1130.6 917.2L1166 914.5L1165.6 897.2L1130.3 900.5ZM1219.9 910.4L1234.6 909.3L1234.2 890.6L1219.5 892ZM1240.5 908.9L1255.2 907.8L1254.8 888.6L1240.1 890ZM574.5 954.4L596.2 952.3L596 946.2L574.4 948.7ZM993.1 915.2L1028.4 911.8L1028.1 897.2L992.7 901.2ZM1137.2 901.7L1165.7 899L1165.2 881.6L1136.8 884.9ZM574.4 949.3L596 946.9L595.8 940.7L574.2 943.6ZM1136.8 886.6L1151.5 885L1151 867.9L1136.3 869.8ZM574.3 944.2L595.9 941.4L595.6 935.3L574.1 938.5ZM1506.5 823.8L1514.4 822.8L1513.5 798.5L1505.7 799.7ZM574.1 939.1L602.5 934.9L602.3 928.7L573.9 933.4ZM573.9 934L595.5 930.5L595.2 924.4L573.6 928.4ZM580.5 927.7L595.2 925L594.9 918.9L580.2 921.9ZM605.5 883.1L613.3 880.7L612.8 874.3L605 876.8ZM849.1 797.9L856.9 795.3L855.9 784.1L848.2 786.8ZM1469.8 264.4L1477.4 259.8L1473.8 236.3L1466.2 241ZM1371.8 281.7L1379.3 276.8L1375.8 255.3L1368.3 260.3Z"/>
<path fill="#ccf09a" d="M712.2 979.5L720.1 979.5L720.1 971L712.2 971.2ZM808.4 979.1L864.4 978.9L864.3 967.6L808.4 968.9ZM890.8 978.8L898.7 978.7L898.7 966.8L890.8 966.9ZM1193.1 977.5L1201 977.5L1200.9 959.6L1193 959.8ZM1296.1 977.1L1304 977L1303.9 957.1L1296 957.3ZM801.5 970.1L830 969.5L829.9 958.1L801.4 959.3ZM856.5 969L885 968.3L884.9 955.8L856.4 957ZM1186.1 961.8L1200.9 961.5L1200.8 942.3L1186 942.9ZM1206.6 944L1228.2 943.1L1228 924.5L1206.4 925.8ZM1234.1 942.9L1317.5 939.5L1317.3 919.1L1233.8 924.1ZM1220.1 926.9L1331 920.5L1330.7 899.8L1219.8 908.5Z"/>
<path fill="#e6e4a8" d="M863.4 978.9L891.9 978.8L891.8 966.9L863.3 967.6ZM1199.9 977.5L1255.9 977.2L1255.8 958.3L1199.9 959.6ZM1261.8 977.2L1269.7 977.2L1269.6 957.9L1261.7 958.1ZM1282.4 977.1L1297.1 977.1L1297.1 957.3L1282.3 957.6ZM1303 977L1310.9 977L1310.8 957L1302.9 957.1ZM1199.9 961.5L1310.8 959.1L1310.6 937.6L1199.7 942.4ZM1227.2 943.2L1235.1 942.8L1234.9 924.1L1227 924.6Z"/>
<path fill="#f8eeb0" d="M1254.9 977.2L1262.8 977.2L1262.7 958.1L1254.8 958.3ZM1268.6 977.2L1283.4 977.1L1283.3 957.6L1268.6 958Z"/>
<path fill="#ece6b0" d="M1309.8 977L1434.5 976.5L1434.4 954L1309.8 957Z"/>
<path fill="#f6e6b4" d="M1309.8 959.1L1434.4 956.4L1434.2 932.3L1309.6 937.7Z"/></g></g>
<rect x="286.8" y="119.8" width="1720.2" height="861.5" fill="none" stroke="#000" stroke-width="3.5"/>
<path d="M286.8 981.3v17M501.8 981.3v17M716.9 981.3v17M931.9 981.3v17M1146.9 981.3v17M1361.9 981.3v17M1577 981.3v17M1792 981.3v17M2007 981.3v17M286.8 981.3h-17M286.8 809h-17M286.8 636.7h-17M286.8 464.4h-17M286.8 292.1h-17M286.8 119.8h-17" stroke="#000" stroke-width="3.5" fill="none"/>
<g font-family="'DejaVu Sans','Liberation Sans',sans-serif" font-size="48.6" fill="#000">
<text x="286.8" y="1052" text-anchor="middle" textLength="30.1">0</text>
<text x="501.8" y="1052" text-anchor="middle" textLength="90.4">500</text>
<text x="716.9" y="1052" text-anchor="middle" textLength="120.6">1000</text>
<text x="931.9" y="1052" text-anchor="middle" textLength="120.6">1500</text>
<text x="1146.9" y="1052" text-anchor="middle" textLength="120.6">2000</text>
<text x="1361.9" y="1052" text-anchor="middle" textLength="120.6">2500</text>
<text x="1577" y="1052" text-anchor="middle" textLength="120.6">3000</text>
<text x="1792" y="1052" text-anchor="middle" textLength="120.6">3500</text>
<text x="2007" y="1052" text-anchor="middle" textLength="120.6">4000</text>
<text x="253.3" y="999.9" text-anchor="end" textLength="30.5">0</text>
<text x="253.3" y="827.6" text-anchor="end" textLength="91.4">200</text>
<text x="253.3" y="655.3" text-anchor="end" textLength="91.4">400</text>
<text x="253.3" y="483" text-anchor="end" textLength="91.4">600</text>
<text x="253.3" y="310.7" text-anchor="end" textLength="91.4">800</text>
<text x="253.3" y="138.4" text-anchor="end" textLength="121.8">1000</text>
<text x="1146.9" y="1122.3" text-anchor="middle" textLength="798">Horizontal distance from SRL (m)</text>
<text transform="translate(99.6,551.2) rotate(-90)" text-anchor="middle" textLength="733">Vertical distance from SRL (m)</text>
</g>
<text x="1146.9" y="92" text-anchor="middle" textLength="1167" font-family="'DejaVu Sans','Liberation Sans',sans-serif" font-size="58.3" fill="#000">SRL-X25 | 2025-01-15 | 09:52:00 UTC+8</text>
<rect x="286.5" y="1173.6" width="43.6" height="84.4" fill="#06062e"/>
<rect x="329.5" y="1173.6" width="43.6" height="84.4" fill="#0a0a50"/>
<rect x="372.5" y="1173.6" width="43.6" height="84.4" fill="#0c0a6e"/>
<rect x="415.5" y="1173.6" width="43.6" height="84.4" fill="#0a0a8a"/>
<rect x="458.5" y="1173.6" width="43.6" height="84.4" fill="#06149a"/>
<rect x="501.5" y="1173.6" width="43.6" height="84.4" fill="#0028a0"/>
<rect x="544.5" y="1173.6" width="43.6" height="84.4" fill="#0044b0"/>
<rect x="587.5" y="1173.6" width="43.6" height="84.4" fill="#0058c0"/>
<rect x="630.5" y="1173.6" width="43.6" height="84.4" fill="#0068d0"/>
<rect x="673.5" y="1173.6" width="43.6" height="84.4" fill="#0078c8"/>
<rect x="716.6" y="1173.6" width="43.6" height="84.4" fill="#0090b8"/>
<rect x="759.6" y="1173.6" width="43.6" height="84.4" fill="#0a9aa8"/>
<rect x="802.6" y="1173.6" width="43.6" height="84.4" fill="#0ab090"/>
<rect x="845.6" y="1173.6" width="43.6" height="84.4" fill="#10b87c"/>
<rect x="888.6" y="1173.6" width="43.6" height="84.4" fill="#12a860"/>
<rect x="931.6" y="1173.6" width="43.6" height="84.4" fill="#22b040"/>
<rect x="974.6" y="1173.6" width="43.6" height="84.4" fill="#50bc28"/>
<rect x="1017.6" y="1173.6" width="43.6" height="84.4" fill="#84d42c"/>
<rect x="1060.6" y="1173.6" width="43.6" height="84.4" fill="#b4e878"/>
<rect x="1103.6" y="1173.6" width="43.6" height="84.4" fill="#ccf09a"/>
<rect x="1146.6" y="1173.6" width="43.6" height="84.4" fill="#e6e4a8"/>
<rect x="1189.6" y="1173.6" width="43.6" height="84.4" fill="#f8eeb0"/>
<rect x="1232.6" y="1173.6" width="43.6" height="84.4" fill="#fce848"/>
<rect x="1275.6" y="1173.6" width="43.6" height="84.4" fill="#fdd628"/>
<rect x="1318.6" y="1173.6" width="43.6" height="84.4" fill="#fdc018"/>
<rect x="1361.6" y="1173.6" width="43.6" height="84.4" fill="#fda018"/>
<rect x="1404.6" y="1173.6" width="43.6" height="84.4" fill="#fd8810"/>
<rect x="1447.6" y="1173.6" width="43.6" height="84.4" fill="#fd6a08"/>
<rect x="1490.6" y="1173.6" width="43.6" height="84.4" fill="#fa4808"/>
<rect x="1533.6" y="1173.6" width="43.6" height="84.4" fill="#f03410"/>
<rect x="1576.7" y="1173.6" width="43.6" height="84.4" fill="#e02c18"/>
<rect x="1619.7" y="1173.6" width="43.6" height="84.4" fill="#d02820"/>
<rect x="1662.7" y="1173.6" width="43.6" height="84.4" fill="#bc1a2c"/>
<rect x="1705.7" y="1173.6" width="43.6" height="84.4" fill="#b00838"/>
<rect x="1748.7" y="1173.6" width="43.6" height="84.4" fill="#980850"/>
<rect x="1791.7" y="1173.6" width="43.6" height="84.4" fill="#800880"/>
<rect x="1834.7" y="1173.6" width="43.6" height="84.4" fill="#600a90"/>
<rect x="1877.7" y="1173.6" width="43.6" height="84.4" fill="#480888"/>
<rect x="1920.7" y="1173.6" width="43.6" height="84.4" fill="#340660"/>
<rect x="1963.7" y="1173.6" width="43.6" height="84.4" fill="#28043c"/>
<rect x="286.8" y="1173.6" width="1720.2" height="84.4" fill="none" stroke="#000" stroke-width="3.5"/>
<path d="M286.8 1258v17M501.8 1258v17M716.9 1258v17M931.9 1258v17M1146.9 1258v17M1361.9 1258v17M1577 1258v17M1792 1258v17M2007 1258v17" stroke="#000" stroke-width="3.5" fill="none"/>
<g font-family="'DejaVu Sans','Liberation Sans',sans-serif" font-size="48.6" fill="#000" text-anchor="middle">
<text x="286.8" y="1331">−20</text>
<text x="501.8" y="1331">−15</text>
<text x="716.9" y="1331">−10</text>
<text x="931.9" y="1331">−5</text>
<text x="1146.9" y="1331">0</text>
<text x="1361.9" y="1331">5</text>
<text x="1577" y="1331">10</text>
<text x="1792" y="1331">15</text>
<text x="2007" y="1331">20</text>
<text x="1146.9" y="1399.5" textLength="622">Radial wind velocity (m/s)</text>
</g>
</g>
<text x="1067.5" y="3270.8" text-anchor="middle" font-family="'Liberation Serif','DejaVu Serif',serif" font-size="72" fill="#000">(<tspan font-weight="bold">b</tspan>)</text>
</svg>
</body>
</html>
